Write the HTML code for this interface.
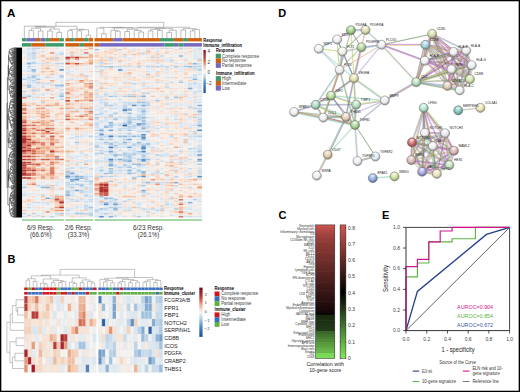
<!DOCTYPE html>
<html><head><meta charset="utf-8"><style>
html,body{margin:0;padding:0;background:#fff;}
body{width:520px;height:392px;overflow:hidden;position:relative;font-family:"Liberation Sans",sans-serif;}
svg{position:absolute;left:0;top:0;}
.frame{position:absolute;left:0;top:0;width:518px;height:390px;border:1px solid #000;box-shadow:inset 0 0 0 0.6px rgba(0,0,0,0.55);}
</style></head><body>
<svg width="520" height="392" viewBox="0 0 520 392" font-family="Liberation Sans, sans-serif">
<text x="6.9" y="16.5" font-size="11.6" fill="#000" font-weight="bold">A</text>
<rect x="22.00" y="38.1" width="4.65" height="3.3" fill="#3f9a6a"/>
<rect x="26.65" y="38.1" width="9.30" height="3.3" fill="#7469bf"/>
<rect x="35.95" y="38.1" width="4.65" height="3.3" fill="#cf600c"/>
<rect x="40.60" y="38.1" width="4.65" height="3.3" fill="#7469bf"/>
<rect x="45.25" y="38.1" width="4.65" height="3.3" fill="#3f9a6a"/>
<rect x="49.90" y="38.1" width="9.30" height="3.3" fill="#cf600c"/>
<rect x="59.20" y="38.1" width="4.65" height="3.3" fill="#3f9a6a"/>
<rect x="65.40" y="38.1" width="4.62" height="3.3" fill="#cf600c"/>
<rect x="70.02" y="38.1" width="4.62" height="3.3" fill="#3f9a6a"/>
<rect x="74.64" y="38.1" width="9.24" height="3.3" fill="#cf600c"/>
<rect x="83.88" y="38.1" width="4.62" height="3.3" fill="#3f9a6a"/>
<rect x="88.50" y="38.1" width="4.62" height="3.3" fill="#cf600c"/>
<rect x="94.50" y="38.1" width="18.68" height="3.3" fill="#cf600c"/>
<rect x="113.18" y="38.1" width="9.34" height="3.3" fill="#7469bf"/>
<rect x="122.52" y="38.1" width="37.36" height="3.3" fill="#cf600c"/>
<rect x="159.88" y="38.1" width="14.01" height="3.3" fill="#3f9a6a"/>
<rect x="173.89" y="38.1" width="9.34" height="3.3" fill="#cf600c"/>
<rect x="183.23" y="38.1" width="4.67" height="3.3" fill="#3f9a6a"/>
<rect x="187.90" y="38.1" width="14.01" height="3.3" fill="#cf600c"/>
<rect x="22.00" y="43.1" width="9.30" height="3.5" fill="#3f9a6a"/>
<rect x="31.30" y="43.1" width="13.95" height="3.5" fill="#cf600c"/>
<rect x="45.25" y="43.1" width="18.60" height="3.5" fill="#3f9a6a"/>
<rect x="65.40" y="43.1" width="13.86" height="3.5" fill="#cf600c"/>
<rect x="79.26" y="43.1" width="4.62" height="3.5" fill="#3f9a6a"/>
<rect x="83.88" y="43.1" width="9.24" height="3.5" fill="#cf600c"/>
<rect x="94.50" y="43.1" width="4.67" height="3.5" fill="#cf600c"/>
<rect x="99.17" y="43.1" width="65.38" height="3.5" fill="#7469bf"/>
<rect x="164.55" y="43.1" width="9.34" height="3.5" fill="#3f9a6a"/>
<rect x="173.89" y="43.1" width="4.67" height="3.5" fill="#7469bf"/>
<rect x="178.56" y="43.1" width="4.67" height="3.5" fill="#3f9a6a"/>
<rect x="183.23" y="43.1" width="18.68" height="3.5" fill="#7469bf"/>
<text transform="translate(203.30,41.50) scale(0.470)" font-size="10" fill="#000" font-weight="bold" textLength="39.79" lengthAdjust="spacingAndGlyphs">Response</text>
<text transform="translate(203.30,46.60) scale(0.470)" font-size="10" fill="#000" font-weight="bold" textLength="82.34" lengthAdjust="spacingAndGlyphs">Immune_infiltration</text>
<path d="M28.97 38.10V30.50H33.62V38.10M38.28 38.10V31.00H42.93V38.10M31.30 30.50V28.20H40.60V31.00M47.58 38.10V31.00H52.23V38.10M56.88 38.10V32.40H61.53V38.10M49.90 31.00V29.00H59.20V32.40M35.95 28.20V27.20H54.55V29.00M24.32 38.10V26.20H45.25V27.20M67.71 38.10V30.60H72.33V38.10M76.95 38.10V30.80H81.57V38.10M86.19 38.10V35.20H90.81V38.10M79.26 30.80V29.80H88.50V35.20M70.02 30.60V29.30H83.88V29.80M34.79 26.20V26.30H76.95V29.30M101.50 38.10V33.90H106.17V38.10M96.83 38.10V28.10H103.84V33.90M115.52 38.10V31.20H120.18V38.10M110.84 38.10V30.40H117.85V31.20M124.85 38.10V31.50H129.53V38.10M138.87 38.10V32.00H143.53V38.10M134.20 38.10V30.50H141.20V32.00M127.19 31.50V29.20H137.70V30.50M114.35 30.40V27.60H132.44V29.20M100.34 28.10V27.40H123.40V27.60M148.21 38.10V31.00H152.88V38.10M157.55 38.10V30.60H162.22V38.10M150.54 31.00V29.40H159.88V30.60M166.89 38.10V32.50H171.56V38.10M169.22 32.50V30.20H176.22V38.10M155.21 29.40V28.60H172.72V30.20M111.87 27.40V27.90H163.97V28.60M180.90 38.10V30.00H185.57V38.10M190.24 38.10V31.00H194.91V38.10M192.57 31.00V29.60H199.58V38.10M183.23 30.00V28.70H196.07V29.60M137.92 27.90V27.25H189.65V28.70M55.87 26.30V22.30H163.78V27.25" fill="none" stroke="#8a8a8a" stroke-width="0.55"/>
<rect x="16.2" y="47.6" width="5.8" height="169.9" fill="#000"/>
<path d="M16.30 156.87H13.50V157.34H16.30M16.30 93.60H13.85V94.07H16.30M16.30 92.65H14.77V93.13H16.30M16.30 179.06H13.90V179.53H16.30M16.30 144.12H13.81V144.59H16.30M16.30 200.77H14.96V201.25H16.30M16.30 94.54H13.61V95.01H16.30M16.30 128.06H14.03V128.54H16.30M16.30 205.97H13.79V206.44H16.30M16.30 161.11H13.30V161.59H16.30M16.30 67.63H14.04V68.10H16.30M16.30 54.88H14.24V55.35H16.30M16.30 120.04H13.51V120.51H16.30M16.30 47.80H14.12V48.27H16.30M16.30 147.89H13.85V148.37H16.30M16.30 115.79H14.37V116.26H16.30M16.30 151.67H13.72V152.14H16.30M16.30 50.63H14.69V51.11H16.30M16.30 190.39H14.66V190.86H16.30M16.30 81.32H14.82V81.79H16.30M16.30 155.92H13.49V156.39H16.30M16.30 199.83H14.66V200.30H16.30M16.30 203.14H15.01V203.61H16.30M16.30 85.10H15.09V85.57H16.30M16.30 132.79H14.93V133.26H16.30M16.30 71.41H14.55V71.88H16.30M16.30 204.55H14.15V205.02H16.30M16.30 173.86H13.48V174.33H16.30M16.30 96.43H13.42V96.90H16.30M16.30 208.80H13.67V209.27H16.30M16.30 192.75H13.89V193.22H16.30M16.30 158.75H15.01V159.23H16.30M16.30 114.37H14.20V114.84H16.30M16.30 206.91H14.69V207.38H16.30M16.30 65.74H13.96V66.21H16.30M16.30 213.05H14.61V213.52H16.30M16.30 102.57H14.22V103.04H16.30M16.30 63.38H14.47V63.85H16.30M16.30 188.97H14.31V189.44H16.30M16.30 168.67H13.37V169.14H16.30M16.30 57.24H13.42V57.72H16.30M16.30 131.84H13.84V132.31H16.30M16.30 178.11H14.78V178.58H16.30M16.30 68.57H14.30V69.05H16.30M16.30 60.08H14.90V60.55H16.30M16.30 177.17H13.49V177.64H16.30M16.30 52.05H13.92V52.52H16.30M16.30 216.83H13.83V217.30H16.30M16.30 119.09H13.39V119.57H16.30M16.30 210.22H13.52V210.69H16.30M16.30 72.82H14.41V73.30H16.30M16.30 74.24H13.35V74.71H16.30M16.30 186.14H13.44V186.61H16.30M16.30 150.26H14.03V150.73H16.30M16.30 143.17H14.38V143.65H16.30M16.30 104.93H13.46V105.40H16.30M16.30 110.60H14.62V111.07H16.30M16.30 86.99H13.72V87.46H16.30M16.30 127.12H14.11V127.59H16.30M16.30 109.65H14.07V110.12H16.30M16.30 138.92H13.54V139.40H16.30M16.30 129.01H14.33V129.48H16.30M16.30 212.11H14.14V212.58H16.30M16.30 125.23H13.59V125.70H16.30M16.30 82.27H13.81V82.74H16.30M16.30 106.35H13.55V106.82H16.30M16.30 123.82H14.00V124.29H16.30M16.30 58.66H13.61V59.13H16.30M16.30 207.86H14.25V208.33H16.30M16.30 75.18H14.79V75.66H16.30M16.30 182.83H13.98V183.31H16.30M16.30 197.00H13.81V197.47H16.30M16.30 78.49H14.55V78.96H16.30M16.30 165.36H13.33V165.84H16.30M16.30 145.53H14.06V146.01H16.30M16.30 180.94H14.20V181.42H16.30M16.30 195.11H13.57V195.58H16.30M16.30 100.68H14.01V101.15H16.30M16.30 90.77H13.43V91.24H16.30M16.30 198.41H13.65V198.89H16.30M16.30 181.89H14.02V182.36H16.30M16.30 112.48H14.42V112.96H16.30M16.30 91.71H14.64V92.18H16.30M16.30 215.88H13.89V216.36H16.30M16.30 56.30H13.99V56.77H16.30M16.30 77.55H14.95V78.02H16.30M16.30 175.75H14.54V176.22H16.30M16.30 88.88H13.43V89.35H16.30M16.30 214.94H14.66V215.41H16.30M16.30 89.82H15.02V90.29H16.30M16.30 99.26H14.39V99.74H16.30M14.69 207.15H13.10V208.09H14.25M16.30 130.43H13.73V130.90H16.30M16.30 187.08H13.54V187.55H16.30M16.30 115.32H12.73V116.02H14.37M16.30 160.17H14.40V160.64H16.30M16.30 79.43H14.78V79.91H16.30M16.30 76.60H14.26V77.07H16.30M16.30 184.72H14.24V185.19H16.30M16.30 53.47H13.42V53.94H16.30M16.30 166.31H14.06V166.78H16.30M16.30 84.16H15.05V84.63H16.30M16.30 113.43H14.83V113.90H16.30M16.30 107.76H13.93V108.23H16.30M16.30 69.99H14.92V70.46H16.30M16.30 117.68H14.19V118.15H16.30M15.05 84.39H13.82V85.34H15.09M16.30 167.25H14.64V167.72H16.30M16.30 121.45H14.30V121.93H16.30M16.30 152.62H14.88V153.09H16.30M16.30 183.78H14.90V184.25H16.30M16.30 169.61H13.42V170.09H16.30M16.30 146.95H14.66V147.42H16.30M16.30 108.71H14.52V109.18H16.30M16.30 66.69H14.72V67.16H16.30M16.30 122.40H14.37V122.87H16.30M16.30 170.56H14.18V171.03H16.30M16.30 80.38H14.67V80.85H16.30M16.30 103.51H14.86V103.99H16.30M16.30 162.53H13.86V163.00H16.30M16.30 98.32H14.36V98.79H16.30M14.67 80.61H13.34V81.56H14.82M16.30 142.23H14.61V142.70H16.30M16.30 188.03H15.06V188.50H16.30M13.98 183.07H13.21V184.01H14.90M16.30 141.28H14.65V141.76H16.30M16.30 49.22H14.53V49.69H16.30M16.30 149.31H14.05V149.78H16.30M16.30 154.50H13.83V154.98H16.30M16.30 61.49H13.90V61.96H16.30M16.30 191.80H14.27V192.28H16.30M16.30 140.81H13.21V141.52H14.65M16.30 131.37H13.06V132.08H13.84M16.30 126.18H14.01V126.65H16.30M16.30 172.92H13.39V173.39H16.30M16.30 174.81H15.05V175.28H16.30M14.24 55.12H12.91V55.83H16.30M14.33 129.24H13.80V129.95H16.30M14.07 109.89H12.86V110.83H14.62M16.30 111.54H13.43V112.01H16.30M16.30 135.15H13.33V135.62H16.30M14.88 152.85H12.92V153.56H16.30M16.30 193.69H14.54V194.16H16.30M16.30 171.97H14.21V172.45H16.30M14.92 70.23H13.50V70.94H16.30M16.30 137.98H13.79V138.45H16.30M14.01 100.92H12.81V101.62H16.30M14.66 200.07H13.34V201.01H14.96M16.30 72.35H13.58V73.06H14.41M14.42 112.72H13.21V113.66H14.83M14.86 103.75H13.24V104.46H16.30M14.54 193.93H13.12V194.64H16.30M16.30 97.38H14.06V97.85H16.30M16.30 191.33H12.94V192.04H14.27M14.53 49.45H14.02V50.16H16.30M14.04 67.87H13.24V68.81H14.30M16.30 64.80H13.98V65.27H16.30M14.02 182.13H12.45V183.54H13.21M16.30 123.34H13.41V124.05H14.00M16.30 146.48H12.92V147.19H14.66M16.30 214.47H13.04V215.18H14.66M13.81 82.50H12.57V83.21H16.30M14.64 167.49H13.01V168.20H16.30M14.93 133.02H13.43V133.73H16.30M14.47 63.62H13.87V64.33H16.30M16.30 157.81H14.13V158.28H16.30M14.02 49.81H12.42V50.87H14.69M14.24 184.96H13.09V185.67H16.30M14.15 204.79H13.40V205.50H16.30M16.30 134.20H13.43V134.67H16.30M14.05 149.55H12.81V150.49H14.03M13.40 205.14H12.10V206.20H13.79M14.36 98.56H13.31V99.50H14.39M13.96 65.98H12.48V66.92H14.72M16.30 136.09H13.92V136.56H16.30M16.30 137.04H13.99V137.51H16.30M16.30 180.00H13.64V180.47H16.30M16.30 116.73H14.97V117.21H16.30M16.30 86.52H12.51V87.22H13.72M15.06 188.26H13.41V189.21H14.31M13.80 129.60H12.99V130.66H13.73M16.30 124.76H12.43V125.47H13.59M16.30 154.03H13.11V154.74H13.83M15.05 175.04H12.94V175.99H14.54M13.92 136.33H12.64V137.27H13.99M16.30 62.91H12.56V63.97H13.87M16.30 58.19H12.20V58.90H13.61M16.30 164.42H13.83V164.89H16.30M16.30 76.13H13.21V76.84H14.26M13.50 157.10H11.97V158.05H14.13M13.43 91.00H12.60V91.95H14.64M13.90 61.73H12.87V62.44H16.30M14.55 78.73H12.93V79.67H14.78M13.92 52.29H12.75V52.99H16.30M16.30 102.10H13.51V102.80H14.22M15.01 203.37H13.28V204.08H16.30M13.10 207.62H12.55V209.04H13.67M15.01 158.99H13.41V159.70H16.30M14.78 178.35H12.37V179.29H13.90M14.61 142.47H12.72V143.41H14.38M14.90 60.31H13.11V61.02H16.30M13.57 195.35H12.24V196.05H16.30M16.30 176.70H12.05V177.40H13.49M16.30 171.50H12.59V172.21H14.21M16.30 163.48H14.51V163.95H16.30M14.30 121.69H13.78V122.63H14.37M16.30 211.16H13.55V211.63H16.30M13.85 148.13H13.09V148.84H16.30M13.44 186.37H12.98V187.32H13.54M13.43 134.44H12.06V135.38H13.33M13.39 173.15H12.78V174.10H13.48M16.30 201.72H14.73V202.19H16.30M14.51 163.71H12.71V164.66H13.83M13.50 70.58H12.30V71.64H14.55M16.30 162.06H12.61V162.77H13.86M12.94 191.69H12.28V192.98H13.89M16.30 83.68H12.29V84.86H13.82M14.61 213.29H13.01V213.99H16.30M16.30 120.98H13.14V122.16H13.78M14.40 160.41H11.86V161.35H13.30M12.98 186.85H12.56V188.74H13.41M16.30 88.40H12.85V89.11H13.43M13.42 169.85H12.95V170.79H14.18M16.30 95.96H12.57V96.67H13.42M13.55 211.40H13.01V212.34H14.14M14.73 201.96H13.67V202.66H16.30M16.30 145.06H12.37V145.77H14.06M14.01 126.41H13.34V127.36H14.11M14.06 166.54H12.45V167.84H13.01M16.30 139.87H14.52V140.34H16.30M14.19 117.91H13.04V118.62H16.30M16.30 107.29H13.19V108.00H13.93M13.31 99.03H12.56V100.21H16.30M13.81 197.23H12.81V197.94H16.30M13.89 216.12H13.26V217.06H13.83M13.54 139.16H13.10V140.10H14.52M16.30 73.77H12.12V74.48H13.35M13.09 148.48H12.34V150.02H12.81M14.12 48.04H12.76V48.74H16.30M13.55 106.58H12.42V107.64H13.19M14.79 75.42H11.94V76.48H13.21M13.42 53.70H12.13V54.41H16.30M12.81 101.27H11.77V102.45H13.51M13.11 154.39H12.04V155.45H16.30M16.30 51.58H11.99V52.64H12.75M14.97 116.97H12.57V118.27H13.04M13.51 120.27H12.65V121.57H13.14M14.77 92.89H12.62V93.83H13.85M16.30 189.92H13.92V190.62H14.66M13.79 138.22H12.36V139.63H13.10M13.65 198.65H12.75V199.36H16.30M13.04 214.82H11.71V216.59H13.26M13.01 211.87H12.55V213.64H13.01M16.30 151.20H12.78V151.91H13.72M12.42 107.11H11.39V108.94H14.52M13.06 131.72H12.36V133.38H13.43M13.46 105.17H12.80V105.87H16.30M12.78 151.55H11.44V153.21H12.92M12.48 66.45H11.26V68.34H13.24M13.34 126.88H11.90V128.30H14.03M16.30 59.60H11.80V60.67H13.11M12.60 91.47H11.61V93.36H12.62M12.59 171.86H12.19V173.63H12.78M13.33 165.60H11.19V167.19H12.45M12.57 96.31H11.95V97.61H14.06M12.73 115.67H11.35V117.62H12.57M13.37 168.91H11.86V170.32H12.95M13.61 94.78H12.67V95.49H16.30M13.39 119.33H12.20V120.92H12.65M13.43 111.78H11.89V113.19H13.21M16.30 87.93H11.63V88.76H12.85M12.61 162.41H11.64V164.18H12.71M13.67 202.31H12.65V203.73H13.28M16.30 209.75H12.28V210.45H13.52M13.41 123.70H11.79V125.11H12.43M12.56 63.44H12.02V65.03H13.98M12.12 74.12H11.50V75.95H11.94M13.64 180.24H12.79V181.18H14.20M13.34 200.54H12.10V203.02H12.65M11.79 124.41H11.40V127.59H11.90M12.19 172.74H11.01V175.52H12.94M13.99 56.53H12.34V57.48H13.42M12.24 195.70H11.16V196.53H16.30M16.30 69.52H11.76V71.11H12.30M12.13 54.06H11.08V55.47H12.91M12.79 180.71H12.17V182.83H12.45M12.28 192.34H11.44V194.28H13.12M13.21 141.17H11.85V142.94H12.72M12.81 197.59H11.80V199.00H12.75M12.93 79.20H11.87V81.09H13.34M11.89 112.48H11.10V114.61H14.20M12.34 57.01H11.32V58.54H12.20M12.56 187.79H12.10V190.27H13.92M12.55 208.33H11.54V210.10H12.28M12.99 130.13H11.16V132.55H12.36M12.37 145.42H11.64V146.83H12.92M12.37 178.82H11.16V181.77H12.17M16.30 86.04H11.69V86.87H12.51M13.09 185.31H11.45V189.03H12.10M13.41 159.34H10.97V160.88H11.86M11.64 146.12H11.09V149.25H12.34M11.87 80.14H10.94V82.86H12.57M11.26 67.39H10.35V70.32H11.76M13.58 72.71H10.77V75.04H11.50M12.76 48.39H11.23V50.34H12.42M12.87 62.08H11.45V64.24H12.02M11.80 60.13H10.32V63.16H11.45M12.10 201.78H11.53V205.67H12.10M13.49 156.16H11.25V157.57H11.97M12.67 95.13H10.78V96.96H11.95M11.69 86.46H11.00V88.35H11.63M12.55 212.76H10.92V215.71H11.71M12.06 134.91H10.88V136.80H12.64M12.36 138.92H11.25V142.05H11.85M15.02 90.06H11.17V92.42H11.61M12.56 99.62H11.06V101.86H11.77M11.80 198.30H10.78V203.73H11.53M12.86 110.36H10.54V113.55H11.10M11.99 52.11H10.69V54.76H11.08M11.44 152.38H10.37V154.92H12.04M13.24 104.10H12.43V105.52H12.80M12.29 84.27H10.75V87.40H11.00M11.25 140.49H10.26V144.35H13.81M12.20 120.13H10.55V126.00H11.40M11.19 166.40H10.92V169.61H11.86M11.17 91.24H10.38V96.05H10.78M12.05 177.05H10.47V180.30H11.16M11.44 193.31H10.79V196.11H11.16M14.95 77.78H10.10V81.50H10.94M10.79 194.71H10.25V201.01H10.78M11.06 100.74H10.63V104.81H12.43M11.54 209.21H10.15V214.23H10.92M11.23 49.36H9.66V53.44H10.69M10.92 168.01H10.21V174.13H11.01M11.35 116.64H9.63V123.06H10.55M10.63 102.78H9.76V108.03H11.39M10.37 153.65H9.76V156.87H11.25M9.76 105.40H9.39V111.95H10.54M10.97 160.11H10.44V163.30H11.64M11.16 131.34H9.89V135.86H10.88M10.21 171.07H9.45V178.67H10.47M10.35 68.85H9.41V73.87H10.77M9.76 155.26H9.18V161.70H10.44M10.75 85.84H9.46V93.64H10.38M11.32 57.77H9.85V61.65H10.32M9.45 174.87H8.67V187.17H11.45M9.89 133.60H9.22V142.42H10.26M9.66 51.40H8.89V59.71H9.85M10.25 197.86H9.46V211.72H10.15M9.41 71.36H8.88V79.64H10.10M9.39 108.68H8.62V119.85H9.63M9.22 138.01H8.69V147.69H11.09M8.89 55.56H8.51V75.50H8.88M9.18 158.48H8.49V181.02H8.67M8.62 114.27H8.07V142.85H8.69M8.51 65.53H8.10V89.74H9.46M8.49 169.75H7.85V204.79H9.46M8.10 77.63H7.36V128.56H8.07M7.36 103.10H7.00V187.27H7.85" fill="none" stroke="#000" stroke-width="0.45"/>
<defs><filter id="hblur" x="-1%" y="-1%" width="102%" height="102%"><feGaussianBlur stdDeviation="0.3 0.45"/></filter></defs>
<g filter="url(#hblur)"><g transform="translate(22.0,47.5) scale(4.65,1.5455)">
<path fill="#f4f1ef" d="M0 0h1v1h-1zM8 0h1v1h-1zM4 1h1v1h-1zM7 1h1v1h-1zM8 1h1v1h-1zM4 3h1v1h-1zM6 4h1v1h-1zM0 5h1v1h-1zM1 8h1v1h-1zM0 9h1v1h-1zM0 13h1v1h-1zM4 14h1v1h-1zM0 16h1v1h-1zM6 18h1v1h-1zM8 20h1v1h-1zM7 23h1v1h-1zM4 28h1v1h-1zM8 28h1v1h-1zM6 29h1v1h-1zM4 31h1v1h-1zM6 31h1v1h-1zM5 33h1v1h-1zM1 34h1v1h-1zM3 38h1v1h-1zM2 43h1v1h-1zM6 43h1v1h-1zM3 45h1v1h-1zM2 46h1v1h-1zM6 56h1v1h-1zM8 56h1v1h-1zM7 68h1v1h-1zM7 79h1v1h-1zM8 84h1v1h-1zM5 86h1v1h-1zM2 93h1v1h-1zM7 93h1v1h-1zM3 96h1v1h-1zM5 96h1v1h-1zM0 101h1v1h-1zM2 101h1v1h-1zM4 102h1v1h-1zM5 102h1v1h-1zM3 106h1v1h-1z"/>
<path fill="#d5e3ef" d="M1 0h1v1h-1zM3 10h1v1h-1zM5 10h1v1h-1zM2 12h1v1h-1zM2 16h1v1h-1zM6 19h1v1h-1zM1 20h1v1h-1zM1 21h1v1h-1zM2 22h1v1h-1zM6 28h1v1h-1zM5 29h1v1h-1zM0 30h1v1h-1zM2 30h1v1h-1zM2 32h1v1h-1zM2 45h1v1h-1zM4 69h1v1h-1zM7 87h1v1h-1zM0 88h1v1h-1zM7 89h1v1h-1zM0 93h1v1h-1zM5 100h1v1h-1zM5 101h1v1h-1zM2 109h1v1h-1z"/>
<path fill="#bdd4e8" d="M2 0h1v1h-1zM8 3h1v1h-1zM7 6h1v1h-1zM7 7h1v1h-1zM2 10h1v1h-1zM7 10h1v1h-1zM1 12h1v1h-1zM5 19h1v1h-1zM2 21h1v1h-1zM3 22h1v1h-1zM3 27h1v1h-1zM8 33h1v1h-1zM1 108h1v1h-1zM4 109h1v1h-1zM6 109h1v1h-1z"/>
<path fill="#b5cfe6" d="M3 0h1v1h-1zM2 9h1v1h-1zM8 10h1v1h-1zM1 19h1v1h-1zM0 28h1v1h-1zM8 30h1v1h-1zM4 35h1v1h-1zM4 95h1v1h-1zM0 107h1v1h-1zM2 107h1v1h-1z"/>
<path fill="#f6d4be" d="M4 0h1v1h-1zM6 11h1v1h-1zM4 16h1v1h-1zM6 24h1v1h-1zM6 27h1v1h-1zM3 32h1v1h-1zM5 34h1v1h-1zM4 36h1v1h-1zM6 36h1v1h-1zM3 40h1v1h-1zM0 41h1v1h-1zM5 41h1v1h-1zM1 44h1v1h-1zM7 46h1v1h-1zM8 46h1v1h-1zM3 47h1v1h-1zM4 52h1v1h-1zM2 54h1v1h-1zM7 54h1v1h-1zM8 54h1v1h-1zM1 56h1v1h-1zM5 56h1v1h-1zM2 58h1v1h-1zM3 58h1v1h-1zM3 63h1v1h-1zM6 65h1v1h-1zM7 66h1v1h-1zM5 67h1v1h-1zM8 70h1v1h-1zM2 71h1v1h-1zM8 74h1v1h-1zM5 75h1v1h-1zM5 89h1v1h-1zM5 91h1v1h-1z"/>
<path fill="#f8e6da" d="M5 0h1v1h-1zM6 0h1v1h-1zM6 1h1v1h-1zM0 3h1v1h-1zM5 3h1v1h-1zM5 4h1v1h-1zM8 5h1v1h-1zM0 6h1v1h-1zM8 6h1v1h-1zM4 9h1v1h-1zM7 9h1v1h-1zM0 10h1v1h-1zM4 12h1v1h-1zM7 13h1v1h-1zM4 20h1v1h-1zM5 22h1v1h-1zM3 24h1v1h-1zM0 26h1v1h-1zM1 27h1v1h-1zM1 28h1v1h-1zM2 31h1v1h-1zM1 32h1v1h-1zM5 32h1v1h-1zM0 33h1v1h-1zM4 33h1v1h-1zM7 34h1v1h-1zM1 35h1v1h-1zM6 35h1v1h-1zM8 38h1v1h-1zM6 39h1v1h-1zM4 40h1v1h-1zM7 40h1v1h-1zM1 43h1v1h-1zM8 44h1v1h-1zM8 49h1v1h-1zM7 53h1v1h-1zM3 54h1v1h-1zM4 60h1v1h-1zM7 80h1v1h-1zM2 83h1v1h-1zM8 83h1v1h-1zM1 91h1v1h-1zM1 96h1v1h-1zM2 98h1v1h-1zM5 98h1v1h-1zM5 99h1v1h-1zM0 102h1v1h-1zM2 103h1v1h-1zM3 104h1v1h-1zM7 104h1v1h-1zM3 105h1v1h-1zM4 108h1v1h-1z"/>
<path fill="#dae6f0" d="M7 0h1v1h-1zM0 2h1v1h-1zM2 2h1v1h-1zM7 12h1v1h-1zM1 17h1v1h-1zM1 18h1v1h-1zM2 23h1v1h-1zM6 23h1v1h-1zM4 24h1v1h-1zM3 30h1v1h-1zM0 86h1v1h-1zM5 88h1v1h-1zM4 89h1v1h-1zM3 92h1v1h-1zM2 94h1v1h-1zM3 95h1v1h-1zM8 95h1v1h-1zM4 105h1v1h-1zM7 108h1v1h-1z"/>
<path fill="#efeff0" d="M0 1h1v1h-1zM4 7h1v1h-1zM3 8h1v1h-1zM3 11h1v1h-1zM8 11h1v1h-1zM3 12h1v1h-1zM6 12h1v1h-1zM2 13h1v1h-1zM3 14h1v1h-1zM3 15h1v1h-1zM8 15h1v1h-1zM5 20h1v1h-1zM6 20h1v1h-1zM0 21h1v1h-1zM7 27h1v1h-1zM5 28h1v1h-1zM1 29h1v1h-1zM5 30h1v1h-1zM7 32h1v1h-1zM3 33h1v1h-1zM7 38h1v1h-1zM3 49h1v1h-1zM3 71h1v1h-1zM4 71h1v1h-1zM4 76h1v1h-1zM8 77h1v1h-1zM6 86h1v1h-1zM5 87h1v1h-1zM8 89h1v1h-1zM3 90h1v1h-1zM4 91h1v1h-1zM0 92h1v1h-1zM8 92h1v1h-1zM1 93h1v1h-1zM4 93h1v1h-1zM7 94h1v1h-1zM2 95h1v1h-1zM0 98h1v1h-1zM3 98h1v1h-1zM4 99h1v1h-1zM6 102h1v1h-1z"/>
<path fill="#d0e0ee" d="M1 1h1v1h-1zM4 2h1v1h-1zM3 3h1v1h-1zM1 4h1v1h-1zM7 4h1v1h-1zM4 10h1v1h-1zM8 12h1v1h-1zM1 13h1v1h-1zM3 18h1v1h-1zM1 22h1v1h-1zM3 23h1v1h-1zM4 23h1v1h-1zM7 91h1v1h-1zM2 100h1v1h-1zM4 100h1v1h-1zM3 108h1v1h-1zM0 109h1v1h-1z"/>
<path fill="#cbddec" d="M2 1h1v1h-1zM1 3h1v1h-1zM2 4h1v1h-1zM1 5h1v1h-1zM2 5h1v1h-1zM2 6h1v1h-1zM2 7h1v1h-1zM1 15h1v1h-1zM2 25h1v1h-1zM8 25h1v1h-1zM2 28h1v1h-1zM4 30h1v1h-1zM0 31h1v1h-1zM3 100h1v1h-1zM1 101h1v1h-1z"/>
<path fill="#f7eae1" d="M3 1h1v1h-1zM5 1h1v1h-1zM3 2h1v1h-1zM6 2h1v1h-1zM3 4h1v1h-1zM0 7h1v1h-1zM6 9h1v1h-1zM5 14h1v1h-1zM1 16h1v1h-1zM3 16h1v1h-1zM5 16h1v1h-1zM8 16h1v1h-1zM4 17h1v1h-1zM8 23h1v1h-1zM5 25h1v1h-1zM4 26h1v1h-1zM7 28h1v1h-1zM6 33h1v1h-1zM3 34h1v1h-1zM8 35h1v1h-1zM5 38h1v1h-1zM1 39h1v1h-1zM6 42h1v1h-1zM8 45h1v1h-1zM8 47h1v1h-1zM7 50h1v1h-1zM1 51h1v1h-1zM7 51h1v1h-1zM8 51h1v1h-1zM3 57h1v1h-1zM7 62h1v1h-1zM7 63h1v1h-1zM2 64h1v1h-1zM8 65h1v1h-1zM8 69h1v1h-1zM7 76h1v1h-1zM5 77h1v1h-1zM4 81h1v1h-1zM2 86h1v1h-1zM3 87h1v1h-1zM6 88h1v1h-1zM1 90h1v1h-1zM2 90h1v1h-1zM7 90h1v1h-1zM2 91h1v1h-1zM5 92h1v1h-1zM3 93h1v1h-1zM5 94h1v1h-1zM6 94h1v1h-1zM1 100h1v1h-1zM4 104h1v1h-1zM8 104h1v1h-1zM5 105h1v1h-1zM2 106h1v1h-1zM2 108h1v1h-1z"/>
<path fill="#e4ecf3" d="M1 2h1v1h-1zM8 2h1v1h-1zM7 3h1v1h-1zM8 8h1v1h-1zM3 9h1v1h-1zM1 11h1v1h-1zM3 13h1v1h-1zM6 13h1v1h-1zM0 14h1v1h-1zM0 15h1v1h-1zM2 17h1v1h-1zM8 17h1v1h-1zM2 20h1v1h-1zM8 21h1v1h-1zM8 22h1v1h-1zM0 23h1v1h-1zM0 25h1v1h-1zM6 25h1v1h-1zM4 27h1v1h-1zM5 31h1v1h-1zM8 32h1v1h-1zM0 34h1v1h-1zM1 38h1v1h-1zM2 38h1v1h-1zM6 38h1v1h-1zM5 39h1v1h-1zM6 45h1v1h-1zM1 46h1v1h-1zM7 49h1v1h-1zM6 51h1v1h-1zM5 57h1v1h-1zM0 94h1v1h-1zM1 94h1v1h-1zM1 95h1v1h-1zM5 95h1v1h-1zM2 97h1v1h-1zM4 101h1v1h-1zM3 102h1v1h-1zM1 105h1v1h-1zM5 109h1v1h-1zM7 109h1v1h-1z"/>
<path fill="#f5ede8" d="M5 2h1v1h-1zM5 5h1v1h-1zM0 8h1v1h-1zM5 8h1v1h-1zM2 11h1v1h-1zM7 15h1v1h-1zM4 21h1v1h-1zM5 21h1v1h-1zM7 21h1v1h-1zM7 22h1v1h-1zM1 26h1v1h-1zM8 26h1v1h-1zM8 34h1v1h-1zM2 37h1v1h-1zM7 41h1v1h-1zM7 48h1v1h-1zM2 51h1v1h-1zM4 58h1v1h-1zM7 58h1v1h-1zM7 69h1v1h-1zM8 71h1v1h-1zM3 73h1v1h-1zM8 73h1v1h-1zM8 78h1v1h-1zM3 85h1v1h-1zM4 86h1v1h-1zM7 86h1v1h-1zM3 91h1v1h-1zM1 92h1v1h-1zM8 93h1v1h-1zM3 94h1v1h-1zM4 94h1v1h-1zM8 94h1v1h-1zM0 97h1v1h-1zM1 97h1v1h-1zM3 99h1v1h-1zM5 103h1v1h-1zM6 103h1v1h-1zM0 106h1v1h-1zM1 106h1v1h-1zM1 107h1v1h-1zM0 108h1v1h-1zM5 108h1v1h-1zM6 108h1v1h-1z"/>
<path fill="#e9eef2" d="M7 2h1v1h-1zM0 4h1v1h-1zM3 7h1v1h-1zM2 8h1v1h-1zM8 9h1v1h-1zM0 11h1v1h-1zM0 12h1v1h-1zM8 13h1v1h-1zM0 18h1v1h-1zM4 18h1v1h-1zM7 18h1v1h-1zM3 19h1v1h-1zM4 19h1v1h-1zM7 19h1v1h-1zM0 22h1v1h-1zM2 24h1v1h-1zM5 24h1v1h-1zM3 25h1v1h-1zM0 27h1v1h-1zM3 29h1v1h-1zM1 33h1v1h-1zM7 33h1v1h-1zM2 34h1v1h-1zM3 35h1v1h-1zM8 36h1v1h-1zM3 77h1v1h-1zM8 80h1v1h-1zM0 85h1v1h-1zM3 86h1v1h-1zM4 87h1v1h-1zM6 87h1v1h-1zM8 87h1v1h-1zM4 88h1v1h-1zM8 88h1v1h-1zM0 89h1v1h-1zM0 91h1v1h-1zM4 92h1v1h-1zM7 92h1v1h-1zM5 93h1v1h-1zM0 96h1v1h-1zM3 97h1v1h-1zM4 97h1v1h-1zM3 101h1v1h-1zM6 101h1v1h-1zM1 102h1v1h-1zM1 104h1v1h-1zM3 107h1v1h-1zM5 107h1v1h-1zM6 107h1v1h-1zM8 109h1v1h-1z"/>
<path fill="#acc9e3" d="M2 3h1v1h-1zM2 15h1v1h-1zM2 19h1v1h-1zM0 20h1v1h-1zM2 27h1v1h-1zM0 90h1v1h-1zM8 107h1v1h-1z"/>
<path fill="#e28a6c" d="M6 3h1v1h-1zM0 37h1v1h-1zM2 48h1v1h-1zM6 59h1v1h-1zM1 60h1v1h-1zM6 75h1v1h-1zM8 105h1v1h-1zM5 106h1v1h-1z"/>
<path fill="#f8e2d4" d="M4 4h1v1h-1zM3 6h1v1h-1zM7 11h1v1h-1zM0 17h1v1h-1zM5 17h1v1h-1zM3 21h1v1h-1zM5 26h1v1h-1zM0 29h1v1h-1zM4 29h1v1h-1zM7 30h1v1h-1zM6 34h1v1h-1zM2 35h1v1h-1zM5 35h1v1h-1zM3 36h1v1h-1zM2 39h1v1h-1zM7 39h1v1h-1zM6 40h1v1h-1zM8 40h1v1h-1zM3 43h1v1h-1zM5 43h1v1h-1zM6 44h1v1h-1zM4 46h1v1h-1zM6 46h1v1h-1zM6 48h1v1h-1zM5 51h1v1h-1zM6 54h1v1h-1zM8 59h1v1h-1zM7 73h1v1h-1zM7 75h1v1h-1zM8 76h1v1h-1zM3 83h1v1h-1zM4 85h1v1h-1zM1 86h1v1h-1zM1 87h1v1h-1zM1 89h1v1h-1zM2 89h1v1h-1zM6 92h1v1h-1zM0 100h1v1h-1zM6 100h1v1h-1zM3 103h1v1h-1zM2 105h1v1h-1zM4 106h1v1h-1zM6 106h1v1h-1zM1 109h1v1h-1zM3 109h1v1h-1z"/>
<path fill="#c6daeb" d="M8 4h1v1h-1zM1 7h1v1h-1zM1 9h1v1h-1zM8 19h1v1h-1zM5 23h1v1h-1zM4 25h1v1h-1zM7 25h1v1h-1zM8 27h1v1h-1zM8 29h1v1h-1zM3 89h1v1h-1zM6 90h1v1h-1zM0 95h1v1h-1zM7 95h1v1h-1zM6 97h1v1h-1zM1 103h1v1h-1zM7 107h1v1h-1z"/>
<path fill="#f7dfcf" d="M3 5h1v1h-1zM6 5h1v1h-1zM7 5h1v1h-1zM5 6h1v1h-1zM5 12h1v1h-1zM6 16h1v1h-1zM7 16h1v1h-1zM2 26h1v1h-1zM3 26h1v1h-1zM6 26h1v1h-1zM1 36h1v1h-1zM0 38h1v1h-1zM2 41h1v1h-1zM7 42h1v1h-1zM0 43h1v1h-1zM2 44h1v1h-1zM7 44h1v1h-1zM1 48h1v1h-1zM8 52h1v1h-1zM8 53h1v1h-1zM3 56h1v1h-1zM8 60h1v1h-1zM8 62h1v1h-1zM8 68h1v1h-1zM3 69h1v1h-1zM4 73h1v1h-1zM1 76h1v1h-1zM8 79h1v1h-1zM3 80h1v1h-1zM7 82h1v1h-1zM1 83h1v1h-1zM5 85h1v1h-1zM8 85h1v1h-1zM8 90h1v1h-1zM2 92h1v1h-1zM2 99h1v1h-1zM0 103h1v1h-1zM4 103h1v1h-1zM7 106h1v1h-1zM8 106h1v1h-1z"/>
<path fill="#f1b798" d="M4 5h1v1h-1zM6 15h1v1h-1zM6 37h1v1h-1zM7 37h1v1h-1zM4 41h1v1h-1zM5 42h1v1h-1zM0 44h1v1h-1zM4 48h1v1h-1zM0 49h1v1h-1zM5 49h1v1h-1zM3 50h1v1h-1zM4 50h1v1h-1zM3 55h1v1h-1zM5 59h1v1h-1zM3 62h1v1h-1zM7 64h1v1h-1zM5 66h1v1h-1zM8 67h1v1h-1zM0 69h1v1h-1zM1 69h1v1h-1zM4 70h1v1h-1zM2 73h1v1h-1zM1 88h1v1h-1z"/>
<path fill="#dfe9f2" d="M1 6h1v1h-1zM6 10h1v1h-1zM1 14h1v1h-1zM7 17h1v1h-1zM0 19h1v1h-1zM7 20h1v1h-1zM1 23h1v1h-1zM7 29h1v1h-1zM1 30h1v1h-1zM3 31h1v1h-1zM7 31h1v1h-1zM2 33h1v1h-1zM7 47h1v1h-1zM7 85h1v1h-1zM8 86h1v1h-1zM0 87h1v1h-1zM3 88h1v1h-1zM7 88h1v1h-1zM2 102h1v1h-1zM0 104h1v1h-1zM2 104h1v1h-1zM5 104h1v1h-1zM4 107h1v1h-1z"/>
<path fill="#f7dbca" d="M4 6h1v1h-1zM8 7h1v1h-1zM6 8h1v1h-1zM4 11h1v1h-1zM5 11h1v1h-1zM6 14h1v1h-1zM7 14h1v1h-1zM3 17h1v1h-1zM7 26h1v1h-1zM3 28h1v1h-1zM0 35h1v1h-1zM4 37h1v1h-1zM1 40h1v1h-1zM1 41h1v1h-1zM6 41h1v1h-1zM8 41h1v1h-1zM8 43h1v1h-1zM1 45h1v1h-1zM7 45h1v1h-1zM3 46h1v1h-1zM5 46h1v1h-1zM8 50h1v1h-1zM7 52h1v1h-1zM7 57h1v1h-1zM5 62h1v1h-1zM8 63h1v1h-1zM0 71h1v1h-1zM5 73h1v1h-1zM5 74h1v1h-1zM7 77h1v1h-1zM5 80h1v1h-1zM7 81h1v1h-1zM7 83h1v1h-1zM6 93h1v1h-1zM6 95h1v1h-1zM2 96h1v1h-1zM6 96h1v1h-1zM6 98h1v1h-1zM7 101h1v1h-1zM7 102h1v1h-1zM6 105h1v1h-1z"/>
<path fill="#f6d0b9" d="M6 6h1v1h-1zM4 8h1v1h-1zM5 9h1v1h-1zM4 13h1v1h-1zM6 30h1v1h-1zM4 32h1v1h-1zM8 37h1v1h-1zM3 44h1v1h-1zM2 47h1v1h-1zM2 53h1v1h-1zM2 56h1v1h-1zM2 59h1v1h-1zM5 60h1v1h-1zM5 63h1v1h-1zM6 64h1v1h-1zM7 65h1v1h-1zM6 71h1v1h-1zM6 73h1v1h-1zM3 74h1v1h-1zM4 77h1v1h-1zM5 84h1v1h-1zM1 98h1v1h-1zM1 99h1v1h-1z"/>
<path fill="#f2bda0" d="M5 7h1v1h-1zM6 7h1v1h-1zM6 17h1v1h-1zM2 36h1v1h-1zM3 42h1v1h-1zM4 42h1v1h-1zM3 60h1v1h-1zM4 65h1v1h-1zM4 74h1v1h-1zM4 75h1v1h-1zM2 76h1v1h-1zM4 78h1v1h-1zM2 80h1v1h-1zM2 87h1v1h-1zM8 97h1v1h-1z"/>
<path fill="#f7d7c4" d="M7 8h1v1h-1zM5 15h1v1h-1zM5 18h1v1h-1zM4 22h1v1h-1zM6 22h1v1h-1zM2 29h1v1h-1zM7 35h1v1h-1zM5 36h1v1h-1zM2 40h1v1h-1zM1 42h1v1h-1zM2 42h1v1h-1zM5 45h1v1h-1zM4 51h1v1h-1zM7 56h1v1h-1zM8 58h1v1h-1zM8 61h1v1h-1zM5 68h1v1h-1zM5 71h1v1h-1zM0 73h1v1h-1zM1 73h1v1h-1zM8 75h1v1h-1zM6 76h1v1h-1zM5 78h1v1h-1zM7 78h1v1h-1zM1 80h1v1h-1zM4 80h1v1h-1zM8 82h1v1h-1zM5 83h1v1h-1zM6 85h1v1h-1zM0 99h1v1h-1zM6 99h1v1h-1z"/>
<path fill="#89b1d8" d="M1 10h1v1h-1zM7 71h1v1h-1z"/>
<path fill="#efb090" d="M5 13h1v1h-1zM0 36h1v1h-1zM3 37h1v1h-1zM4 44h1v1h-1zM0 45h1v1h-1zM1 53h1v1h-1zM6 53h1v1h-1zM7 55h1v1h-1zM6 63h1v1h-1zM3 64h1v1h-1zM4 64h1v1h-1zM8 64h1v1h-1zM4 66h1v1h-1zM3 72h1v1h-1zM2 77h1v1h-1zM5 81h1v1h-1zM3 82h1v1h-1zM4 82h1v1h-1zM7 96h1v1h-1zM8 96h1v1h-1zM8 98h1v1h-1zM7 99h1v1h-1z"/>
<path fill="#80aad5" d="M2 14h1v1h-1zM5 97h1v1h-1z"/>
<path fill="#568ac4" d="M8 14h1v1h-1z"/>
<path fill="#f3c3a9" d="M4 15h1v1h-1zM1 37h1v1h-1zM5 40h1v1h-1zM3 41h1v1h-1zM2 49h1v1h-1zM1 54h1v1h-1zM4 54h1v1h-1zM8 55h1v1h-1zM4 56h1v1h-1zM5 58h1v1h-1zM3 59h1v1h-1zM7 59h1v1h-1zM7 60h1v1h-1zM5 61h1v1h-1zM3 66h1v1h-1zM6 68h1v1h-1zM5 76h1v1h-1zM3 78h1v1h-1zM6 83h1v1h-1zM6 89h1v1h-1zM8 91h1v1h-1zM8 101h1v1h-1zM6 104h1v1h-1z"/>
<path fill="#9bbede" d="M2 18h1v1h-1z"/>
<path fill="#a3c3e0" d="M8 18h1v1h-1zM3 20h1v1h-1zM1 24h1v1h-1zM7 24h1v1h-1zM1 31h1v1h-1z"/>
<path fill="#eeaa88" d="M6 21h1v1h-1zM6 32h1v1h-1zM8 39h1v1h-1zM5 48h1v1h-1zM5 50h1v1h-1zM6 50h1v1h-1zM1 52h1v1h-1zM0 56h1v1h-1zM2 57h1v1h-1zM8 57h1v1h-1zM1 58h1v1h-1zM6 60h1v1h-1zM7 61h1v1h-1zM4 63h1v1h-1zM5 65h1v1h-1zM6 69h1v1h-1zM6 70h1v1h-1zM3 79h1v1h-1zM5 82h1v1h-1zM4 83h1v1h-1z"/>
<path fill="#f5cab1" d="M0 24h1v1h-1zM4 34h1v1h-1zM4 38h1v1h-1zM8 42h1v1h-1zM7 43h1v1h-1zM1 47h1v1h-1zM5 47h1v1h-1zM8 48h1v1h-1zM1 49h1v1h-1zM6 49h1v1h-1zM3 51h1v1h-1zM3 52h1v1h-1zM5 53h1v1h-1zM4 59h1v1h-1zM2 63h1v1h-1zM8 66h1v1h-1zM2 69h1v1h-1zM1 71h1v1h-1zM2 74h1v1h-1zM5 79h1v1h-1zM3 81h1v1h-1zM8 81h1v1h-1zM0 83h1v1h-1zM3 84h1v1h-1zM7 84h1v1h-1zM1 85h1v1h-1zM2 85h1v1h-1zM6 91h1v1h-1zM4 96h1v1h-1zM4 98h1v1h-1zM7 100h1v1h-1zM0 105h1v1h-1zM8 108h1v1h-1z"/>
<path fill="#92b8db" d="M8 24h1v1h-1zM1 25h1v1h-1zM8 31h1v1h-1zM4 90h1v1h-1zM5 90h1v1h-1z"/>
<path fill="#e59273" d="M5 27h1v1h-1zM6 47h1v1h-1zM5 55h1v1h-1zM4 57h1v1h-1zM2 60h1v1h-1zM4 61h1v1h-1zM6 77h1v1h-1zM6 82h1v1h-1zM4 84h1v1h-1zM7 97h1v1h-1zM7 103h1v1h-1z"/>
<path fill="#dc7a5e" d="M0 32h1v1h-1zM0 39h1v1h-1zM0 40h1v1h-1zM2 52h1v1h-1zM3 53h1v1h-1zM1 57h1v1h-1zM3 61h1v1h-1zM0 65h1v1h-1zM7 70h1v1h-1zM6 74h1v1h-1zM1 78h1v1h-1zM4 79h1v1h-1zM6 81h1v1h-1z"/>
<path fill="#eba281" d="M7 36h1v1h-1zM3 39h1v1h-1zM4 43h1v1h-1zM5 44h1v1h-1zM4 45h1v1h-1zM0 46h1v1h-1zM4 47h1v1h-1zM1 55h1v1h-1zM5 64h1v1h-1zM3 67h1v1h-1zM4 67h1v1h-1zM7 67h1v1h-1zM1 68h1v1h-1zM5 69h1v1h-1zM6 72h1v1h-1zM7 74h1v1h-1zM3 76h1v1h-1zM1 77h1v1h-1zM2 78h1v1h-1zM2 84h1v1h-1z"/>
<path fill="#e89a7a" d="M5 37h1v1h-1zM4 39h1v1h-1zM4 49h1v1h-1zM0 51h1v1h-1zM0 54h1v1h-1zM4 55h1v1h-1zM6 58h1v1h-1zM6 61h1v1h-1zM1 64h1v1h-1zM2 65h1v1h-1zM3 68h1v1h-1zM4 68h1v1h-1zM3 70h1v1h-1zM5 70h1v1h-1zM6 84h1v1h-1zM8 102h1v1h-1zM7 105h1v1h-1z"/>
<path fill="#ce624e" d="M0 42h1v1h-1zM5 52h1v1h-1zM4 53h1v1h-1zM1 62h1v1h-1zM4 62h1v1h-1zM2 72h1v1h-1zM4 72h1v1h-1zM5 72h1v1h-1zM8 99h1v1h-1z"/>
<path fill="#ca5a49" d="M0 47h1v1h-1zM6 57h1v1h-1zM2 68h1v1h-1zM3 75h1v1h-1zM0 78h1v1h-1zM1 79h1v1h-1zM6 80h1v1h-1z"/>
<path fill="#c55143" d="M0 48h1v1h-1zM6 62h1v1h-1zM1 72h1v1h-1zM0 75h1v1h-1zM0 77h1v1h-1zM7 98h1v1h-1z"/>
<path fill="#df8265" d="M3 48h1v1h-1zM1 50h1v1h-1zM6 52h1v1h-1zM2 62h1v1h-1zM6 66h1v1h-1zM1 67h1v1h-1zM7 72h1v1h-1zM6 78h1v1h-1zM6 79h1v1h-1zM2 88h1v1h-1z"/>
<path fill="#bc4139" d="M0 50h1v1h-1zM5 54h1v1h-1zM0 70h1v1h-1zM1 70h1v1h-1z"/>
<path fill="#d77259" d="M2 50h1v1h-1zM2 55h1v1h-1zM6 55h1v1h-1zM1 61h1v1h-1zM0 63h1v1h-1zM3 65h1v1h-1zM2 67h1v1h-1zM0 68h1v1h-1zM2 70h1v1h-1zM2 81h1v1h-1z"/>
<path fill="#c1493e" d="M0 52h1v1h-1zM2 61h1v1h-1zM0 62h1v1h-1zM1 74h1v1h-1zM0 80h1v1h-1z"/>
<path fill="#b3312e" d="M0 53h1v1h-1zM0 55h1v1h-1zM0 58h1v1h-1zM0 59h1v1h-1zM1 59h1v1h-1zM0 60h1v1h-1zM0 61h1v1h-1zM1 63h1v1h-1zM0 64h1v1h-1zM0 66h1v1h-1zM1 66h1v1h-1zM0 72h1v1h-1zM0 74h1v1h-1zM0 79h1v1h-1zM0 81h1v1h-1zM0 82h1v1h-1zM1 82h1v1h-1zM0 84h1v1h-1zM1 84h1v1h-1zM8 100h1v1h-1zM8 103h1v1h-1z"/>
<path fill="#b83933" d="M0 57h1v1h-1zM0 67h1v1h-1zM6 67h1v1h-1zM0 76h1v1h-1zM2 79h1v1h-1z"/>
<path fill="#d36a53" d="M1 65h1v1h-1zM2 66h1v1h-1zM8 72h1v1h-1zM1 75h1v1h-1zM2 75h1v1h-1zM1 81h1v1h-1zM2 82h1v1h-1z"/>
</g></g>
<rect x="26.50" y="47.5" width="0.3" height="170.0" fill="#fff" opacity="0.45"/>
<rect x="31.15" y="47.5" width="0.3" height="170.0" fill="#fff" opacity="0.45"/>
<rect x="35.80" y="47.5" width="0.3" height="170.0" fill="#fff" opacity="0.45"/>
<rect x="40.45" y="47.5" width="0.3" height="170.0" fill="#fff" opacity="0.45"/>
<rect x="45.10" y="47.5" width="0.3" height="170.0" fill="#fff" opacity="0.45"/>
<rect x="49.75" y="47.5" width="0.3" height="170.0" fill="#fff" opacity="0.45"/>
<rect x="54.40" y="47.5" width="0.3" height="170.0" fill="#fff" opacity="0.45"/>
<rect x="59.05" y="47.5" width="0.3" height="170.0" fill="#fff" opacity="0.45"/>
<g filter="url(#hblur)"><g transform="translate(65.4,47.5) scale(4.62,1.5455)">
<path fill="#f4f1ef" d="M0 0h1v1h-1zM3 0h1v1h-1zM0 11h1v1h-1zM4 16h1v1h-1zM5 19h1v1h-1zM2 24h1v1h-1zM2 42h1v1h-1zM2 43h1v1h-1zM4 45h1v1h-1zM1 47h1v1h-1zM3 48h1v1h-1zM1 49h1v1h-1zM5 55h1v1h-1zM0 57h1v1h-1zM1 57h1v1h-1zM1 60h1v1h-1zM1 62h1v1h-1zM0 64h1v1h-1zM4 64h1v1h-1zM3 65h1v1h-1zM2 68h1v1h-1zM4 68h1v1h-1zM4 72h1v1h-1zM3 75h1v1h-1zM1 76h1v1h-1zM4 76h1v1h-1zM3 81h1v1h-1zM5 84h1v1h-1zM3 85h1v1h-1zM3 87h1v1h-1zM4 97h1v1h-1zM1 106h1v1h-1z"/>
<path fill="#f7dfcf" d="M1 0h1v1h-1zM0 1h1v1h-1zM3 1h1v1h-1zM3 2h1v1h-1zM2 5h1v1h-1zM3 5h1v1h-1zM2 9h1v1h-1zM3 11h1v1h-1zM1 17h1v1h-1zM2 21h1v1h-1zM2 22h1v1h-1zM2 23h1v1h-1zM2 25h1v1h-1zM0 31h1v1h-1zM3 31h1v1h-1zM1 34h1v1h-1zM2 35h1v1h-1zM2 36h1v1h-1zM4 40h1v1h-1zM1 42h1v1h-1zM4 42h1v1h-1zM3 43h1v1h-1zM1 50h1v1h-1zM0 54h1v1h-1zM3 54h1v1h-1zM5 54h1v1h-1zM3 56h1v1h-1zM0 61h1v1h-1zM2 64h1v1h-1zM5 66h1v1h-1zM0 68h1v1h-1zM4 71h1v1h-1zM5 79h1v1h-1zM3 94h1v1h-1zM1 96h1v1h-1zM0 100h1v1h-1zM1 102h1v1h-1z"/>
<path fill="#f7eae1" d="M2 0h1v1h-1zM3 7h1v1h-1zM4 7h1v1h-1zM2 8h1v1h-1zM5 11h1v1h-1zM3 12h1v1h-1zM4 13h1v1h-1zM3 14h1v1h-1zM5 14h1v1h-1zM1 19h1v1h-1zM1 24h1v1h-1zM3 24h1v1h-1zM0 25h1v1h-1zM3 28h1v1h-1zM5 28h1v1h-1zM3 32h1v1h-1zM3 35h1v1h-1zM2 45h1v1h-1zM2 47h1v1h-1zM5 47h1v1h-1zM1 51h1v1h-1zM4 53h1v1h-1zM0 55h1v1h-1zM0 59h1v1h-1zM3 59h1v1h-1zM4 59h1v1h-1zM1 63h1v1h-1zM3 64h1v1h-1zM2 67h1v1h-1zM4 67h1v1h-1zM1 72h1v1h-1zM4 80h1v1h-1zM2 90h1v1h-1zM2 95h1v1h-1zM1 100h1v1h-1zM2 101h1v1h-1zM0 102h1v1h-1zM3 108h1v1h-1zM4 109h1v1h-1z"/>
<path fill="#f5ede8" d="M4 0h1v1h-1zM1 1h1v1h-1zM0 2h1v1h-1zM5 2h1v1h-1zM5 3h1v1h-1zM0 4h1v1h-1zM3 9h1v1h-1zM5 12h1v1h-1zM1 14h1v1h-1zM4 17h1v1h-1zM3 23h1v1h-1zM4 26h1v1h-1zM2 29h1v1h-1zM5 35h1v1h-1zM0 48h1v1h-1zM2 48h1v1h-1zM0 49h1v1h-1zM3 49h1v1h-1zM3 51h1v1h-1zM4 51h1v1h-1zM1 55h1v1h-1zM5 58h1v1h-1zM5 60h1v1h-1zM3 63h1v1h-1zM5 64h1v1h-1zM0 65h1v1h-1zM1 65h1v1h-1zM1 79h1v1h-1zM3 79h1v1h-1zM3 82h1v1h-1zM4 87h1v1h-1zM2 94h1v1h-1zM2 100h1v1h-1zM3 100h1v1h-1zM2 108h1v1h-1z"/>
<path fill="#efb090" d="M5 0h1v1h-1zM1 3h1v1h-1zM1 5h1v1h-1zM3 10h1v1h-1zM5 24h1v1h-1zM5 26h1v1h-1zM1 27h1v1h-1zM5 29h1v1h-1zM5 31h1v1h-1zM4 32h1v1h-1zM3 34h1v1h-1zM1 36h1v1h-1zM2 44h1v1h-1zM4 44h1v1h-1zM5 49h1v1h-1zM5 50h1v1h-1zM0 67h1v1h-1z"/>
<path fill="#f7dbca" d="M2 1h1v1h-1zM0 3h1v1h-1zM2 3h1v1h-1zM0 17h1v1h-1zM1 18h1v1h-1zM5 18h1v1h-1zM2 26h1v1h-1zM5 27h1v1h-1zM2 28h1v1h-1zM2 32h1v1h-1zM0 37h1v1h-1zM2 39h1v1h-1zM5 48h1v1h-1zM2 49h1v1h-1zM0 51h1v1h-1zM5 52h1v1h-1zM2 55h1v1h-1zM3 61h1v1h-1zM4 61h1v1h-1zM5 67h1v1h-1zM0 70h1v1h-1zM0 75h1v1h-1zM1 75h1v1h-1zM1 91h1v1h-1z"/>
<path fill="#f2bda0" d="M4 1h1v1h-1zM5 4h1v1h-1zM5 6h1v1h-1zM0 27h1v1h-1zM4 28h1v1h-1zM5 32h1v1h-1zM4 33h1v1h-1zM3 38h1v1h-1zM5 38h1v1h-1zM1 39h1v1h-1zM4 41h1v1h-1zM5 45h1v1h-1zM1 48h1v1h-1z"/>
<path fill="#f8e2d4" d="M5 1h1v1h-1zM0 12h1v1h-1zM2 12h1v1h-1zM0 13h1v1h-1zM2 14h1v1h-1zM2 18h1v1h-1zM2 19h1v1h-1zM3 19h1v1h-1zM1 21h1v1h-1zM3 25h1v1h-1zM3 27h1v1h-1zM1 29h1v1h-1zM1 37h1v1h-1zM2 37h1v1h-1zM4 37h1v1h-1zM3 41h1v1h-1zM0 50h1v1h-1zM2 60h1v1h-1zM4 60h1v1h-1zM5 61h1v1h-1zM1 64h1v1h-1zM1 66h1v1h-1zM4 70h1v1h-1zM2 73h1v1h-1zM3 73h1v1h-1zM5 74h1v1h-1zM3 101h1v1h-1zM2 104h1v1h-1zM1 108h1v1h-1zM4 108h1v1h-1z"/>
<path fill="#f7d7c4" d="M1 2h1v1h-1zM2 11h1v1h-1zM1 12h1v1h-1zM5 15h1v1h-1zM4 19h1v1h-1zM1 25h1v1h-1zM1 26h1v1h-1zM2 27h1v1h-1zM0 33h1v1h-1zM3 33h1v1h-1zM5 36h1v1h-1zM3 45h1v1h-1zM0 47h1v1h-1zM4 50h1v1h-1zM2 51h1v1h-1zM1 52h1v1h-1zM2 53h1v1h-1zM4 66h1v1h-1zM3 67h1v1h-1zM0 71h1v1h-1zM1 73h1v1h-1zM1 109h1v1h-1z"/>
<path fill="#f8e6da" d="M2 2h1v1h-1zM3 3h1v1h-1zM4 5h1v1h-1zM1 11h1v1h-1zM3 15h1v1h-1zM5 16h1v1h-1zM0 18h1v1h-1zM4 22h1v1h-1zM1 35h1v1h-1zM5 37h1v1h-1zM2 38h1v1h-1zM1 43h1v1h-1zM1 45h1v1h-1zM3 53h1v1h-1zM5 53h1v1h-1zM2 54h1v1h-1zM4 55h1v1h-1zM0 56h1v1h-1zM2 56h1v1h-1zM3 60h1v1h-1zM2 63h1v1h-1zM4 63h1v1h-1zM5 63h1v1h-1zM3 66h1v1h-1zM0 72h1v1h-1zM2 79h1v1h-1zM4 79h1v1h-1zM4 81h1v1h-1zM2 97h1v1h-1zM1 101h1v1h-1zM0 103h1v1h-1zM2 105h1v1h-1zM2 109h1v1h-1z"/>
<path fill="#e9eef2" d="M4 2h1v1h-1zM1 13h1v1h-1zM3 13h1v1h-1zM4 14h1v1h-1zM1 16h1v1h-1zM2 17h1v1h-1zM3 20h1v1h-1zM1 22h1v1h-1zM3 29h1v1h-1zM1 33h1v1h-1zM2 50h1v1h-1zM3 55h1v1h-1zM5 56h1v1h-1zM0 60h1v1h-1zM1 68h1v1h-1zM2 69h1v1h-1zM5 69h1v1h-1zM2 71h1v1h-1zM2 72h1v1h-1zM5 80h1v1h-1zM5 85h1v1h-1zM4 89h1v1h-1zM4 94h1v1h-1zM3 96h1v1h-1zM0 101h1v1h-1zM5 101h1v1h-1zM5 102h1v1h-1zM1 103h1v1h-1zM3 104h1v1h-1z"/>
<path fill="#ce624e" d="M4 3h1v1h-1zM0 7h1v1h-1z"/>
<path fill="#dae6f0" d="M1 4h1v1h-1zM4 11h1v1h-1zM0 14h1v1h-1zM1 15h1v1h-1zM1 31h1v1h-1zM3 47h1v1h-1zM4 54h1v1h-1zM1 56h1v1h-1zM0 69h1v1h-1zM3 70h1v1h-1zM5 70h1v1h-1zM0 74h1v1h-1zM2 74h1v1h-1zM2 76h1v1h-1zM2 80h1v1h-1zM1 82h1v1h-1zM1 84h1v1h-1zM2 86h1v1h-1zM4 88h1v1h-1zM2 89h1v1h-1zM3 90h1v1h-1zM2 96h1v1h-1zM2 98h1v1h-1zM3 99h1v1h-1zM4 100h1v1h-1zM2 103h1v1h-1zM3 109h1v1h-1z"/>
<path fill="#e4ecf3" d="M2 4h1v1h-1zM0 5h1v1h-1zM2 13h1v1h-1zM5 13h1v1h-1zM4 15h1v1h-1zM0 19h1v1h-1zM2 20h1v1h-1zM0 22h1v1h-1zM2 30h1v1h-1zM2 33h1v1h-1zM3 40h1v1h-1zM4 47h1v1h-1zM1 54h1v1h-1zM4 56h1v1h-1zM4 57h1v1h-1zM3 58h1v1h-1zM4 62h1v1h-1zM2 65h1v1h-1zM1 69h1v1h-1zM5 72h1v1h-1zM3 76h1v1h-1zM5 76h1v1h-1zM0 77h1v1h-1zM2 77h1v1h-1zM4 78h1v1h-1zM5 82h1v1h-1zM0 85h1v1h-1zM0 86h1v1h-1zM2 87h1v1h-1zM5 89h1v1h-1zM3 91h1v1h-1zM3 95h1v1h-1zM1 97h1v1h-1zM5 97h1v1h-1zM5 100h1v1h-1zM3 102h1v1h-1zM1 105h1v1h-1zM5 105h1v1h-1zM0 108h1v1h-1z"/>
<path fill="#d5e3ef" d="M3 4h1v1h-1zM0 8h1v1h-1zM5 22h1v1h-1zM3 37h1v1h-1zM0 40h1v1h-1zM2 58h1v1h-1zM2 62h1v1h-1zM2 70h1v1h-1zM5 73h1v1h-1zM3 74h1v1h-1zM3 77h1v1h-1zM4 77h1v1h-1zM4 82h1v1h-1zM1 89h1v1h-1zM0 90h1v1h-1zM5 90h1v1h-1zM5 92h1v1h-1zM5 95h1v1h-1zM0 98h1v1h-1zM3 98h1v1h-1zM1 99h1v1h-1zM4 99h1v1h-1zM2 102h1v1h-1zM1 104h1v1h-1zM2 106h1v1h-1z"/>
<path fill="#dfe9f2" d="M4 4h1v1h-1zM0 15h1v1h-1zM3 16h1v1h-1zM0 20h1v1h-1zM1 40h1v1h-1zM3 42h1v1h-1zM0 58h1v1h-1zM2 59h1v1h-1zM0 62h1v1h-1zM3 62h1v1h-1zM0 63h1v1h-1zM2 66h1v1h-1zM1 70h1v1h-1zM3 72h1v1h-1zM1 74h1v1h-1zM4 74h1v1h-1zM5 81h1v1h-1zM0 91h1v1h-1zM2 91h1v1h-1zM4 92h1v1h-1zM1 94h1v1h-1zM4 98h1v1h-1zM0 99h1v1h-1zM4 101h1v1h-1zM3 103h1v1h-1zM3 106h1v1h-1zM1 107h1v1h-1zM5 109h1v1h-1z"/>
<path fill="#eba281" d="M5 5h1v1h-1zM1 10h1v1h-1zM0 23h1v1h-1zM4 39h1v1h-1zM5 42h1v1h-1zM4 43h1v1h-1zM2 52h1v1h-1z"/>
<path fill="#b3312e" d="M0 6h1v1h-1zM2 6h1v1h-1z"/>
<path fill="#dc7a5e" d="M1 6h1v1h-1zM2 7h1v1h-1zM5 34h1v1h-1zM5 41h1v1h-1zM0 44h1v1h-1z"/>
<path fill="#e89a7a" d="M3 6h1v1h-1zM5 10h1v1h-1zM5 30h1v1h-1zM0 32h1v1h-1zM0 36h1v1h-1zM0 52h1v1h-1z"/>
<path fill="#eeaa88" d="M4 6h1v1h-1zM5 9h1v1h-1zM4 23h1v1h-1zM4 29h1v1h-1zM4 34h1v1h-1zM0 39h1v1h-1zM0 43h1v1h-1zM4 75h1v1h-1z"/>
<path fill="#f3c3a9" d="M1 7h1v1h-1zM3 17h1v1h-1zM5 21h1v1h-1zM0 24h1v1h-1zM4 24h1v1h-1zM4 25h1v1h-1zM0 26h1v1h-1zM3 26h1v1h-1zM0 38h1v1h-1zM3 39h1v1h-1zM5 44h1v1h-1zM2 46h1v1h-1zM4 49h1v1h-1zM3 52h1v1h-1zM1 67h1v1h-1z"/>
<path fill="#f6d0b9" d="M5 7h1v1h-1zM4 10h1v1h-1zM4 20h1v1h-1zM0 21h1v1h-1zM1 23h1v1h-1zM0 35h1v1h-1zM4 36h1v1h-1zM0 41h1v1h-1zM5 43h1v1h-1zM3 46h1v1h-1zM4 46h1v1h-1zM3 50h1v1h-1zM0 53h1v1h-1zM2 75h1v1h-1zM0 79h1v1h-1z"/>
<path fill="#efeff0" d="M1 8h1v1h-1zM3 8h1v1h-1zM4 8h1v1h-1zM4 12h1v1h-1zM2 15h1v1h-1zM2 16h1v1h-1zM5 17h1v1h-1zM5 20h1v1h-1zM4 35h1v1h-1zM1 53h1v1h-1zM4 58h1v1h-1zM1 59h1v1h-1zM5 59h1v1h-1zM1 61h1v1h-1zM4 65h1v1h-1zM5 68h1v1h-1zM3 69h1v1h-1zM3 71h1v1h-1zM5 71h1v1h-1zM5 75h1v1h-1zM5 77h1v1h-1zM2 78h1v1h-1zM2 81h1v1h-1zM1 87h1v1h-1zM2 93h1v1h-1zM5 94h1v1h-1zM0 106h1v1h-1zM4 106h1v1h-1zM0 109h1v1h-1z"/>
<path fill="#f1b798" d="M5 8h1v1h-1zM0 9h1v1h-1zM3 22h1v1h-1zM5 33h1v1h-1zM5 39h1v1h-1zM1 41h1v1h-1zM2 41h1v1h-1zM1 46h1v1h-1zM0 73h1v1h-1z"/>
<path fill="#f6d4be" d="M1 9h1v1h-1zM4 9h1v1h-1zM4 21h1v1h-1zM4 27h1v1h-1zM0 28h1v1h-1zM1 28h1v1h-1zM1 30h1v1h-1zM2 31h1v1h-1zM1 32h1v1h-1zM1 38h1v1h-1zM4 38h1v1h-1zM1 44h1v1h-1zM0 45h1v1h-1zM4 48h1v1h-1zM5 51h1v1h-1zM4 52h1v1h-1zM0 66h1v1h-1zM0 76h1v1h-1zM0 97h1v1h-1zM3 97h1v1h-1zM3 105h1v1h-1zM4 105h1v1h-1z"/>
<path fill="#c55143" d="M0 10h1v1h-1zM2 10h1v1h-1z"/>
<path fill="#cbddec" d="M0 16h1v1h-1zM2 40h1v1h-1zM5 62h1v1h-1zM1 71h1v1h-1zM4 73h1v1h-1zM0 78h1v1h-1zM1 78h1v1h-1zM0 81h1v1h-1zM2 82h1v1h-1zM5 83h1v1h-1zM5 87h1v1h-1zM0 88h1v1h-1zM5 88h1v1h-1zM4 90h1v1h-1zM0 92h1v1h-1zM1 92h1v1h-1zM0 96h1v1h-1zM4 96h1v1h-1zM5 99h1v1h-1z"/>
<path fill="#f5cab1" d="M3 18h1v1h-1zM0 30h1v1h-1zM3 30h1v1h-1zM4 30h1v1h-1zM4 31h1v1h-1zM3 36h1v1h-1zM0 42h1v1h-1zM4 91h1v1h-1z"/>
<path fill="#bdd4e8" d="M4 18h1v1h-1zM5 40h1v1h-1zM5 57h1v1h-1zM1 80h1v1h-1zM4 86h1v1h-1zM0 87h1v1h-1zM1 88h1v1h-1zM0 94h1v1h-1zM2 99h1v1h-1zM4 104h1v1h-1zM0 105h1v1h-1zM4 107h1v1h-1zM5 107h1v1h-1zM5 108h1v1h-1z"/>
<path fill="#d0e0ee" d="M1 20h1v1h-1zM3 57h1v1h-1zM5 65h1v1h-1zM3 68h1v1h-1zM1 77h1v1h-1zM3 78h1v1h-1zM3 80h1v1h-1zM3 86h1v1h-1zM5 91h1v1h-1zM1 93h1v1h-1zM5 96h1v1h-1zM4 103h1v1h-1zM0 104h1v1h-1zM5 104h1v1h-1zM5 106h1v1h-1zM0 107h1v1h-1z"/>
<path fill="#e28a6c" d="M3 21h1v1h-1zM5 23h1v1h-1zM5 46h1v1h-1z"/>
<path fill="#d77259" d="M5 25h1v1h-1zM0 29h1v1h-1zM3 44h1v1h-1z"/>
<path fill="#bc4139" d="M0 34h1v1h-1z"/>
<path fill="#df8265" d="M2 34h1v1h-1z"/>
<path fill="#ca5a49" d="M0 46h1v1h-1z"/>
<path fill="#c6daeb" d="M2 57h1v1h-1zM1 58h1v1h-1zM4 69h1v1h-1zM5 78h1v1h-1zM4 83h1v1h-1zM4 84h1v1h-1zM4 85h1v1h-1zM0 89h1v1h-1zM4 93h1v1h-1zM5 93h1v1h-1zM1 95h1v1h-1zM1 98h1v1h-1zM5 98h1v1h-1z"/>
<path fill="#acc9e3" d="M2 61h1v1h-1zM1 83h1v1h-1zM5 86h1v1h-1zM2 88h1v1h-1zM3 93h1v1h-1zM2 107h1v1h-1zM3 107h1v1h-1z"/>
<path fill="#92b8db" d="M0 80h1v1h-1zM3 83h1v1h-1zM1 86h1v1h-1zM0 93h1v1h-1z"/>
<path fill="#76a4d2" d="M1 81h1v1h-1zM1 85h1v1h-1zM2 92h1v1h-1zM0 95h1v1h-1z"/>
<path fill="#9bbede" d="M0 82h1v1h-1zM0 84h1v1h-1zM2 84h1v1h-1z"/>
<path fill="#5b8fc8" d="M0 83h1v1h-1z"/>
<path fill="#80aad5" d="M2 83h1v1h-1z"/>
<path fill="#89b1d8" d="M3 84h1v1h-1z"/>
<path fill="#568ac4" d="M2 85h1v1h-1z"/>
<path fill="#b5cfe6" d="M3 88h1v1h-1zM1 90h1v1h-1zM3 92h1v1h-1zM4 95h1v1h-1zM4 102h1v1h-1z"/>
<path fill="#a3c3e0" d="M3 89h1v1h-1zM5 103h1v1h-1z"/>
</g></g>
<rect x="69.87" y="47.5" width="0.3" height="170.0" fill="#fff" opacity="0.45"/>
<rect x="74.49" y="47.5" width="0.3" height="170.0" fill="#fff" opacity="0.45"/>
<rect x="79.11" y="47.5" width="0.3" height="170.0" fill="#fff" opacity="0.45"/>
<rect x="83.73" y="47.5" width="0.3" height="170.0" fill="#fff" opacity="0.45"/>
<rect x="88.35" y="47.5" width="0.3" height="170.0" fill="#fff" opacity="0.45"/>
<g filter="url(#hblur)"><g transform="translate(94.5,47.5) scale(4.67,1.5455)">
<path fill="#e9eef2" d="M0 0h1v1h-1zM8 0h1v1h-1zM1 1h1v1h-1zM10 1h1v1h-1zM8 3h1v1h-1zM8 5h1v1h-1zM11 5h1v1h-1zM17 5h1v1h-1zM20 5h1v1h-1zM9 6h1v1h-1zM20 8h1v1h-1zM11 9h1v1h-1zM15 9h1v1h-1zM17 9h1v1h-1zM22 9h1v1h-1zM6 10h1v1h-1zM19 13h1v1h-1zM10 14h1v1h-1zM12 15h1v1h-1zM15 15h1v1h-1zM20 15h1v1h-1zM21 15h1v1h-1zM22 15h1v1h-1zM0 16h1v1h-1zM9 16h1v1h-1zM5 18h1v1h-1zM15 18h1v1h-1zM6 20h1v1h-1zM4 22h1v1h-1zM19 23h1v1h-1zM8 24h1v1h-1zM16 24h1v1h-1zM0 25h1v1h-1zM2 25h1v1h-1zM8 25h1v1h-1zM12 25h1v1h-1zM21 26h1v1h-1zM1 27h1v1h-1zM15 27h1v1h-1zM19 27h1v1h-1zM18 29h1v1h-1zM3 32h1v1h-1zM19 32h1v1h-1zM4 33h1v1h-1zM11 33h1v1h-1zM12 33h1v1h-1zM19 33h1v1h-1zM20 33h1v1h-1zM2 34h1v1h-1zM5 34h1v1h-1zM22 34h1v1h-1zM5 37h1v1h-1zM15 37h1v1h-1zM19 38h1v1h-1zM2 40h1v1h-1zM21 40h1v1h-1zM4 41h1v1h-1zM16 43h1v1h-1zM8 44h1v1h-1zM16 44h1v1h-1zM19 44h1v1h-1zM17 45h1v1h-1zM1 46h1v1h-1zM5 46h1v1h-1zM16 46h1v1h-1zM0 47h1v1h-1zM16 47h1v1h-1zM1 49h1v1h-1zM1 51h1v1h-1zM13 51h1v1h-1zM3 52h1v1h-1zM4 52h1v1h-1zM9 52h1v1h-1zM22 55h1v1h-1zM9 58h1v1h-1zM11 58h1v1h-1zM13 58h1v1h-1zM8 59h1v1h-1zM22 59h1v1h-1zM1 60h1v1h-1zM9 60h1v1h-1zM15 60h1v1h-1zM8 61h1v1h-1zM12 61h1v1h-1zM15 61h1v1h-1zM20 61h1v1h-1zM4 62h1v1h-1zM21 62h1v1h-1zM2 63h1v1h-1zM20 63h1v1h-1zM13 64h1v1h-1zM1 65h1v1h-1zM2 65h1v1h-1zM9 65h1v1h-1zM6 66h1v1h-1zM17 66h1v1h-1zM20 66h1v1h-1zM21 66h1v1h-1zM7 67h1v1h-1zM20 68h1v1h-1zM13 70h1v1h-1zM0 71h1v1h-1zM17 71h1v1h-1zM15 73h1v1h-1zM20 73h1v1h-1zM6 74h1v1h-1zM2 75h1v1h-1zM21 75h1v1h-1zM1 76h1v1h-1zM2 78h1v1h-1zM6 78h1v1h-1zM7 78h1v1h-1zM9 78h1v1h-1zM13 78h1v1h-1zM14 79h1v1h-1zM20 79h1v1h-1zM2 80h1v1h-1zM12 80h1v1h-1zM11 81h1v1h-1zM18 82h1v1h-1zM21 83h1v1h-1zM5 86h1v1h-1zM8 89h1v1h-1zM12 89h1v1h-1zM17 91h1v1h-1zM0 93h1v1h-1zM16 93h1v1h-1zM22 93h1v1h-1zM6 94h1v1h-1zM5 95h1v1h-1zM8 95h1v1h-1zM9 95h1v1h-1zM1 97h1v1h-1zM5 97h1v1h-1zM10 97h1v1h-1zM13 97h1v1h-1zM12 98h1v1h-1zM17 98h1v1h-1zM20 98h1v1h-1zM14 99h1v1h-1zM18 99h1v1h-1zM7 101h1v1h-1zM3 102h1v1h-1zM15 102h1v1h-1zM1 103h1v1h-1zM11 105h1v1h-1zM12 106h1v1h-1zM20 106h1v1h-1zM8 107h1v1h-1zM14 108h1v1h-1zM17 108h1v1h-1zM22 108h1v1h-1zM5 109h1v1h-1zM16 109h1v1h-1z"/>
<path fill="#f4f1ef" d="M1 0h1v1h-1zM7 0h1v1h-1zM10 0h1v1h-1zM17 0h1v1h-1zM0 2h1v1h-1zM15 4h1v1h-1zM17 4h1v1h-1zM15 5h1v1h-1zM16 5h1v1h-1zM15 6h1v1h-1zM22 6h1v1h-1zM5 7h1v1h-1zM9 7h1v1h-1zM17 7h1v1h-1zM20 7h1v1h-1zM7 9h1v1h-1zM18 9h1v1h-1zM15 10h1v1h-1zM16 10h1v1h-1zM3 11h1v1h-1zM4 11h1v1h-1zM15 11h1v1h-1zM1 13h1v1h-1zM7 13h1v1h-1zM13 14h1v1h-1zM16 14h1v1h-1zM3 15h1v1h-1zM4 15h1v1h-1zM18 16h1v1h-1zM0 17h1v1h-1zM3 17h1v1h-1zM8 17h1v1h-1zM20 17h1v1h-1zM0 18h1v1h-1zM17 18h1v1h-1zM22 18h1v1h-1zM9 19h1v1h-1zM13 19h1v1h-1zM14 20h1v1h-1zM3 21h1v1h-1zM16 21h1v1h-1zM19 21h1v1h-1zM3 22h1v1h-1zM22 22h1v1h-1zM5 23h1v1h-1zM13 24h1v1h-1zM18 24h1v1h-1zM9 25h1v1h-1zM4 26h1v1h-1zM9 26h1v1h-1zM11 27h1v1h-1zM3 28h1v1h-1zM15 28h1v1h-1zM17 29h1v1h-1zM12 30h1v1h-1zM5 32h1v1h-1zM6 34h1v1h-1zM7 41h1v1h-1zM8 41h1v1h-1zM12 41h1v1h-1zM15 41h1v1h-1zM13 43h1v1h-1zM15 43h1v1h-1zM4 44h1v1h-1zM14 45h1v1h-1zM11 46h1v1h-1zM4 47h1v1h-1zM20 47h1v1h-1zM4 48h1v1h-1zM13 49h1v1h-1zM16 50h1v1h-1zM14 52h1v1h-1zM22 52h1v1h-1zM14 53h1v1h-1zM5 54h1v1h-1zM8 54h1v1h-1zM17 54h1v1h-1zM19 54h1v1h-1zM9 55h1v1h-1zM11 55h1v1h-1zM13 55h1v1h-1zM17 57h1v1h-1zM12 58h1v1h-1zM19 58h1v1h-1zM13 59h1v1h-1zM14 59h1v1h-1zM18 59h1v1h-1zM8 60h1v1h-1zM20 60h1v1h-1zM12 63h1v1h-1zM14 64h1v1h-1zM16 64h1v1h-1zM19 64h1v1h-1zM20 64h1v1h-1zM6 65h1v1h-1zM18 65h1v1h-1zM19 65h1v1h-1zM15 66h1v1h-1zM11 67h1v1h-1zM13 68h1v1h-1zM8 70h1v1h-1zM9 70h1v1h-1zM21 71h1v1h-1zM15 72h1v1h-1zM12 73h1v1h-1zM22 74h1v1h-1zM20 75h1v1h-1zM8 76h1v1h-1zM14 76h1v1h-1zM17 76h1v1h-1zM18 76h1v1h-1zM3 77h1v1h-1zM20 77h1v1h-1zM8 79h1v1h-1zM22 82h1v1h-1zM7 83h1v1h-1zM14 83h1v1h-1zM18 83h1v1h-1zM4 84h1v1h-1zM5 84h1v1h-1zM12 84h1v1h-1zM15 84h1v1h-1zM20 84h1v1h-1zM22 86h1v1h-1zM3 87h1v1h-1zM22 87h1v1h-1zM17 88h1v1h-1zM7 89h1v1h-1zM20 89h1v1h-1zM21 90h1v1h-1zM4 91h1v1h-1zM10 91h1v1h-1zM19 92h1v1h-1zM14 93h1v1h-1zM21 93h1v1h-1zM4 94h1v1h-1zM9 94h1v1h-1zM18 94h1v1h-1zM19 94h1v1h-1zM6 97h1v1h-1zM19 97h1v1h-1zM6 98h1v1h-1zM10 99h1v1h-1zM21 99h1v1h-1zM21 100h1v1h-1zM22 100h1v1h-1zM10 102h1v1h-1zM19 105h1v1h-1zM15 106h1v1h-1zM6 107h1v1h-1zM10 107h1v1h-1zM15 107h1v1h-1zM17 109h1v1h-1z"/>
<path fill="#e4ecf3" d="M2 0h1v1h-1zM13 1h1v1h-1zM6 3h1v1h-1zM16 4h1v1h-1zM21 4h1v1h-1zM7 6h1v1h-1zM21 6h1v1h-1zM14 7h1v1h-1zM12 9h1v1h-1zM21 9h1v1h-1zM19 10h1v1h-1zM0 11h1v1h-1zM10 12h1v1h-1zM18 14h1v1h-1zM6 15h1v1h-1zM14 16h1v1h-1zM9 18h1v1h-1zM22 20h1v1h-1zM9 22h1v1h-1zM11 22h1v1h-1zM12 22h1v1h-1zM0 23h1v1h-1zM1 24h1v1h-1zM12 24h1v1h-1zM13 25h1v1h-1zM17 27h1v1h-1zM20 28h1v1h-1zM11 30h1v1h-1zM15 30h1v1h-1zM21 30h1v1h-1zM22 30h1v1h-1zM7 33h1v1h-1zM3 34h1v1h-1zM17 36h1v1h-1zM13 37h1v1h-1zM18 37h1v1h-1zM19 37h1v1h-1zM20 37h1v1h-1zM21 37h1v1h-1zM9 38h1v1h-1zM11 38h1v1h-1zM22 38h1v1h-1zM5 39h1v1h-1zM8 39h1v1h-1zM8 40h1v1h-1zM14 40h1v1h-1zM15 40h1v1h-1zM20 40h1v1h-1zM0 42h1v1h-1zM9 42h1v1h-1zM11 42h1v1h-1zM8 43h1v1h-1zM11 43h1v1h-1zM6 44h1v1h-1zM12 46h1v1h-1zM13 46h1v1h-1zM20 46h1v1h-1zM8 47h1v1h-1zM11 47h1v1h-1zM2 49h1v1h-1zM8 49h1v1h-1zM1 50h1v1h-1zM15 50h1v1h-1zM18 50h1v1h-1zM20 50h1v1h-1zM4 51h1v1h-1zM2 52h1v1h-1zM16 53h1v1h-1zM2 54h1v1h-1zM8 56h1v1h-1zM20 56h1v1h-1zM2 58h1v1h-1zM18 58h1v1h-1zM22 58h1v1h-1zM4 59h1v1h-1zM5 59h1v1h-1zM11 59h1v1h-1zM21 59h1v1h-1zM5 60h1v1h-1zM14 60h1v1h-1zM21 60h1v1h-1zM5 61h1v1h-1zM10 61h1v1h-1zM14 61h1v1h-1zM18 62h1v1h-1zM19 62h1v1h-1zM5 63h1v1h-1zM15 63h1v1h-1zM2 64h1v1h-1zM16 65h1v1h-1zM11 66h1v1h-1zM5 67h1v1h-1zM17 67h1v1h-1zM12 69h1v1h-1zM4 71h1v1h-1zM12 72h1v1h-1zM19 72h1v1h-1zM0 77h1v1h-1zM19 77h1v1h-1zM10 79h1v1h-1zM12 79h1v1h-1zM0 80h1v1h-1zM16 80h1v1h-1zM0 81h1v1h-1zM7 82h1v1h-1zM11 83h1v1h-1zM2 84h1v1h-1zM7 85h1v1h-1zM7 87h1v1h-1zM7 88h1v1h-1zM14 89h1v1h-1zM4 90h1v1h-1zM9 90h1v1h-1zM13 90h1v1h-1zM4 93h1v1h-1zM10 94h1v1h-1zM13 94h1v1h-1zM16 94h1v1h-1zM12 95h1v1h-1zM0 96h1v1h-1zM8 97h1v1h-1zM1 98h1v1h-1zM19 98h1v1h-1zM5 99h1v1h-1zM20 99h1v1h-1zM14 100h1v1h-1zM8 101h1v1h-1zM0 102h1v1h-1zM16 102h1v1h-1zM16 103h1v1h-1zM15 104h1v1h-1zM21 104h1v1h-1zM1 105h1v1h-1zM21 105h1v1h-1zM22 105h1v1h-1zM10 106h1v1h-1zM13 106h1v1h-1zM21 106h1v1h-1zM22 106h1v1h-1zM0 107h1v1h-1zM2 108h1v1h-1zM5 108h1v1h-1z"/>
<path fill="#f7dfcf" d="M3 0h1v1h-1zM4 0h1v1h-1zM9 1h1v1h-1zM18 1h1v1h-1zM8 2h1v1h-1zM15 2h1v1h-1zM12 3h1v1h-1zM17 3h1v1h-1zM0 4h1v1h-1zM1 5h1v1h-1zM4 6h1v1h-1zM2 7h1v1h-1zM4 7h1v1h-1zM10 8h1v1h-1zM5 11h1v1h-1zM10 11h1v1h-1zM12 11h1v1h-1zM16 13h1v1h-1zM20 13h1v1h-1zM14 14h1v1h-1zM6 16h1v1h-1zM17 16h1v1h-1zM6 17h1v1h-1zM2 19h1v1h-1zM5 19h1v1h-1zM2 20h1v1h-1zM4 20h1v1h-1zM8 21h1v1h-1zM3 23h1v1h-1zM11 23h1v1h-1zM14 25h1v1h-1zM17 26h1v1h-1zM13 27h1v1h-1zM0 28h1v1h-1zM2 28h1v1h-1zM10 30h1v1h-1zM10 32h1v1h-1zM18 33h1v1h-1zM14 34h1v1h-1zM13 35h1v1h-1zM17 35h1v1h-1zM11 40h1v1h-1zM14 41h1v1h-1zM17 42h1v1h-1zM21 44h1v1h-1zM12 45h1v1h-1zM18 47h1v1h-1zM15 48h1v1h-1zM16 48h1v1h-1zM17 48h1v1h-1zM18 48h1v1h-1zM15 52h1v1h-1zM17 56h1v1h-1zM20 58h1v1h-1zM12 60h1v1h-1zM16 60h1v1h-1zM12 68h1v1h-1zM21 73h1v1h-1zM17 74h1v1h-1zM6 82h1v1h-1zM11 82h1v1h-1zM21 82h1v1h-1zM19 85h1v1h-1zM22 85h1v1h-1zM7 86h1v1h-1zM20 86h1v1h-1zM6 87h1v1h-1zM9 88h1v1h-1zM12 88h1v1h-1zM13 89h1v1h-1zM22 89h1v1h-1zM18 90h1v1h-1zM19 90h1v1h-1zM21 91h1v1h-1zM22 91h1v1h-1zM4 92h1v1h-1zM11 92h1v1h-1zM6 95h1v1h-1zM11 95h1v1h-1zM5 96h1v1h-1zM13 96h1v1h-1zM19 96h1v1h-1zM21 96h1v1h-1zM14 98h1v1h-1zM11 99h1v1h-1zM13 101h1v1h-1zM19 103h1v1h-1zM10 105h1v1h-1zM7 106h1v1h-1zM19 107h1v1h-1z"/>
<path fill="#efeff0" d="M5 0h1v1h-1zM14 1h1v1h-1zM16 1h1v1h-1zM1 2h1v1h-1zM12 2h1v1h-1zM16 3h1v1h-1zM3 4h1v1h-1zM3 5h1v1h-1zM7 5h1v1h-1zM10 5h1v1h-1zM19 5h1v1h-1zM19 6h1v1h-1zM10 7h1v1h-1zM6 9h1v1h-1zM19 9h1v1h-1zM11 10h1v1h-1zM14 10h1v1h-1zM13 11h1v1h-1zM4 13h1v1h-1zM6 13h1v1h-1zM8 15h1v1h-1zM12 16h1v1h-1zM2 17h1v1h-1zM12 17h1v1h-1zM15 17h1v1h-1zM16 17h1v1h-1zM14 18h1v1h-1zM20 18h1v1h-1zM22 19h1v1h-1zM1 20h1v1h-1zM3 20h1v1h-1zM17 20h1v1h-1zM18 20h1v1h-1zM2 21h1v1h-1zM11 21h1v1h-1zM5 22h1v1h-1zM8 22h1v1h-1zM15 22h1v1h-1zM17 22h1v1h-1zM20 22h1v1h-1zM18 23h1v1h-1zM5 24h1v1h-1zM17 25h1v1h-1zM19 25h1v1h-1zM8 26h1v1h-1zM10 27h1v1h-1zM12 27h1v1h-1zM18 28h1v1h-1zM20 29h1v1h-1zM11 31h1v1h-1zM13 31h1v1h-1zM16 31h1v1h-1zM20 31h1v1h-1zM11 32h1v1h-1zM12 32h1v1h-1zM22 32h1v1h-1zM3 33h1v1h-1zM0 35h1v1h-1zM3 35h1v1h-1zM4 35h1v1h-1zM22 36h1v1h-1zM12 37h1v1h-1zM16 37h1v1h-1zM7 38h1v1h-1zM8 38h1v1h-1zM2 39h1v1h-1zM4 40h1v1h-1zM17 40h1v1h-1zM19 40h1v1h-1zM0 41h1v1h-1zM3 41h1v1h-1zM18 41h1v1h-1zM2 42h1v1h-1zM3 42h1v1h-1zM8 42h1v1h-1zM5 43h1v1h-1zM20 43h1v1h-1zM11 44h1v1h-1zM12 44h1v1h-1zM13 44h1v1h-1zM14 44h1v1h-1zM3 47h1v1h-1zM5 47h1v1h-1zM17 47h1v1h-1zM9 48h1v1h-1zM21 48h1v1h-1zM12 50h1v1h-1zM21 52h1v1h-1zM19 53h1v1h-1zM7 54h1v1h-1zM3 55h1v1h-1zM4 55h1v1h-1zM10 55h1v1h-1zM6 56h1v1h-1zM11 56h1v1h-1zM18 57h1v1h-1zM4 58h1v1h-1zM8 58h1v1h-1zM16 59h1v1h-1zM3 60h1v1h-1zM17 61h1v1h-1zM18 61h1v1h-1zM1 63h1v1h-1zM13 63h1v1h-1zM16 63h1v1h-1zM11 65h1v1h-1zM9 66h1v1h-1zM14 68h1v1h-1zM17 68h1v1h-1zM18 69h1v1h-1zM3 70h1v1h-1zM20 71h1v1h-1zM8 72h1v1h-1zM21 72h1v1h-1zM17 73h1v1h-1zM10 74h1v1h-1zM12 74h1v1h-1zM14 75h1v1h-1zM5 76h1v1h-1zM19 76h1v1h-1zM8 77h1v1h-1zM13 77h1v1h-1zM10 78h1v1h-1zM17 78h1v1h-1zM14 80h1v1h-1zM3 82h1v1h-1zM14 82h1v1h-1zM12 83h1v1h-1zM7 84h1v1h-1zM9 86h1v1h-1zM14 86h1v1h-1zM18 87h1v1h-1zM19 87h1v1h-1zM21 87h1v1h-1zM5 88h1v1h-1zM18 89h1v1h-1zM5 90h1v1h-1zM10 90h1v1h-1zM11 90h1v1h-1zM16 90h1v1h-1zM8 92h1v1h-1zM21 92h1v1h-1zM22 92h1v1h-1zM3 95h1v1h-1zM3 96h1v1h-1zM7 97h1v1h-1zM12 97h1v1h-1zM18 97h1v1h-1zM22 97h1v1h-1zM9 99h1v1h-1zM16 99h1v1h-1zM19 99h1v1h-1zM16 100h1v1h-1zM10 101h1v1h-1zM11 101h1v1h-1zM12 101h1v1h-1zM20 101h1v1h-1zM21 101h1v1h-1zM1 102h1v1h-1zM2 102h1v1h-1zM12 102h1v1h-1zM19 102h1v1h-1zM22 102h1v1h-1zM21 103h1v1h-1zM15 105h1v1h-1zM20 105h1v1h-1zM2 106h1v1h-1zM13 107h1v1h-1zM17 107h1v1h-1zM7 108h1v1h-1zM10 108h1v1h-1zM21 108h1v1h-1zM10 109h1v1h-1zM12 109h1v1h-1z"/>
<path fill="#f6d4be" d="M6 0h1v1h-1zM14 0h1v1h-1zM20 0h1v1h-1zM4 2h1v1h-1zM20 2h1v1h-1zM0 3h1v1h-1zM13 3h1v1h-1zM9 4h1v1h-1zM1 7h1v1h-1zM1 11h1v1h-1zM7 11h1v1h-1zM19 14h1v1h-1zM19 17h1v1h-1zM12 18h1v1h-1zM4 19h1v1h-1zM8 19h1v1h-1zM11 19h1v1h-1zM17 19h1v1h-1zM7 23h1v1h-1zM10 23h1v1h-1zM12 26h1v1h-1zM5 28h1v1h-1zM6 28h1v1h-1zM19 28h1v1h-1zM0 29h1v1h-1zM15 31h1v1h-1zM20 44h1v1h-1zM15 46h1v1h-1zM17 49h1v1h-1zM12 57h1v1h-1zM14 58h1v1h-1zM14 66h1v1h-1zM0 74h1v1h-1zM11 74h1v1h-1zM15 74h1v1h-1zM17 77h1v1h-1zM18 78h1v1h-1zM13 79h1v1h-1zM0 82h1v1h-1zM4 82h1v1h-1zM13 82h1v1h-1zM16 84h1v1h-1zM13 85h1v1h-1zM18 85h1v1h-1zM2 86h1v1h-1zM19 86h1v1h-1zM4 88h1v1h-1zM0 90h1v1h-1zM18 92h1v1h-1zM17 99h1v1h-1zM17 102h1v1h-1zM18 105h1v1h-1z"/>
<path fill="#f5ede8" d="M9 0h1v1h-1zM2 1h1v1h-1zM20 1h1v1h-1zM6 2h1v1h-1zM4 5h1v1h-1zM10 6h1v1h-1zM17 6h1v1h-1zM8 8h1v1h-1zM18 8h1v1h-1zM3 9h1v1h-1zM4 9h1v1h-1zM4 10h1v1h-1zM5 10h1v1h-1zM8 10h1v1h-1zM2 11h1v1h-1zM8 11h1v1h-1zM10 13h1v1h-1zM13 13h1v1h-1zM11 14h1v1h-1zM2 15h1v1h-1zM7 15h1v1h-1zM8 16h1v1h-1zM4 17h1v1h-1zM18 17h1v1h-1zM3 18h1v1h-1zM16 18h1v1h-1zM19 18h1v1h-1zM0 19h1v1h-1zM0 20h1v1h-1zM16 20h1v1h-1zM20 20h1v1h-1zM6 21h1v1h-1zM7 21h1v1h-1zM17 21h1v1h-1zM4 24h1v1h-1zM9 24h1v1h-1zM11 24h1v1h-1zM14 24h1v1h-1zM3 25h1v1h-1zM16 25h1v1h-1zM0 26h1v1h-1zM2 27h1v1h-1zM14 27h1v1h-1zM21 27h1v1h-1zM1 29h1v1h-1zM5 29h1v1h-1zM7 29h1v1h-1zM9 29h1v1h-1zM12 29h1v1h-1zM15 29h1v1h-1zM1 30h1v1h-1zM2 32h1v1h-1zM6 32h1v1h-1zM14 32h1v1h-1zM8 33h1v1h-1zM16 34h1v1h-1zM17 34h1v1h-1zM0 36h1v1h-1zM3 36h1v1h-1zM13 36h1v1h-1zM1 37h1v1h-1zM15 38h1v1h-1zM0 39h1v1h-1zM12 42h1v1h-1zM12 43h1v1h-1zM0 44h1v1h-1zM13 45h1v1h-1zM16 45h1v1h-1zM14 47h1v1h-1zM19 48h1v1h-1zM20 48h1v1h-1zM17 50h1v1h-1zM16 52h1v1h-1zM13 53h1v1h-1zM17 53h1v1h-1zM0 54h1v1h-1zM6 54h1v1h-1zM14 54h1v1h-1zM8 55h1v1h-1zM16 55h1v1h-1zM0 56h1v1h-1zM5 56h1v1h-1zM14 57h1v1h-1zM15 57h1v1h-1zM12 59h1v1h-1zM0 60h1v1h-1zM14 62h1v1h-1zM17 63h1v1h-1zM15 64h1v1h-1zM5 65h1v1h-1zM14 65h1v1h-1zM17 65h1v1h-1zM0 67h1v1h-1zM15 67h1v1h-1zM2 68h1v1h-1zM1 69h1v1h-1zM19 69h1v1h-1zM0 70h1v1h-1zM1 70h1v1h-1zM14 71h1v1h-1zM15 71h1v1h-1zM22 71h1v1h-1zM1 72h1v1h-1zM14 72h1v1h-1zM13 73h1v1h-1zM14 74h1v1h-1zM12 75h1v1h-1zM0 76h1v1h-1zM20 76h1v1h-1zM22 76h1v1h-1zM2 77h1v1h-1zM12 77h1v1h-1zM14 77h1v1h-1zM21 77h1v1h-1zM15 79h1v1h-1zM21 79h1v1h-1zM6 80h1v1h-1zM11 80h1v1h-1zM15 81h1v1h-1zM19 81h1v1h-1zM21 81h1v1h-1zM6 83h1v1h-1zM16 83h1v1h-1zM10 84h1v1h-1zM18 84h1v1h-1zM21 84h1v1h-1zM9 85h1v1h-1zM11 85h1v1h-1zM13 86h1v1h-1zM16 86h1v1h-1zM9 87h1v1h-1zM20 87h1v1h-1zM8 88h1v1h-1zM5 89h1v1h-1zM11 89h1v1h-1zM21 89h1v1h-1zM7 90h1v1h-1zM15 90h1v1h-1zM9 91h1v1h-1zM18 91h1v1h-1zM19 91h1v1h-1zM20 92h1v1h-1zM12 93h1v1h-1zM18 93h1v1h-1zM22 94h1v1h-1zM16 95h1v1h-1zM17 95h1v1h-1zM4 96h1v1h-1zM11 96h1v1h-1zM9 97h1v1h-1zM20 97h1v1h-1zM13 98h1v1h-1zM14 101h1v1h-1zM17 101h1v1h-1zM10 103h1v1h-1zM13 103h1v1h-1zM8 104h1v1h-1zM16 104h1v1h-1zM12 105h1v1h-1zM4 107h1v1h-1zM7 107h1v1h-1zM16 107h1v1h-1zM21 107h1v1h-1zM12 108h1v1h-1zM15 108h1v1h-1zM7 109h1v1h-1zM13 109h1v1h-1zM15 109h1v1h-1z"/>
<path fill="#f8e2d4" d="M11 0h1v1h-1zM16 2h1v1h-1zM5 3h1v1h-1zM14 3h1v1h-1zM20 3h1v1h-1zM2 4h1v1h-1zM7 4h1v1h-1zM19 4h1v1h-1zM9 5h1v1h-1zM5 6h1v1h-1zM11 6h1v1h-1zM16 6h1v1h-1zM18 6h1v1h-1zM6 8h1v1h-1zM7 8h1v1h-1zM9 8h1v1h-1zM17 8h1v1h-1zM10 9h1v1h-1zM20 9h1v1h-1zM9 13h1v1h-1zM12 13h1v1h-1zM2 14h1v1h-1zM10 15h1v1h-1zM14 15h1v1h-1zM5 16h1v1h-1zM6 18h1v1h-1zM1 19h1v1h-1zM3 19h1v1h-1zM6 19h1v1h-1zM7 19h1v1h-1zM10 19h1v1h-1zM8 20h1v1h-1zM9 20h1v1h-1zM11 20h1v1h-1zM4 21h1v1h-1zM5 21h1v1h-1zM9 21h1v1h-1zM15 21h1v1h-1zM21 21h1v1h-1zM2 22h1v1h-1zM9 23h1v1h-1zM0 24h1v1h-1zM15 24h1v1h-1zM5 25h1v1h-1zM7 26h1v1h-1zM14 26h1v1h-1zM15 26h1v1h-1zM20 27h1v1h-1zM9 28h1v1h-1zM13 28h1v1h-1zM19 29h1v1h-1zM5 30h1v1h-1zM6 30h1v1h-1zM16 30h1v1h-1zM14 31h1v1h-1zM9 32h1v1h-1zM18 34h1v1h-1zM14 35h1v1h-1zM14 36h1v1h-1zM14 37h1v1h-1zM21 38h1v1h-1zM13 40h1v1h-1zM13 42h1v1h-1zM18 42h1v1h-1zM2 44h1v1h-1zM1 45h1v1h-1zM18 45h1v1h-1zM13 47h1v1h-1zM19 47h1v1h-1zM17 52h1v1h-1zM15 53h1v1h-1zM17 55h1v1h-1zM17 59h1v1h-1zM2 60h1v1h-1zM17 62h1v1h-1zM16 67h1v1h-1zM18 68h1v1h-1zM11 70h1v1h-1zM21 70h1v1h-1zM12 71h1v1h-1zM13 71h1v1h-1zM16 71h1v1h-1zM8 74h1v1h-1zM15 75h1v1h-1zM13 76h1v1h-1zM1 82h1v1h-1zM9 82h1v1h-1zM11 84h1v1h-1zM14 84h1v1h-1zM12 86h1v1h-1zM15 86h1v1h-1zM17 86h1v1h-1zM18 86h1v1h-1zM0 87h1v1h-1zM16 88h1v1h-1zM19 88h1v1h-1zM3 91h1v1h-1zM13 91h1v1h-1zM14 91h1v1h-1zM3 92h1v1h-1zM5 92h1v1h-1zM9 92h1v1h-1zM15 92h1v1h-1zM3 93h1v1h-1zM5 94h1v1h-1zM14 94h1v1h-1zM15 94h1v1h-1zM20 94h1v1h-1zM15 95h1v1h-1zM19 95h1v1h-1zM2 96h1v1h-1zM8 98h1v1h-1zM0 100h1v1h-1zM19 101h1v1h-1zM7 102h1v1h-1zM13 102h1v1h-1zM21 102h1v1h-1zM6 103h1v1h-1zM16 105h1v1h-1zM6 106h1v1h-1zM8 106h1v1h-1zM16 106h1v1h-1zM22 107h1v1h-1z"/>
<path fill="#f7dbca" d="M12 0h1v1h-1zM17 1h1v1h-1zM1 3h1v1h-1zM7 3h1v1h-1zM11 8h1v1h-1zM0 9h1v1h-1zM9 9h1v1h-1zM6 11h1v1h-1zM9 11h1v1h-1zM3 14h1v1h-1zM8 14h1v1h-1zM17 15h1v1h-1zM2 16h1v1h-1zM15 16h1v1h-1zM1 17h1v1h-1zM7 17h1v1h-1zM13 17h1v1h-1zM2 18h1v1h-1zM12 19h1v1h-1zM7 20h1v1h-1zM0 21h1v1h-1zM14 21h1v1h-1zM4 23h1v1h-1zM3 24h1v1h-1zM16 26h1v1h-1zM19 26h1v1h-1zM1 28h1v1h-1zM4 28h1v1h-1zM12 28h1v1h-1zM16 29h1v1h-1zM18 31h1v1h-1zM0 32h1v1h-1zM8 32h1v1h-1zM16 33h1v1h-1zM12 34h1v1h-1zM16 36h1v1h-1zM2 38h1v1h-1zM12 38h1v1h-1zM13 38h1v1h-1zM14 38h1v1h-1zM15 39h1v1h-1zM17 39h1v1h-1zM20 39h1v1h-1zM18 43h1v1h-1zM17 44h1v1h-1zM12 47h1v1h-1zM16 49h1v1h-1zM13 50h1v1h-1zM17 51h1v1h-1zM19 51h1v1h-1zM11 52h1v1h-1zM20 52h1v1h-1zM12 53h1v1h-1zM12 55h1v1h-1zM14 55h1v1h-1zM15 55h1v1h-1zM19 55h1v1h-1zM18 56h1v1h-1zM6 60h1v1h-1zM14 63h1v1h-1zM13 65h1v1h-1zM15 65h1v1h-1zM18 66h1v1h-1zM12 67h1v1h-1zM17 70h1v1h-1zM2 74h1v1h-1zM20 74h1v1h-1zM17 75h1v1h-1zM18 80h1v1h-1zM16 82h1v1h-1zM20 82h1v1h-1zM6 85h1v1h-1zM0 86h1v1h-1zM10 86h1v1h-1zM11 88h1v1h-1zM15 88h1v1h-1zM20 88h1v1h-1zM22 88h1v1h-1zM12 91h1v1h-1zM20 91h1v1h-1zM7 92h1v1h-1zM13 92h1v1h-1zM5 93h1v1h-1zM19 93h1v1h-1zM8 94h1v1h-1zM22 96h1v1h-1zM15 99h1v1h-1zM11 102h1v1h-1zM15 103h1v1h-1zM5 107h1v1h-1zM8 109h1v1h-1z"/>
<path fill="#dae6f0" d="M13 0h1v1h-1zM19 0h1v1h-1zM8 1h1v1h-1zM11 1h1v1h-1zM18 3h1v1h-1zM5 5h1v1h-1zM13 5h1v1h-1zM2 6h1v1h-1zM7 7h1v1h-1zM13 7h1v1h-1zM15 7h1v1h-1zM16 7h1v1h-1zM17 10h1v1h-1zM21 11h1v1h-1zM15 13h1v1h-1zM15 14h1v1h-1zM18 15h1v1h-1zM10 18h1v1h-1zM11 18h1v1h-1zM22 21h1v1h-1zM1 22h1v1h-1zM20 24h1v1h-1zM22 24h1v1h-1zM4 25h1v1h-1zM21 25h1v1h-1zM5 27h1v1h-1zM8 27h1v1h-1zM22 27h1v1h-1zM2 29h1v1h-1zM3 29h1v1h-1zM4 30h1v1h-1zM19 30h1v1h-1zM0 31h1v1h-1zM5 31h1v1h-1zM22 31h1v1h-1zM21 32h1v1h-1zM0 34h1v1h-1zM21 34h1v1h-1zM5 35h1v1h-1zM7 37h1v1h-1zM3 38h1v1h-1zM5 38h1v1h-1zM13 39h1v1h-1zM1 41h1v1h-1zM4 43h1v1h-1zM17 43h1v1h-1zM1 44h1v1h-1zM5 44h1v1h-1zM6 46h1v1h-1zM19 46h1v1h-1zM12 48h1v1h-1zM14 49h1v1h-1zM21 49h1v1h-1zM8 53h1v1h-1zM9 53h1v1h-1zM11 53h1v1h-1zM3 54h1v1h-1zM20 54h1v1h-1zM6 55h1v1h-1zM2 56h1v1h-1zM21 56h1v1h-1zM22 56h1v1h-1zM13 57h1v1h-1zM19 57h1v1h-1zM6 58h1v1h-1zM16 58h1v1h-1zM20 59h1v1h-1zM10 60h1v1h-1zM11 61h1v1h-1zM0 62h1v1h-1zM13 62h1v1h-1zM20 62h1v1h-1zM7 63h1v1h-1zM9 63h1v1h-1zM9 64h1v1h-1zM11 64h1v1h-1zM21 64h1v1h-1zM4 65h1v1h-1zM7 65h1v1h-1zM20 67h1v1h-1zM10 68h1v1h-1zM21 68h1v1h-1zM21 69h1v1h-1zM1 71h1v1h-1zM8 73h1v1h-1zM4 75h1v1h-1zM2 76h1v1h-1zM9 77h1v1h-1zM16 77h1v1h-1zM5 78h1v1h-1zM0 79h1v1h-1zM19 79h1v1h-1zM1 80h1v1h-1zM4 80h1v1h-1zM5 80h1v1h-1zM8 80h1v1h-1zM19 80h1v1h-1zM1 81h1v1h-1zM6 81h1v1h-1zM19 84h1v1h-1zM15 85h1v1h-1zM8 87h1v1h-1zM6 89h1v1h-1zM6 90h1v1h-1zM14 92h1v1h-1zM4 95h1v1h-1zM14 95h1v1h-1zM12 96h1v1h-1zM16 96h1v1h-1zM14 97h1v1h-1zM0 98h1v1h-1zM3 98h1v1h-1zM15 98h1v1h-1zM16 98h1v1h-1zM22 98h1v1h-1zM4 99h1v1h-1zM19 100h1v1h-1zM0 101h1v1h-1zM4 102h1v1h-1zM2 103h1v1h-1zM14 103h1v1h-1zM6 104h1v1h-1zM13 104h1v1h-1zM22 104h1v1h-1zM3 105h1v1h-1zM1 106h1v1h-1zM1 108h1v1h-1zM6 109h1v1h-1zM11 109h1v1h-1zM21 109h1v1h-1z"/>
<path fill="#cbddec" d="M15 0h1v1h-1zM22 1h1v1h-1zM6 5h1v1h-1zM1 10h1v1h-1zM22 10h1v1h-1zM0 12h1v1h-1zM7 12h1v1h-1zM14 12h1v1h-1zM0 15h1v1h-1zM13 18h1v1h-1zM13 22h1v1h-1zM16 22h1v1h-1zM20 23h1v1h-1zM22 25h1v1h-1zM0 27h1v1h-1zM8 28h1v1h-1zM0 30h1v1h-1zM10 33h1v1h-1zM2 35h1v1h-1zM6 35h1v1h-1zM7 35h1v1h-1zM8 36h1v1h-1zM9 37h1v1h-1zM10 38h1v1h-1zM1 39h1v1h-1zM4 39h1v1h-1zM9 39h1v1h-1zM9 43h1v1h-1zM7 44h1v1h-1zM10 44h1v1h-1zM4 45h1v1h-1zM5 45h1v1h-1zM6 45h1v1h-1zM8 45h1v1h-1zM11 45h1v1h-1zM0 46h1v1h-1zM17 46h1v1h-1zM1 47h1v1h-1zM11 49h1v1h-1zM2 50h1v1h-1zM12 51h1v1h-1zM14 51h1v1h-1zM22 51h1v1h-1zM13 52h1v1h-1zM1 54h1v1h-1zM9 54h1v1h-1zM3 56h1v1h-1zM0 57h1v1h-1zM1 57h1v1h-1zM16 57h1v1h-1zM20 57h1v1h-1zM1 58h1v1h-1zM3 61h1v1h-1zM13 61h1v1h-1zM1 64h1v1h-1zM12 64h1v1h-1zM21 65h1v1h-1zM0 66h1v1h-1zM5 66h1v1h-1zM8 66h1v1h-1zM2 67h1v1h-1zM3 68h1v1h-1zM14 69h1v1h-1zM15 69h1v1h-1zM6 71h1v1h-1zM8 71h1v1h-1zM20 72h1v1h-1zM2 73h1v1h-1zM4 73h1v1h-1zM5 73h1v1h-1zM9 73h1v1h-1zM14 73h1v1h-1zM16 73h1v1h-1zM19 73h1v1h-1zM7 74h1v1h-1zM8 78h1v1h-1zM20 78h1v1h-1zM22 79h1v1h-1zM22 80h1v1h-1zM0 83h1v1h-1zM20 83h1v1h-1zM5 87h1v1h-1zM14 87h1v1h-1zM20 90h1v1h-1zM11 94h1v1h-1zM9 103h1v1h-1zM11 104h1v1h-1zM20 104h1v1h-1zM0 106h1v1h-1zM20 109h1v1h-1z"/>
<path fill="#d5e3ef" d="M16 0h1v1h-1zM3 1h1v1h-1zM13 2h1v1h-1zM19 3h1v1h-1zM22 3h1v1h-1zM10 4h1v1h-1zM21 5h1v1h-1zM22 5h1v1h-1zM19 7h1v1h-1zM21 7h1v1h-1zM5 9h1v1h-1zM13 10h1v1h-1zM8 12h1v1h-1zM18 12h1v1h-1zM11 15h1v1h-1zM21 17h1v1h-1zM1 18h1v1h-1zM7 18h1v1h-1zM15 19h1v1h-1zM16 19h1v1h-1zM21 19h1v1h-1zM7 22h1v1h-1zM7 25h1v1h-1zM11 25h1v1h-1zM9 27h1v1h-1zM21 28h1v1h-1zM4 29h1v1h-1zM1 31h1v1h-1zM2 31h1v1h-1zM1 32h1v1h-1zM9 33h1v1h-1zM1 34h1v1h-1zM21 35h1v1h-1zM22 35h1v1h-1zM1 36h1v1h-1zM9 36h1v1h-1zM18 36h1v1h-1zM4 37h1v1h-1zM1 38h1v1h-1zM3 39h1v1h-1zM11 39h1v1h-1zM9 41h1v1h-1zM19 42h1v1h-1zM7 43h1v1h-1zM20 45h1v1h-1zM22 45h1v1h-1zM2 46h1v1h-1zM2 47h1v1h-1zM6 47h1v1h-1zM11 48h1v1h-1zM18 49h1v1h-1zM19 49h1v1h-1zM4 50h1v1h-1zM11 50h1v1h-1zM6 51h1v1h-1zM15 51h1v1h-1zM20 51h1v1h-1zM0 58h1v1h-1zM11 60h1v1h-1zM22 60h1v1h-1zM1 61h1v1h-1zM1 62h1v1h-1zM3 63h1v1h-1zM8 65h1v1h-1zM12 65h1v1h-1zM13 66h1v1h-1zM4 67h1v1h-1zM8 67h1v1h-1zM14 67h1v1h-1zM21 67h1v1h-1zM4 68h1v1h-1zM15 68h1v1h-1zM16 69h1v1h-1zM2 71h1v1h-1zM3 71h1v1h-1zM11 71h1v1h-1zM2 72h1v1h-1zM17 72h1v1h-1zM18 73h1v1h-1zM19 75h1v1h-1zM4 77h1v1h-1zM22 78h1v1h-1zM11 79h1v1h-1zM4 81h1v1h-1zM5 81h1v1h-1zM13 81h1v1h-1zM15 83h1v1h-1zM1 84h1v1h-1zM17 84h1v1h-1zM11 86h1v1h-1zM14 88h1v1h-1zM3 100h1v1h-1zM15 100h1v1h-1zM16 101h1v1h-1zM6 102h1v1h-1zM7 103h1v1h-1zM9 104h1v1h-1zM19 104h1v1h-1zM2 105h1v1h-1zM1 107h1v1h-1zM8 108h1v1h-1zM11 108h1v1h-1zM16 108h1v1h-1zM0 109h1v1h-1zM19 109h1v1h-1zM22 109h1v1h-1z"/>
<path fill="#bdd4e8" d="M18 0h1v1h-1zM10 3h1v1h-1zM1 12h1v1h-1zM9 12h1v1h-1zM11 12h1v1h-1zM15 12h1v1h-1zM21 12h1v1h-1zM1 14h1v1h-1zM8 23h1v1h-1zM15 25h1v1h-1zM11 29h1v1h-1zM2 30h1v1h-1zM4 31h1v1h-1zM15 32h1v1h-1zM7 36h1v1h-1zM2 37h1v1h-1zM6 37h1v1h-1zM11 37h1v1h-1zM20 38h1v1h-1zM22 40h1v1h-1zM6 41h1v1h-1zM1 42h1v1h-1zM3 43h1v1h-1zM10 43h1v1h-1zM9 44h1v1h-1zM9 45h1v1h-1zM21 45h1v1h-1zM10 48h1v1h-1zM22 49h1v1h-1zM5 50h1v1h-1zM8 50h1v1h-1zM11 51h1v1h-1zM0 53h1v1h-1zM7 55h1v1h-1zM2 57h1v1h-1zM5 62h1v1h-1zM8 62h1v1h-1zM10 62h1v1h-1zM8 63h1v1h-1zM3 65h1v1h-1zM22 66h1v1h-1zM0 68h1v1h-1zM4 70h1v1h-1zM4 72h1v1h-1zM0 73h1v1h-1zM3 74h1v1h-1zM6 75h1v1h-1zM10 75h1v1h-1zM13 75h1v1h-1zM3 79h1v1h-1zM17 79h1v1h-1zM7 80h1v1h-1zM9 80h1v1h-1zM13 80h1v1h-1zM8 81h1v1h-1zM17 83h1v1h-1zM22 84h1v1h-1zM10 87h1v1h-1zM13 87h1v1h-1zM10 95h1v1h-1zM21 98h1v1h-1zM6 99h1v1h-1zM1 100h1v1h-1zM15 101h1v1h-1zM10 104h1v1h-1zM14 104h1v1h-1zM4 105h1v1h-1zM13 105h1v1h-1z"/>
<path fill="#dfe9f2" d="M21 0h1v1h-1zM7 1h1v1h-1zM21 1h1v1h-1zM21 2h1v1h-1zM21 3h1v1h-1zM22 4h1v1h-1zM6 6h1v1h-1zM15 8h1v1h-1zM0 10h1v1h-1zM18 10h1v1h-1zM11 11h1v1h-1zM16 12h1v1h-1zM0 13h1v1h-1zM2 13h1v1h-1zM5 13h1v1h-1zM11 13h1v1h-1zM18 13h1v1h-1zM6 14h1v1h-1zM12 14h1v1h-1zM5 15h1v1h-1zM11 16h1v1h-1zM16 16h1v1h-1zM22 16h1v1h-1zM0 22h1v1h-1zM14 22h1v1h-1zM19 22h1v1h-1zM21 24h1v1h-1zM10 25h1v1h-1zM18 25h1v1h-1zM3 26h1v1h-1zM22 26h1v1h-1zM4 27h1v1h-1zM16 28h1v1h-1zM13 29h1v1h-1zM14 30h1v1h-1zM18 30h1v1h-1zM20 32h1v1h-1zM0 33h1v1h-1zM13 33h1v1h-1zM22 33h1v1h-1zM16 35h1v1h-1zM19 36h1v1h-1zM20 36h1v1h-1zM21 36h1v1h-1zM0 37h1v1h-1zM17 37h1v1h-1zM0 38h1v1h-1zM4 38h1v1h-1zM16 38h1v1h-1zM17 38h1v1h-1zM3 40h1v1h-1zM5 40h1v1h-1zM5 41h1v1h-1zM11 41h1v1h-1zM2 43h1v1h-1zM15 44h1v1h-1zM22 44h1v1h-1zM15 45h1v1h-1zM3 46h1v1h-1zM9 47h1v1h-1zM2 48h1v1h-1zM14 48h1v1h-1zM20 49h1v1h-1zM7 50h1v1h-1zM9 51h1v1h-1zM16 51h1v1h-1zM0 52h1v1h-1zM12 52h1v1h-1zM2 53h1v1h-1zM4 53h1v1h-1zM6 53h1v1h-1zM10 53h1v1h-1zM20 53h1v1h-1zM13 54h1v1h-1zM16 54h1v1h-1zM22 54h1v1h-1zM4 56h1v1h-1zM5 58h1v1h-1zM7 58h1v1h-1zM21 58h1v1h-1zM4 60h1v1h-1zM7 60h1v1h-1zM22 61h1v1h-1zM7 62h1v1h-1zM12 62h1v1h-1zM15 62h1v1h-1zM6 63h1v1h-1zM8 64h1v1h-1zM2 66h1v1h-1zM6 67h1v1h-1zM22 68h1v1h-1zM9 69h1v1h-1zM11 69h1v1h-1zM2 70h1v1h-1zM15 70h1v1h-1zM19 70h1v1h-1zM5 71h1v1h-1zM9 71h1v1h-1zM0 72h1v1h-1zM1 74h1v1h-1zM21 74h1v1h-1zM0 75h1v1h-1zM7 75h1v1h-1zM10 77h1v1h-1zM11 77h1v1h-1zM22 77h1v1h-1zM0 78h1v1h-1zM1 78h1v1h-1zM14 78h1v1h-1zM2 79h1v1h-1zM9 81h1v1h-1zM17 81h1v1h-1zM5 83h1v1h-1zM8 83h1v1h-1zM19 83h1v1h-1zM10 88h1v1h-1zM14 90h1v1h-1zM7 91h1v1h-1zM6 93h1v1h-1zM13 93h1v1h-1zM0 97h1v1h-1zM4 97h1v1h-1zM21 97h1v1h-1zM0 99h1v1h-1zM8 99h1v1h-1zM9 100h1v1h-1zM10 100h1v1h-1zM22 101h1v1h-1zM9 102h1v1h-1zM20 102h1v1h-1zM20 103h1v1h-1zM3 104h1v1h-1zM5 104h1v1h-1zM3 106h1v1h-1zM4 106h1v1h-1zM14 106h1v1h-1zM9 107h1v1h-1zM0 108h1v1h-1zM18 108h1v1h-1zM2 109h1v1h-1zM14 109h1v1h-1z"/>
<path fill="#d0e0ee" d="M22 0h1v1h-1zM3 8h1v1h-1zM3 10h1v1h-1zM14 11h1v1h-1zM19 11h1v1h-1zM22 11h1v1h-1zM6 12h1v1h-1zM22 13h1v1h-1zM13 15h1v1h-1zM22 17h1v1h-1zM20 19h1v1h-1zM6 22h1v1h-1zM10 22h1v1h-1zM21 22h1v1h-1zM15 23h1v1h-1zM22 23h1v1h-1zM10 24h1v1h-1zM6 25h1v1h-1zM20 25h1v1h-1zM2 26h1v1h-1zM1 33h1v1h-1zM5 33h1v1h-1zM15 33h1v1h-1zM1 35h1v1h-1zM8 35h1v1h-1zM6 36h1v1h-1zM0 40h1v1h-1zM1 40h1v1h-1zM9 40h1v1h-1zM2 41h1v1h-1zM6 42h1v1h-1zM22 42h1v1h-1zM1 43h1v1h-1zM0 48h1v1h-1zM1 48h1v1h-1zM6 48h1v1h-1zM8 48h1v1h-1zM4 49h1v1h-1zM0 50h1v1h-1zM10 50h1v1h-1zM21 50h1v1h-1zM18 51h1v1h-1zM1 52h1v1h-1zM8 52h1v1h-1zM5 55h1v1h-1zM9 56h1v1h-1zM3 58h1v1h-1zM0 59h1v1h-1zM2 59h1v1h-1zM9 59h1v1h-1zM0 61h1v1h-1zM11 63h1v1h-1zM5 64h1v1h-1zM6 64h1v1h-1zM18 64h1v1h-1zM22 64h1v1h-1zM22 65h1v1h-1zM7 66h1v1h-1zM1 67h1v1h-1zM0 69h1v1h-1zM2 69h1v1h-1zM3 69h1v1h-1zM20 69h1v1h-1zM14 70h1v1h-1zM22 70h1v1h-1zM13 72h1v1h-1zM11 73h1v1h-1zM7 76h1v1h-1zM10 76h1v1h-1zM1 77h1v1h-1zM6 77h1v1h-1zM4 79h1v1h-1zM6 79h1v1h-1zM4 83h1v1h-1zM12 87h1v1h-1zM16 92h1v1h-1zM22 99h1v1h-1zM12 100h1v1h-1zM1 101h1v1h-1zM3 101h1v1h-1zM9 101h1v1h-1zM0 104h1v1h-1zM7 104h1v1h-1zM6 105h1v1h-1zM19 106h1v1h-1zM3 107h1v1h-1zM4 108h1v1h-1zM4 109h1v1h-1z"/>
<path fill="#a3c3e0" d="M0 1h1v1h-1zM22 14h1v1h-1zM3 31h1v1h-1zM7 31h1v1h-1zM8 31h1v1h-1zM17 32h1v1h-1zM9 35h1v1h-1zM10 40h1v1h-1zM0 45h1v1h-1zM4 46h1v1h-1zM7 49h1v1h-1zM3 50h1v1h-1zM7 51h1v1h-1zM10 51h1v1h-1zM7 53h1v1h-1zM2 61h1v1h-1zM4 63h1v1h-1zM9 67h1v1h-1zM6 69h1v1h-1zM10 69h1v1h-1zM7 70h1v1h-1zM11 72h1v1h-1zM7 77h1v1h-1zM3 86h1v1h-1zM10 93h1v1h-1zM1 96h1v1h-1z"/>
<path fill="#f5cab1" d="M4 1h1v1h-1zM3 3h1v1h-1zM9 3h1v1h-1zM15 3h1v1h-1zM6 4h1v1h-1zM13 4h1v1h-1zM12 5h1v1h-1zM2 8h1v1h-1zM13 8h1v1h-1zM2 10h1v1h-1zM9 10h1v1h-1zM1 15h1v1h-1zM2 23h1v1h-1zM1 25h1v1h-1zM14 28h1v1h-1zM12 31h1v1h-1zM18 39h1v1h-1zM19 43h1v1h-1zM15 49h1v1h-1zM19 71h1v1h-1zM11 75h1v1h-1zM18 75h1v1h-1zM15 76h1v1h-1zM16 79h1v1h-1zM17 80h1v1h-1zM12 82h1v1h-1zM14 85h1v1h-1zM16 85h1v1h-1zM20 85h1v1h-1zM21 88h1v1h-1zM16 91h1v1h-1zM15 93h1v1h-1zM8 96h1v1h-1zM14 102h1v1h-1z"/>
<path fill="#b5cfe6" d="M5 1h1v1h-1zM22 7h1v1h-1zM2 12h1v1h-1zM13 12h1v1h-1zM19 12h1v1h-1zM10 29h1v1h-1zM6 31h1v1h-1zM2 36h1v1h-1zM11 36h1v1h-1zM6 38h1v1h-1zM7 39h1v1h-1zM21 39h1v1h-1zM0 43h1v1h-1zM3 44h1v1h-1zM7 46h1v1h-1zM8 46h1v1h-1zM22 46h1v1h-1zM0 49h1v1h-1zM8 51h1v1h-1zM5 53h1v1h-1zM7 57h1v1h-1zM22 57h1v1h-1zM6 59h1v1h-1zM19 60h1v1h-1zM4 61h1v1h-1zM6 62h1v1h-1zM9 62h1v1h-1zM0 63h1v1h-1zM0 64h1v1h-1zM20 65h1v1h-1zM10 66h1v1h-1zM8 68h1v1h-1zM8 69h1v1h-1zM6 72h1v1h-1zM7 72h1v1h-1zM6 76h1v1h-1zM9 76h1v1h-1zM5 77h1v1h-1zM3 83h1v1h-1zM9 83h1v1h-1zM4 100h1v1h-1zM4 103h1v1h-1zM2 104h1v1h-1zM12 104h1v1h-1zM0 105h1v1h-1zM11 106h1v1h-1zM2 107h1v1h-1zM9 109h1v1h-1z"/>
<path fill="#f7eae1" d="M6 1h1v1h-1zM9 2h1v1h-1zM10 2h1v1h-1zM14 2h1v1h-1zM17 2h1v1h-1zM18 2h1v1h-1zM19 2h1v1h-1zM4 3h1v1h-1zM5 4h1v1h-1zM12 4h1v1h-1zM14 4h1v1h-1zM18 4h1v1h-1zM20 4h1v1h-1zM20 6h1v1h-1zM0 7h1v1h-1zM8 7h1v1h-1zM21 8h1v1h-1zM2 9h1v1h-1zM10 10h1v1h-1zM12 10h1v1h-1zM8 13h1v1h-1zM17 13h1v1h-1zM0 14h1v1h-1zM4 14h1v1h-1zM9 14h1v1h-1zM16 15h1v1h-1zM19 15h1v1h-1zM3 16h1v1h-1zM4 16h1v1h-1zM20 16h1v1h-1zM21 16h1v1h-1zM10 17h1v1h-1zM14 17h1v1h-1zM4 18h1v1h-1zM8 18h1v1h-1zM18 19h1v1h-1zM5 20h1v1h-1zM10 20h1v1h-1zM15 20h1v1h-1zM19 20h1v1h-1zM1 21h1v1h-1zM10 21h1v1h-1zM12 21h1v1h-1zM12 23h1v1h-1zM14 23h1v1h-1zM17 23h1v1h-1zM6 24h1v1h-1zM17 24h1v1h-1zM6 27h1v1h-1zM18 27h1v1h-1zM10 28h1v1h-1zM14 29h1v1h-1zM22 29h1v1h-1zM13 30h1v1h-1zM17 30h1v1h-1zM4 32h1v1h-1zM16 32h1v1h-1zM6 33h1v1h-1zM14 33h1v1h-1zM4 34h1v1h-1zM8 34h1v1h-1zM15 34h1v1h-1zM19 34h1v1h-1zM12 35h1v1h-1zM15 35h1v1h-1zM18 35h1v1h-1zM5 36h1v1h-1zM12 36h1v1h-1zM18 38h1v1h-1zM12 39h1v1h-1zM14 39h1v1h-1zM18 40h1v1h-1zM13 41h1v1h-1zM19 41h1v1h-1zM20 41h1v1h-1zM21 42h1v1h-1zM6 43h1v1h-1zM14 43h1v1h-1zM18 44h1v1h-1zM14 46h1v1h-1zM14 50h1v1h-1zM19 50h1v1h-1zM5 51h1v1h-1zM18 52h1v1h-1zM4 54h1v1h-1zM12 54h1v1h-1zM18 55h1v1h-1zM14 56h1v1h-1zM15 56h1v1h-1zM11 57h1v1h-1zM15 59h1v1h-1zM13 60h1v1h-1zM18 60h1v1h-1zM21 61h1v1h-1zM22 62h1v1h-1zM19 63h1v1h-1zM21 63h1v1h-1zM0 65h1v1h-1zM16 66h1v1h-1zM19 66h1v1h-1zM5 68h1v1h-1zM16 68h1v1h-1zM19 68h1v1h-1zM5 70h1v1h-1zM12 70h1v1h-1zM18 70h1v1h-1zM4 74h1v1h-1zM1 75h1v1h-1zM5 75h1v1h-1zM16 75h1v1h-1zM11 76h1v1h-1zM21 76h1v1h-1zM15 77h1v1h-1zM11 78h1v1h-1zM12 78h1v1h-1zM15 78h1v1h-1zM18 81h1v1h-1zM8 82h1v1h-1zM17 82h1v1h-1zM9 84h1v1h-1zM5 85h1v1h-1zM1 86h1v1h-1zM21 86h1v1h-1zM17 92h1v1h-1zM7 93h1v1h-1zM8 93h1v1h-1zM17 93h1v1h-1zM20 93h1v1h-1zM7 94h1v1h-1zM7 95h1v1h-1zM20 95h1v1h-1zM14 96h1v1h-1zM17 96h1v1h-1zM9 98h1v1h-1zM10 98h1v1h-1zM2 99h1v1h-1zM13 99h1v1h-1zM11 100h1v1h-1zM17 100h1v1h-1zM5 102h1v1h-1zM8 102h1v1h-1zM18 102h1v1h-1zM0 103h1v1h-1zM11 103h1v1h-1zM17 103h1v1h-1zM22 103h1v1h-1zM9 105h1v1h-1zM9 106h1v1h-1zM14 107h1v1h-1zM6 108h1v1h-1zM9 108h1v1h-1zM13 108h1v1h-1zM19 108h1v1h-1zM20 108h1v1h-1z"/>
<path fill="#f8e6da" d="M12 1h1v1h-1zM15 1h1v1h-1zM19 1h1v1h-1zM5 2h1v1h-1zM22 2h1v1h-1zM1 4h1v1h-1zM11 4h1v1h-1zM0 6h1v1h-1zM8 6h1v1h-1zM14 6h1v1h-1zM6 7h1v1h-1zM11 7h1v1h-1zM12 7h1v1h-1zM18 7h1v1h-1zM4 8h1v1h-1zM8 9h1v1h-1zM14 9h1v1h-1zM17 11h1v1h-1zM18 11h1v1h-1zM20 11h1v1h-1zM14 13h1v1h-1zM17 14h1v1h-1zM9 15h1v1h-1zM10 16h1v1h-1zM5 17h1v1h-1zM9 17h1v1h-1zM17 17h1v1h-1zM18 18h1v1h-1zM14 19h1v1h-1zM12 20h1v1h-1zM13 23h1v1h-1zM16 23h1v1h-1zM2 24h1v1h-1zM7 24h1v1h-1zM19 24h1v1h-1zM6 26h1v1h-1zM18 26h1v1h-1zM3 27h1v1h-1zM7 27h1v1h-1zM16 27h1v1h-1zM7 28h1v1h-1zM11 28h1v1h-1zM17 28h1v1h-1zM6 29h1v1h-1zM8 29h1v1h-1zM3 30h1v1h-1zM9 30h1v1h-1zM20 30h1v1h-1zM7 32h1v1h-1zM13 32h1v1h-1zM17 33h1v1h-1zM21 33h1v1h-1zM7 34h1v1h-1zM10 34h1v1h-1zM11 34h1v1h-1zM20 34h1v1h-1zM19 35h1v1h-1zM20 35h1v1h-1zM19 39h1v1h-1zM12 40h1v1h-1zM16 40h1v1h-1zM16 41h1v1h-1zM21 41h1v1h-1zM5 42h1v1h-1zM14 42h1v1h-1zM15 42h1v1h-1zM16 42h1v1h-1zM20 42h1v1h-1zM19 45h1v1h-1zM21 46h1v1h-1zM15 47h1v1h-1zM5 48h1v1h-1zM21 51h1v1h-1zM18 53h1v1h-1zM21 53h1v1h-1zM15 54h1v1h-1zM18 54h1v1h-1zM2 55h1v1h-1zM20 55h1v1h-1zM15 58h1v1h-1zM16 61h1v1h-1zM18 63h1v1h-1zM4 66h1v1h-1zM19 67h1v1h-1zM20 70h1v1h-1zM19 74h1v1h-1zM18 77h1v1h-1zM4 78h1v1h-1zM16 78h1v1h-1zM19 78h1v1h-1zM21 78h1v1h-1zM18 79h1v1h-1zM20 80h1v1h-1zM21 80h1v1h-1zM16 81h1v1h-1zM2 82h1v1h-1zM5 82h1v1h-1zM3 84h1v1h-1zM6 84h1v1h-1zM1 85h1v1h-1zM2 85h1v1h-1zM3 85h1v1h-1zM17 85h1v1h-1zM4 86h1v1h-1zM6 86h1v1h-1zM8 86h1v1h-1zM4 87h1v1h-1zM6 88h1v1h-1zM3 89h1v1h-1zM19 89h1v1h-1zM3 90h1v1h-1zM8 90h1v1h-1zM12 90h1v1h-1zM17 90h1v1h-1zM5 91h1v1h-1zM6 92h1v1h-1zM12 92h1v1h-1zM11 93h1v1h-1zM3 94h1v1h-1zM12 94h1v1h-1zM13 95h1v1h-1zM21 95h1v1h-1zM9 96h1v1h-1zM15 96h1v1h-1zM11 97h1v1h-1zM15 97h1v1h-1zM5 98h1v1h-1zM11 98h1v1h-1zM7 99h1v1h-1zM5 100h1v1h-1zM6 100h1v1h-1zM7 100h1v1h-1zM13 100h1v1h-1zM6 101h1v1h-1zM5 105h1v1h-1zM8 105h1v1h-1zM17 105h1v1h-1zM5 106h1v1h-1zM11 107h1v1h-1zM3 108h1v1h-1z"/>
<path fill="#f6d0b9" d="M2 2h1v1h-1zM11 3h1v1h-1zM13 6h1v1h-1zM12 8h1v1h-1zM14 8h1v1h-1zM1 16h1v1h-1zM13 16h1v1h-1zM19 16h1v1h-1zM20 21h1v1h-1zM1 23h1v1h-1zM8 30h1v1h-1zM19 31h1v1h-1zM2 33h1v1h-1zM18 46h1v1h-1zM13 48h1v1h-1zM19 52h1v1h-1zM12 56h1v1h-1zM13 56h1v1h-1zM17 58h1v1h-1zM16 62h1v1h-1zM12 66h1v1h-1zM13 74h1v1h-1zM8 85h1v1h-1zM4 89h1v1h-1zM15 89h1v1h-1zM8 91h1v1h-1zM11 91h1v1h-1zM15 91h1v1h-1zM17 94h1v1h-1zM21 94h1v1h-1zM18 95h1v1h-1zM10 96h1v1h-1zM18 107h1v1h-1z"/>
<path fill="#f7d7c4" d="M3 2h1v1h-1zM7 2h1v1h-1zM2 3h1v1h-1zM4 4h1v1h-1zM2 5h1v1h-1zM1 6h1v1h-1zM0 8h1v1h-1zM19 8h1v1h-1zM13 9h1v1h-1zM16 9h1v1h-1zM7 10h1v1h-1zM16 11h1v1h-1zM3 13h1v1h-1zM7 14h1v1h-1zM20 14h1v1h-1zM21 14h1v1h-1zM19 19h1v1h-1zM13 20h1v1h-1zM13 21h1v1h-1zM18 21h1v1h-1zM6 23h1v1h-1zM5 26h1v1h-1zM10 26h1v1h-1zM11 26h1v1h-1zM21 31h1v1h-1zM9 34h1v1h-1zM16 39h1v1h-1zM17 41h1v1h-1zM3 45h1v1h-1zM21 47h1v1h-1zM12 49h1v1h-1zM17 60h1v1h-1zM13 67h1v1h-1zM16 72h1v1h-1zM18 72h1v1h-1zM5 74h1v1h-1zM9 74h1v1h-1zM12 76h1v1h-1zM15 80h1v1h-1zM19 82h1v1h-1zM13 83h1v1h-1zM13 84h1v1h-1zM4 85h1v1h-1zM10 85h1v1h-1zM3 88h1v1h-1zM9 89h1v1h-1zM6 91h1v1h-1zM9 93h1v1h-1zM22 95h1v1h-1zM17 97h1v1h-1zM12 99h1v1h-1zM8 100h1v1h-1zM12 103h1v1h-1zM12 107h1v1h-1z"/>
<path fill="#f2bda0" d="M11 2h1v1h-1zM11 17h1v1h-1zM13 26h1v1h-1zM18 32h1v1h-1zM19 56h1v1h-1zM16 74h1v1h-1zM18 88h1v1h-1zM16 89h1v1h-1zM1 99h1v1h-1zM8 103h1v1h-1zM18 103h1v1h-1z"/>
<path fill="#f3c3a9" d="M8 4h1v1h-1zM0 5h1v1h-1zM3 6h1v1h-1zM1 8h1v1h-1zM5 8h1v1h-1zM22 8h1v1h-1zM20 10h1v1h-1zM1 26h1v1h-1zM21 43h1v1h-1zM21 55h1v1h-1zM16 56h1v1h-1zM19 59h1v1h-1zM19 61h1v1h-1zM16 70h1v1h-1zM18 71h1v1h-1zM0 85h1v1h-1zM0 95h1v1h-1zM6 96h1v1h-1zM7 96h1v1h-1zM16 97h1v1h-1zM18 100h1v1h-1zM14 105h1v1h-1zM17 106h1v1h-1z"/>
<path fill="#c6daeb" d="M14 5h1v1h-1zM12 6h1v1h-1zM3 7h1v1h-1zM16 8h1v1h-1zM1 9h1v1h-1zM4 12h1v1h-1zM5 12h1v1h-1zM12 12h1v1h-1zM22 12h1v1h-1zM21 13h1v1h-1zM21 18h1v1h-1zM21 23h1v1h-1zM22 28h1v1h-1zM21 29h1v1h-1zM7 30h1v1h-1zM9 31h1v1h-1zM17 31h1v1h-1zM11 35h1v1h-1zM4 36h1v1h-1zM10 36h1v1h-1zM15 36h1v1h-1zM10 39h1v1h-1zM22 39h1v1h-1zM10 42h1v1h-1zM22 43h1v1h-1zM2 45h1v1h-1zM10 46h1v1h-1zM22 47h1v1h-1zM22 48h1v1h-1zM5 49h1v1h-1zM0 51h1v1h-1zM5 52h1v1h-1zM6 52h1v1h-1zM7 52h1v1h-1zM10 54h1v1h-1zM21 54h1v1h-1zM0 55h1v1h-1zM7 56h1v1h-1zM4 57h1v1h-1zM21 57h1v1h-1zM7 61h1v1h-1zM2 62h1v1h-1zM22 63h1v1h-1zM4 64h1v1h-1zM1 66h1v1h-1zM3 66h1v1h-1zM18 67h1v1h-1zM7 68h1v1h-1zM9 68h1v1h-1zM11 68h1v1h-1zM17 69h1v1h-1zM6 70h1v1h-1zM10 71h1v1h-1zM1 73h1v1h-1zM18 74h1v1h-1zM4 76h1v1h-1zM5 79h1v1h-1zM12 81h1v1h-1zM14 81h1v1h-1zM20 81h1v1h-1zM22 81h1v1h-1zM2 83h1v1h-1zM15 87h1v1h-1zM17 89h1v1h-1zM2 98h1v1h-1zM7 98h1v1h-1zM3 99h1v1h-1zM5 101h1v1h-1zM5 103h1v1h-1zM7 105h1v1h-1z"/>
<path fill="#92b8db" d="M18 5h1v1h-1zM21 10h1v1h-1zM20 12h1v1h-1zM10 41h1v1h-1zM22 41h1v1h-1zM10 47h1v1h-1zM3 48h1v1h-1zM7 48h1v1h-1zM10 52h1v1h-1zM6 57h1v1h-1zM8 57h1v1h-1zM6 61h1v1h-1zM11 62h1v1h-1zM10 63h1v1h-1zM6 73h1v1h-1zM22 73h1v1h-1zM7 79h1v1h-1zM7 81h1v1h-1zM8 84h1v1h-1zM2 97h1v1h-1z"/>
<path fill="#9bbede" d="M3 12h1v1h-1zM10 35h1v1h-1zM7 42h1v1h-1zM7 47h1v1h-1zM3 49h1v1h-1zM6 49h1v1h-1zM9 50h1v1h-1zM5 57h1v1h-1zM1 59h1v1h-1zM10 59h1v1h-1zM9 61h1v1h-1zM8 75h1v1h-1zM9 75h1v1h-1zM3 78h1v1h-1zM3 80h1v1h-1zM2 81h1v1h-1zM11 87h1v1h-1zM3 97h1v1h-1zM2 100h1v1h-1zM1 104h1v1h-1z"/>
<path fill="#acc9e3" d="M17 12h1v1h-1zM18 22h1v1h-1zM13 34h1v1h-1zM3 37h1v1h-1zM6 39h1v1h-1zM4 42h1v1h-1zM7 45h1v1h-1zM9 46h1v1h-1zM3 51h1v1h-1zM11 54h1v1h-1zM1 55h1v1h-1zM9 57h1v1h-1zM3 59h1v1h-1zM22 67h1v1h-1zM1 68h1v1h-1zM6 68h1v1h-1zM5 69h1v1h-1zM7 69h1v1h-1zM13 69h1v1h-1zM10 70h1v1h-1zM7 71h1v1h-1zM9 72h1v1h-1zM22 75h1v1h-1zM1 79h1v1h-1zM9 79h1v1h-1zM3 81h1v1h-1zM10 81h1v1h-1zM1 83h1v1h-1zM10 89h1v1h-1zM4 98h1v1h-1zM3 103h1v1h-1zM17 104h1v1h-1z"/>
<path fill="#5b8fc8" d="M5 14h1v1h-1zM8 37h1v1h-1zM10 65h1v1h-1zM10 83h1v1h-1zM2 101h1v1h-1zM1 109h1v1h-1z"/>
<path fill="#efb090" d="M7 16h1v1h-1zM17 64h1v1h-1zM16 76h1v1h-1zM15 82h1v1h-1zM0 84h1v1h-1zM1 87h1v1h-1zM18 96h1v1h-1zM20 107h1v1h-1z"/>
<path fill="#89b1d8" d="M21 20h1v1h-1zM10 31h1v1h-1zM10 45h1v1h-1zM10 57h1v1h-1zM3 62h1v1h-1zM3 73h1v1h-1zM3 75h1v1h-1zM17 87h1v1h-1zM20 100h1v1h-1zM3 109h1v1h-1z"/>
<path fill="#80aad5" d="M20 26h1v1h-1zM10 37h1v1h-1zM22 37h1v1h-1zM22 50h1v1h-1zM2 51h1v1h-1zM1 53h1v1h-1zM4 69h1v1h-1zM5 72h1v1h-1zM3 76h1v1h-1zM10 92h1v1h-1z"/>
<path fill="#4377b6" d="M6 40h1v1h-1z"/>
<path fill="#76a4d2" d="M7 40h1v1h-1zM10 49h1v1h-1zM3 53h1v1h-1zM7 59h1v1h-1zM7 64h1v1h-1zM3 67h1v1h-1zM7 73h1v1h-1zM10 80h1v1h-1zM4 104h1v1h-1z"/>
<path fill="#5185c1" d="M9 49h1v1h-1zM10 56h1v1h-1zM10 64h1v1h-1zM10 67h1v1h-1zM3 72h1v1h-1z"/>
<path fill="#2f64a8" d="M6 50h1v1h-1z"/>
<path fill="#568ac4" d="M22 53h1v1h-1zM22 83h1v1h-1z"/>
<path fill="#6496cb" d="M1 56h1v1h-1zM22 69h1v1h-1zM10 72h1v1h-1zM10 73h1v1h-1z"/>
<path fill="#4c81bd" d="M3 57h1v1h-1zM3 64h1v1h-1z"/>
<path fill="#477cba" d="M10 58h1v1h-1z"/>
<path fill="#6d9dce" d="M22 72h1v1h-1zM4 101h1v1h-1z"/>
<path fill="#eeaa88" d="M10 82h1v1h-1zM21 85h1v1h-1zM0 92h1v1h-1zM20 96h1v1h-1z"/>
<path fill="#e89a7a" d="M12 85h1v1h-1z"/>
<path fill="#eba281" d="M2 87h1v1h-1zM0 89h1v1h-1zM0 94h1v1h-1z"/>
<path fill="#f1b798" d="M16 87h1v1h-1zM18 104h1v1h-1z"/>
<path fill="#e28a6c" d="M0 88h1v1h-1z"/>
<path fill="#b3312e" d="M1 88h1v1h-1zM2 88h1v1h-1zM2 89h1v1h-1zM1 90h1v1h-1zM1 91h1v1h-1zM2 91h1v1h-1zM1 92h1v1h-1zM2 92h1v1h-1zM1 93h1v1h-1zM2 93h1v1h-1zM2 95h1v1h-1z"/>
<path fill="#e59273" d="M13 88h1v1h-1zM22 90h1v1h-1z"/>
<path fill="#c55143" d="M1 89h1v1h-1z"/>
<path fill="#bc4139" d="M2 90h1v1h-1z"/>
<path fill="#df8265" d="M0 91h1v1h-1z"/>
<path fill="#d36a53" d="M1 94h1v1h-1zM1 95h1v1h-1zM18 106h1v1h-1z"/>
<path fill="#ca5a49" d="M2 94h1v1h-1z"/>
<path fill="#dc7a5e" d="M18 98h1v1h-1zM18 109h1v1h-1z"/>
<path fill="#d77259" d="M18 101h1v1h-1z"/>
</g></g>
<rect x="99.02" y="47.5" width="0.3" height="170.0" fill="#fff" opacity="0.45"/>
<rect x="103.69" y="47.5" width="0.3" height="170.0" fill="#fff" opacity="0.45"/>
<rect x="108.36" y="47.5" width="0.3" height="170.0" fill="#fff" opacity="0.45"/>
<rect x="113.03" y="47.5" width="0.3" height="170.0" fill="#fff" opacity="0.45"/>
<rect x="117.70" y="47.5" width="0.3" height="170.0" fill="#fff" opacity="0.45"/>
<rect x="122.37" y="47.5" width="0.3" height="170.0" fill="#fff" opacity="0.45"/>
<rect x="127.04" y="47.5" width="0.3" height="170.0" fill="#fff" opacity="0.45"/>
<rect x="131.71" y="47.5" width="0.3" height="170.0" fill="#fff" opacity="0.45"/>
<rect x="136.38" y="47.5" width="0.3" height="170.0" fill="#fff" opacity="0.45"/>
<rect x="141.05" y="47.5" width="0.3" height="170.0" fill="#fff" opacity="0.45"/>
<rect x="145.72" y="47.5" width="0.3" height="170.0" fill="#fff" opacity="0.45"/>
<rect x="150.39" y="47.5" width="0.3" height="170.0" fill="#fff" opacity="0.45"/>
<rect x="155.06" y="47.5" width="0.3" height="170.0" fill="#fff" opacity="0.45"/>
<rect x="159.73" y="47.5" width="0.3" height="170.0" fill="#fff" opacity="0.45"/>
<rect x="164.40" y="47.5" width="0.3" height="170.0" fill="#fff" opacity="0.45"/>
<rect x="169.07" y="47.5" width="0.3" height="170.0" fill="#fff" opacity="0.45"/>
<rect x="173.74" y="47.5" width="0.3" height="170.0" fill="#fff" opacity="0.45"/>
<rect x="178.41" y="47.5" width="0.3" height="170.0" fill="#fff" opacity="0.45"/>
<rect x="183.08" y="47.5" width="0.3" height="170.0" fill="#fff" opacity="0.45"/>
<rect x="187.75" y="47.5" width="0.3" height="170.0" fill="#fff" opacity="0.45"/>
<rect x="192.42" y="47.5" width="0.3" height="170.0" fill="#fff" opacity="0.45"/>
<rect x="197.09" y="47.5" width="0.3" height="170.0" fill="#fff" opacity="0.45"/>
<rect x="22.0" y="219.5" width="41.85" height="1.0" fill="#4caf50"/>
<rect x="65.4" y="219.5" width="27.72" height="1.0" fill="#4caf50"/>
<rect x="94.5" y="219.5" width="107.41" height="1.0" fill="#4caf50"/>
<text transform="translate(40.70,229.60) scale(0.700)" font-size="10" fill="#333" text-anchor="middle" textLength="39.29" lengthAdjust="spacingAndGlyphs">6/9 Resp.</text>
<text transform="translate(40.70,236.80) scale(0.700)" font-size="10" fill="#333" text-anchor="middle" textLength="30.71" lengthAdjust="spacingAndGlyphs">(66.6%)</text>
<text transform="translate(78.50,229.60) scale(0.700)" font-size="10" fill="#333" text-anchor="middle" textLength="39.29" lengthAdjust="spacingAndGlyphs">2/6 Resp.</text>
<text transform="translate(78.50,236.80) scale(0.700)" font-size="10" fill="#333" text-anchor="middle" textLength="30.71" lengthAdjust="spacingAndGlyphs">(33.3%)</text>
<text transform="translate(148.50,229.60) scale(0.700)" font-size="10" fill="#333" text-anchor="middle" textLength="44.29" lengthAdjust="spacingAndGlyphs">6/23 Resp.</text>
<text transform="translate(148.50,236.80) scale(0.700)" font-size="10" fill="#333" text-anchor="middle" textLength="30.71" lengthAdjust="spacingAndGlyphs">(26.1%)</text>
<defs><linearGradient id="cbA" x1="0" y1="0" x2="0" y2="1"><stop offset="0" stop-color="#8e0c25"/><stop offset="0.25" stop-color="#d6604d"/><stop offset="0.38" stop-color="#f4c1a5"/><stop offset="0.5" stop-color="#f7f7f7"/><stop offset="0.62" stop-color="#bcd6ea"/><stop offset="0.75" stop-color="#4f8fc4"/><stop offset="1" stop-color="#1e4f95"/></linearGradient></defs>
<rect x="203.4" y="50" width="2.4" height="43" fill="url(#cbA)"/>
<text transform="translate(207.50,52.60) scale(0.460)" font-size="10" fill="#333">4</text>
<text transform="translate(207.50,63.60) scale(0.460)" font-size="10" fill="#333">2</text>
<text transform="translate(207.50,74.10) scale(0.460)" font-size="10" fill="#333">0</text>
<text transform="translate(206.30,84.60) scale(0.460)" font-size="10" fill="#333">−2</text>
<text transform="translate(216.00,52.00) scale(0.470)" font-size="10" fill="#000" font-weight="bold" textLength="39.36" lengthAdjust="spacingAndGlyphs">Response</text>
<rect x="215.8" y="53.7" width="5.1" height="4.75" fill="#3f9a6a"/>
<text transform="translate(222.10,57.60) scale(0.500)" font-size="10" fill="#3a3a3a" textLength="74.00" lengthAdjust="spacingAndGlyphs">Complete response</text>
<rect x="215.8" y="58.4" width="5.1" height="4.75" fill="#cf600c"/>
<text transform="translate(222.10,62.30) scale(0.500)" font-size="10" fill="#3a3a3a" textLength="47.60" lengthAdjust="spacingAndGlyphs">No response</text>
<rect x="215.8" y="63.1" width="5.1" height="4.75" fill="#7469bf"/>
<text transform="translate(222.10,67.00) scale(0.500)" font-size="10" fill="#3a3a3a" textLength="59.60" lengthAdjust="spacingAndGlyphs">Partial response</text>
<text transform="translate(216.00,74.60) scale(0.470)" font-size="10" fill="#000" font-weight="bold" textLength="82.13" lengthAdjust="spacingAndGlyphs">Immune_infiltration</text>
<rect x="215.8" y="76.1" width="5.1" height="4.85" fill="#3f9a6a"/>
<text transform="translate(222.10,79.90) scale(0.500)" font-size="10" fill="#3a3a3a" textLength="18.00" lengthAdjust="spacingAndGlyphs">High</text>
<rect x="215.8" y="80.9" width="5.1" height="4.85" fill="#cf600c"/>
<text transform="translate(222.10,84.70) scale(0.500)" font-size="10" fill="#3a3a3a" textLength="48.40" lengthAdjust="spacingAndGlyphs">Intermediate</text>
<rect x="215.8" y="85.7" width="5.1" height="4.85" fill="#7469bf"/>
<text transform="translate(222.10,89.50) scale(0.500)" font-size="10" fill="#3a3a3a" textLength="15.20" lengthAdjust="spacingAndGlyphs">Low</text>
<text x="7.6" y="263.2" font-size="11.0" fill="#000" font-weight="bold">B</text>
<rect x="24.20" y="296.00" width="3.64" height="7.65" fill="#bc3c36"/>
<rect x="27.82" y="296.00" width="3.64" height="7.65" fill="#f4c9af"/>
<rect x="31.44" y="296.00" width="3.64" height="7.65" fill="#f2c0a4"/>
<rect x="35.06" y="296.00" width="3.64" height="7.65" fill="#da795d"/>
<rect x="38.68" y="296.00" width="3.64" height="7.65" fill="#f9dfce"/>
<rect x="42.30" y="296.00" width="3.64" height="7.65" fill="#f8e5d7"/>
<rect x="45.92" y="296.00" width="3.64" height="7.65" fill="#f8d9c4"/>
<rect x="49.54" y="296.00" width="3.64" height="7.65" fill="#f2c0a4"/>
<rect x="53.16" y="296.00" width="3.64" height="7.65" fill="#e5ecf1"/>
<rect x="56.78" y="296.00" width="3.64" height="7.65" fill="#dbe8f1"/>
<rect x="60.40" y="296.00" width="3.64" height="7.65" fill="#f6d1b9"/>
<rect x="64.02" y="296.00" width="3.64" height="7.65" fill="#eef1f2"/>
<rect x="67.64" y="296.00" width="3.64" height="7.65" fill="#f7f0ea"/>
<rect x="71.26" y="296.00" width="3.64" height="7.65" fill="#f8eae0"/>
<rect x="74.88" y="296.00" width="3.64" height="7.65" fill="#f7f5f3"/>
<rect x="78.50" y="296.00" width="3.64" height="7.65" fill="#f0b899"/>
<rect x="82.12" y="296.00" width="3.64" height="7.65" fill="#f0b899"/>
<rect x="85.74" y="296.00" width="3.64" height="7.65" fill="#f7f5f3"/>
<rect x="89.36" y="296.00" width="3.64" height="7.65" fill="#f8eae0"/>
<rect x="92.98" y="296.00" width="3.64" height="7.65" fill="#eef1f2"/>
<rect x="98.20" y="296.00" width="3.60" height="7.65" fill="#507eb9"/>
<rect x="101.78" y="296.00" width="3.60" height="7.65" fill="#eef1f2"/>
<rect x="105.36" y="296.00" width="3.60" height="7.65" fill="#eef1f2"/>
<rect x="108.94" y="296.00" width="3.60" height="7.65" fill="#e5ecf1"/>
<rect x="112.52" y="296.00" width="3.60" height="7.65" fill="#8cb4d9"/>
<rect x="116.10" y="296.00" width="3.60" height="7.65" fill="#f8eae0"/>
<rect x="119.68" y="296.00" width="3.60" height="7.65" fill="#f7f0ea"/>
<rect x="123.26" y="296.00" width="3.60" height="7.65" fill="#e5ecf1"/>
<rect x="126.84" y="296.00" width="3.60" height="7.65" fill="#dbe8f1"/>
<rect x="130.42" y="296.00" width="3.60" height="7.65" fill="#e5ecf1"/>
<rect x="134.00" y="296.00" width="3.60" height="7.65" fill="#eef1f2"/>
<rect x="137.58" y="296.00" width="3.60" height="7.65" fill="#eef1f2"/>
<rect x="141.16" y="296.00" width="3.60" height="7.65" fill="#bbd3e8"/>
<rect x="144.74" y="296.00" width="3.60" height="7.65" fill="#78a2ce"/>
<rect x="148.32" y="296.00" width="3.60" height="7.65" fill="#8cb4d9"/>
<rect x="151.90" y="296.00" width="3.60" height="7.65" fill="#eef1f2"/>
<rect x="155.48" y="296.00" width="3.60" height="7.65" fill="#bbd3e8"/>
<rect x="159.06" y="296.00" width="3.60" height="7.65" fill="#afcce4"/>
<rect x="24.20" y="303.63" width="3.64" height="7.65" fill="#bc3c36"/>
<rect x="27.82" y="303.63" width="3.64" height="7.65" fill="#f6d1b9"/>
<rect x="31.44" y="303.63" width="3.64" height="7.65" fill="#f8e5d7"/>
<rect x="35.06" y="303.63" width="3.64" height="7.65" fill="#f2c0a4"/>
<rect x="38.68" y="303.63" width="3.64" height="7.65" fill="#f8eae0"/>
<rect x="42.30" y="303.63" width="3.64" height="7.65" fill="#f8e5d7"/>
<rect x="45.92" y="303.63" width="3.64" height="7.65" fill="#f2c0a4"/>
<rect x="49.54" y="303.63" width="3.64" height="7.65" fill="#f8e5d7"/>
<rect x="53.16" y="303.63" width="3.64" height="7.65" fill="#f7f5f3"/>
<rect x="56.78" y="303.63" width="3.64" height="7.65" fill="#dbe8f1"/>
<rect x="60.40" y="303.63" width="3.64" height="7.65" fill="#e5ecf1"/>
<rect x="64.02" y="303.63" width="3.64" height="7.65" fill="#f7f5f3"/>
<rect x="67.64" y="303.63" width="3.64" height="7.65" fill="#eeb08f"/>
<rect x="71.26" y="303.63" width="3.64" height="7.65" fill="#f8eae0"/>
<rect x="74.88" y="303.63" width="3.64" height="7.65" fill="#eef1f2"/>
<rect x="78.50" y="303.63" width="3.64" height="7.65" fill="#eeb08f"/>
<rect x="82.12" y="303.63" width="3.64" height="7.65" fill="#eca884"/>
<rect x="85.74" y="303.63" width="3.64" height="7.65" fill="#f7f5f3"/>
<rect x="89.36" y="303.63" width="3.64" height="7.65" fill="#f7f0ea"/>
<rect x="92.98" y="303.63" width="3.64" height="7.65" fill="#e5ecf1"/>
<rect x="98.20" y="303.63" width="3.60" height="7.65" fill="#f8e5d7"/>
<rect x="101.78" y="303.63" width="3.60" height="7.65" fill="#98bcdd"/>
<rect x="105.36" y="303.63" width="3.60" height="7.65" fill="#f7f5f3"/>
<rect x="108.94" y="303.63" width="3.60" height="7.65" fill="#e5ecf1"/>
<rect x="112.52" y="303.63" width="3.60" height="7.65" fill="#78a2ce"/>
<rect x="116.10" y="303.63" width="3.60" height="7.65" fill="#f8e5d7"/>
<rect x="119.68" y="303.63" width="3.60" height="7.65" fill="#e5ecf1"/>
<rect x="123.26" y="303.63" width="3.60" height="7.65" fill="#f7f0ea"/>
<rect x="126.84" y="303.63" width="3.60" height="7.65" fill="#bbd3e8"/>
<rect x="130.42" y="303.63" width="3.60" height="7.65" fill="#f7f5f3"/>
<rect x="134.00" y="303.63" width="3.60" height="7.65" fill="#a3c4e1"/>
<rect x="137.58" y="303.63" width="3.60" height="7.65" fill="#dbe8f1"/>
<rect x="141.16" y="303.63" width="3.60" height="7.65" fill="#d2e3f0"/>
<rect x="144.74" y="303.63" width="3.60" height="7.65" fill="#82abd3"/>
<rect x="148.32" y="303.63" width="3.60" height="7.65" fill="#82abd3"/>
<rect x="151.90" y="303.63" width="3.60" height="7.65" fill="#f8e5d7"/>
<rect x="155.48" y="303.63" width="3.60" height="7.65" fill="#d2e3f0"/>
<rect x="159.06" y="303.63" width="3.60" height="7.65" fill="#c6dbec"/>
<rect x="24.20" y="311.26" width="3.64" height="7.65" fill="#f2c0a4"/>
<rect x="27.82" y="311.26" width="3.64" height="7.65" fill="#f8eae0"/>
<rect x="31.44" y="311.26" width="3.64" height="7.65" fill="#bc3c36"/>
<rect x="35.06" y="311.26" width="3.64" height="7.65" fill="#bc3c36"/>
<rect x="38.68" y="311.26" width="3.64" height="7.65" fill="#f9dfce"/>
<rect x="42.30" y="311.26" width="3.64" height="7.65" fill="#f6d1b9"/>
<rect x="45.92" y="311.26" width="3.64" height="7.65" fill="#f6d1b9"/>
<rect x="49.54" y="311.26" width="3.64" height="7.65" fill="#f8eae0"/>
<rect x="53.16" y="311.26" width="3.64" height="7.65" fill="#dbe8f1"/>
<rect x="56.78" y="311.26" width="3.64" height="7.65" fill="#f7f5f3"/>
<rect x="60.40" y="311.26" width="3.64" height="7.65" fill="#f7f5f3"/>
<rect x="64.02" y="311.26" width="3.64" height="7.65" fill="#e5ecf1"/>
<rect x="67.64" y="311.26" width="3.64" height="7.65" fill="#f7f0ea"/>
<rect x="71.26" y="311.26" width="3.64" height="7.65" fill="#f7f5f3"/>
<rect x="74.88" y="311.26" width="3.64" height="7.65" fill="#e5ecf1"/>
<rect x="78.50" y="311.26" width="3.64" height="7.65" fill="#eca884"/>
<rect x="82.12" y="311.26" width="3.64" height="7.65" fill="#df8667"/>
<rect x="85.74" y="311.26" width="3.64" height="7.65" fill="#f8e5d7"/>
<rect x="89.36" y="311.26" width="3.64" height="7.65" fill="#dbe8f1"/>
<rect x="92.98" y="311.26" width="3.64" height="7.65" fill="#f7f5f3"/>
<rect x="98.20" y="311.26" width="3.60" height="7.65" fill="#f8e5d7"/>
<rect x="101.78" y="311.26" width="3.60" height="7.65" fill="#eef1f2"/>
<rect x="105.36" y="311.26" width="3.60" height="7.65" fill="#f7f5f3"/>
<rect x="108.94" y="311.26" width="3.60" height="7.65" fill="#e5ecf1"/>
<rect x="112.52" y="311.26" width="3.60" height="7.65" fill="#78a2ce"/>
<rect x="116.10" y="311.26" width="3.60" height="7.65" fill="#f7f5f3"/>
<rect x="119.68" y="311.26" width="3.60" height="7.65" fill="#e5ecf1"/>
<rect x="123.26" y="311.26" width="3.60" height="7.65" fill="#f7f5f3"/>
<rect x="126.84" y="311.26" width="3.60" height="7.65" fill="#e5ecf1"/>
<rect x="130.42" y="311.26" width="3.60" height="7.65" fill="#dbe8f1"/>
<rect x="134.00" y="311.26" width="3.60" height="7.65" fill="#dbe8f1"/>
<rect x="137.58" y="311.26" width="3.60" height="7.65" fill="#eef1f2"/>
<rect x="141.16" y="311.26" width="3.60" height="7.65" fill="#a3c4e1"/>
<rect x="144.74" y="311.26" width="3.60" height="7.65" fill="#a3c4e1"/>
<rect x="148.32" y="311.26" width="3.60" height="7.65" fill="#a3c4e1"/>
<rect x="151.90" y="311.26" width="3.60" height="7.65" fill="#eef1f2"/>
<rect x="155.48" y="311.26" width="3.60" height="7.65" fill="#c6dbec"/>
<rect x="159.06" y="311.26" width="3.60" height="7.65" fill="#c6dbec"/>
<rect x="24.20" y="318.89" width="3.64" height="7.65" fill="#f8d9c4"/>
<rect x="27.82" y="318.89" width="3.64" height="7.65" fill="#f8d9c4"/>
<rect x="31.44" y="318.89" width="3.64" height="7.65" fill="#f8e5d7"/>
<rect x="35.06" y="318.89" width="3.64" height="7.65" fill="#f8e5d7"/>
<rect x="38.68" y="318.89" width="3.64" height="7.65" fill="#f9dfce"/>
<rect x="42.30" y="318.89" width="3.64" height="7.65" fill="#f8eae0"/>
<rect x="45.92" y="318.89" width="3.64" height="7.65" fill="#f8e5d7"/>
<rect x="49.54" y="318.89" width="3.64" height="7.65" fill="#f7f0ea"/>
<rect x="53.16" y="318.89" width="3.64" height="7.65" fill="#eef1f2"/>
<rect x="56.78" y="318.89" width="3.64" height="7.65" fill="#f8e5d7"/>
<rect x="60.40" y="318.89" width="3.64" height="7.65" fill="#eef1f2"/>
<rect x="64.02" y="318.89" width="3.64" height="7.65" fill="#eef1f2"/>
<rect x="67.64" y="318.89" width="3.64" height="7.65" fill="#f8eae0"/>
<rect x="71.26" y="318.89" width="3.64" height="7.65" fill="#eef1f2"/>
<rect x="74.88" y="318.89" width="3.64" height="7.65" fill="#f8e5d7"/>
<rect x="78.50" y="318.89" width="3.64" height="7.65" fill="#d56d53"/>
<rect x="82.12" y="318.89" width="3.64" height="7.65" fill="#da795d"/>
<rect x="85.74" y="318.89" width="3.64" height="7.65" fill="#f8e5d7"/>
<rect x="89.36" y="318.89" width="3.64" height="7.65" fill="#eeb08f"/>
<rect x="92.98" y="318.89" width="3.64" height="7.65" fill="#f6d1b9"/>
<rect x="98.20" y="318.89" width="3.60" height="7.65" fill="#f7f5f3"/>
<rect x="101.78" y="318.89" width="3.60" height="7.65" fill="#2d5fa6"/>
<rect x="105.36" y="318.89" width="3.60" height="7.65" fill="#dbe8f1"/>
<rect x="108.94" y="318.89" width="3.60" height="7.65" fill="#f7f0ea"/>
<rect x="112.52" y="318.89" width="3.60" height="7.65" fill="#eef1f2"/>
<rect x="116.10" y="318.89" width="3.60" height="7.65" fill="#e5ecf1"/>
<rect x="119.68" y="318.89" width="3.60" height="7.65" fill="#e5ecf1"/>
<rect x="123.26" y="318.89" width="3.60" height="7.65" fill="#eef1f2"/>
<rect x="126.84" y="318.89" width="3.60" height="7.65" fill="#bbd3e8"/>
<rect x="130.42" y="318.89" width="3.60" height="7.65" fill="#6490c3"/>
<rect x="134.00" y="318.89" width="3.60" height="7.65" fill="#f6d1b9"/>
<rect x="137.58" y="318.89" width="3.60" height="7.65" fill="#eef1f2"/>
<rect x="141.16" y="318.89" width="3.60" height="7.65" fill="#e5ecf1"/>
<rect x="144.74" y="318.89" width="3.60" height="7.65" fill="#e5ecf1"/>
<rect x="148.32" y="318.89" width="3.60" height="7.65" fill="#eef1f2"/>
<rect x="151.90" y="318.89" width="3.60" height="7.65" fill="#82abd3"/>
<rect x="155.48" y="318.89" width="3.60" height="7.65" fill="#bbd3e8"/>
<rect x="159.06" y="318.89" width="3.60" height="7.65" fill="#afcce4"/>
<rect x="24.20" y="326.52" width="3.64" height="7.65" fill="#f6d1b9"/>
<rect x="27.82" y="326.52" width="3.64" height="7.65" fill="#f6d1b9"/>
<rect x="31.44" y="326.52" width="3.64" height="7.65" fill="#dbe8f1"/>
<rect x="35.06" y="326.52" width="3.64" height="7.65" fill="#dbe8f1"/>
<rect x="38.68" y="326.52" width="3.64" height="7.65" fill="#f8d9c4"/>
<rect x="42.30" y="326.52" width="3.64" height="7.65" fill="#e5ecf1"/>
<rect x="45.92" y="326.52" width="3.64" height="7.65" fill="#f7f0ea"/>
<rect x="49.54" y="326.52" width="3.64" height="7.65" fill="#f8e5d7"/>
<rect x="53.16" y="326.52" width="3.64" height="7.65" fill="#e5ecf1"/>
<rect x="56.78" y="326.52" width="3.64" height="7.65" fill="#f7f5f3"/>
<rect x="60.40" y="326.52" width="3.64" height="7.65" fill="#eef1f2"/>
<rect x="64.02" y="326.52" width="3.64" height="7.65" fill="#dbe8f1"/>
<rect x="67.64" y="326.52" width="3.64" height="7.65" fill="#f8e5d7"/>
<rect x="71.26" y="326.52" width="3.64" height="7.65" fill="#f0b899"/>
<rect x="74.88" y="326.52" width="3.64" height="7.65" fill="#df8667"/>
<rect x="78.50" y="326.52" width="3.64" height="7.65" fill="#f8e5d7"/>
<rect x="82.12" y="326.52" width="3.64" height="7.65" fill="#f8e5d7"/>
<rect x="85.74" y="326.52" width="3.64" height="7.65" fill="#f8e5d7"/>
<rect x="89.36" y="326.52" width="3.64" height="7.65" fill="#f7f5f3"/>
<rect x="92.98" y="326.52" width="3.64" height="7.65" fill="#eef1f2"/>
<rect x="98.20" y="326.52" width="3.60" height="7.65" fill="#f8eae0"/>
<rect x="101.78" y="326.52" width="3.60" height="7.65" fill="#f7f5f3"/>
<rect x="105.36" y="326.52" width="3.60" height="7.65" fill="#f9dfce"/>
<rect x="108.94" y="326.52" width="3.60" height="7.65" fill="#e49270"/>
<rect x="112.52" y="326.52" width="3.60" height="7.65" fill="#f9dfce"/>
<rect x="116.10" y="326.52" width="3.60" height="7.65" fill="#e5ecf1"/>
<rect x="119.68" y="326.52" width="3.60" height="7.65" fill="#f7f5f3"/>
<rect x="123.26" y="326.52" width="3.60" height="7.65" fill="#e5ecf1"/>
<rect x="126.84" y="326.52" width="3.60" height="7.65" fill="#f6d1b9"/>
<rect x="130.42" y="326.52" width="3.60" height="7.65" fill="#eef1f2"/>
<rect x="134.00" y="326.52" width="3.60" height="7.65" fill="#dbe8f1"/>
<rect x="137.58" y="326.52" width="3.60" height="7.65" fill="#bbd3e8"/>
<rect x="141.16" y="326.52" width="3.60" height="7.65" fill="#82abd3"/>
<rect x="144.74" y="326.52" width="3.60" height="7.65" fill="#eef1f2"/>
<rect x="148.32" y="326.52" width="3.60" height="7.65" fill="#3263a9"/>
<rect x="151.90" y="326.52" width="3.60" height="7.65" fill="#dbe8f1"/>
<rect x="155.48" y="326.52" width="3.60" height="7.65" fill="#d2e3f0"/>
<rect x="159.06" y="326.52" width="3.60" height="7.65" fill="#afcce4"/>
<rect x="24.20" y="334.15" width="3.64" height="7.65" fill="#f9dfce"/>
<rect x="27.82" y="334.15" width="3.64" height="7.65" fill="#f8e5d7"/>
<rect x="31.44" y="334.15" width="3.64" height="7.65" fill="#f8eae0"/>
<rect x="35.06" y="334.15" width="3.64" height="7.65" fill="#e5ecf1"/>
<rect x="38.68" y="334.15" width="3.64" height="7.65" fill="#f7f0ea"/>
<rect x="42.30" y="334.15" width="3.64" height="7.65" fill="#f8e5d7"/>
<rect x="45.92" y="334.15" width="3.64" height="7.65" fill="#f8e5d7"/>
<rect x="49.54" y="334.15" width="3.64" height="7.65" fill="#eeb08f"/>
<rect x="53.16" y="334.15" width="3.64" height="7.65" fill="#f2c0a4"/>
<rect x="56.78" y="334.15" width="3.64" height="7.65" fill="#f7f0ea"/>
<rect x="60.40" y="334.15" width="3.64" height="7.65" fill="#ab232f"/>
<rect x="64.02" y="334.15" width="3.64" height="7.65" fill="#bc3c36"/>
<rect x="67.64" y="334.15" width="3.64" height="7.65" fill="#e5ecf1"/>
<rect x="71.26" y="334.15" width="3.64" height="7.65" fill="#f8e5d7"/>
<rect x="74.88" y="334.15" width="3.64" height="7.65" fill="#f7f0ea"/>
<rect x="78.50" y="334.15" width="3.64" height="7.65" fill="#e5ecf1"/>
<rect x="82.12" y="334.15" width="3.64" height="7.65" fill="#e5ecf1"/>
<rect x="85.74" y="334.15" width="3.64" height="7.65" fill="#f7f0ea"/>
<rect x="89.36" y="334.15" width="3.64" height="7.65" fill="#f7f5f3"/>
<rect x="92.98" y="334.15" width="3.64" height="7.65" fill="#dbe8f1"/>
<rect x="98.20" y="334.15" width="3.60" height="7.65" fill="#e5ecf1"/>
<rect x="101.78" y="334.15" width="3.60" height="7.65" fill="#f9dfce"/>
<rect x="105.36" y="334.15" width="3.60" height="7.65" fill="#bbd3e8"/>
<rect x="108.94" y="334.15" width="3.60" height="7.65" fill="#c6dbec"/>
<rect x="112.52" y="334.15" width="3.60" height="7.65" fill="#dbe8f1"/>
<rect x="116.10" y="334.15" width="3.60" height="7.65" fill="#f8e5d7"/>
<rect x="119.68" y="334.15" width="3.60" height="7.65" fill="#f8e5d7"/>
<rect x="123.26" y="334.15" width="3.60" height="7.65" fill="#c6dbec"/>
<rect x="126.84" y="334.15" width="3.60" height="7.65" fill="#eef1f2"/>
<rect x="130.42" y="334.15" width="3.60" height="7.65" fill="#eef1f2"/>
<rect x="134.00" y="334.15" width="3.60" height="7.65" fill="#e5ecf1"/>
<rect x="137.58" y="334.15" width="3.60" height="7.65" fill="#f7f5f3"/>
<rect x="141.16" y="334.15" width="3.60" height="7.65" fill="#98bcdd"/>
<rect x="144.74" y="334.15" width="3.60" height="7.65" fill="#bbd3e8"/>
<rect x="148.32" y="334.15" width="3.60" height="7.65" fill="#eef1f2"/>
<rect x="151.90" y="334.15" width="3.60" height="7.65" fill="#d2e3f0"/>
<rect x="155.48" y="334.15" width="3.60" height="7.65" fill="#8cb4d9"/>
<rect x="159.06" y="334.15" width="3.60" height="7.65" fill="#78a2ce"/>
<rect x="24.20" y="341.78" width="3.64" height="7.65" fill="#f8eae0"/>
<rect x="27.82" y="341.78" width="3.64" height="7.65" fill="#f8eae0"/>
<rect x="31.44" y="341.78" width="3.64" height="7.65" fill="#e99e7a"/>
<rect x="35.06" y="341.78" width="3.64" height="7.65" fill="#eef1f2"/>
<rect x="38.68" y="341.78" width="3.64" height="7.65" fill="#f6d1b9"/>
<rect x="42.30" y="341.78" width="3.64" height="7.65" fill="#f9dfce"/>
<rect x="45.92" y="341.78" width="3.64" height="7.65" fill="#f8eae0"/>
<rect x="49.54" y="341.78" width="3.64" height="7.65" fill="#f8e5d7"/>
<rect x="53.16" y="341.78" width="3.64" height="7.65" fill="#bc3c36"/>
<rect x="56.78" y="341.78" width="3.64" height="7.65" fill="#f4c9af"/>
<rect x="60.40" y="341.78" width="3.64" height="7.65" fill="#ab232f"/>
<rect x="64.02" y="341.78" width="3.64" height="7.65" fill="#e99e7a"/>
<rect x="67.64" y="341.78" width="3.64" height="7.65" fill="#dbe8f1"/>
<rect x="71.26" y="341.78" width="3.64" height="7.65" fill="#f7f5f3"/>
<rect x="74.88" y="341.78" width="3.64" height="7.65" fill="#dbe8f1"/>
<rect x="78.50" y="341.78" width="3.64" height="7.65" fill="#a3c4e1"/>
<rect x="82.12" y="341.78" width="3.64" height="7.65" fill="#a3c4e1"/>
<rect x="85.74" y="341.78" width="3.64" height="7.65" fill="#e5ecf1"/>
<rect x="89.36" y="341.78" width="3.64" height="7.65" fill="#f7f5f3"/>
<rect x="92.98" y="341.78" width="3.64" height="7.65" fill="#eef1f2"/>
<rect x="98.20" y="341.78" width="3.60" height="7.65" fill="#f7f0ea"/>
<rect x="101.78" y="341.78" width="3.60" height="7.65" fill="#e5ecf1"/>
<rect x="105.36" y="341.78" width="3.60" height="7.65" fill="#c6dbec"/>
<rect x="108.94" y="341.78" width="3.60" height="7.65" fill="#d2e3f0"/>
<rect x="112.52" y="341.78" width="3.60" height="7.65" fill="#bbd3e8"/>
<rect x="116.10" y="341.78" width="3.60" height="7.65" fill="#f7f0ea"/>
<rect x="119.68" y="341.78" width="3.60" height="7.65" fill="#f7f0ea"/>
<rect x="123.26" y="341.78" width="3.60" height="7.65" fill="#e5ecf1"/>
<rect x="126.84" y="341.78" width="3.60" height="7.65" fill="#f7f0ea"/>
<rect x="130.42" y="341.78" width="3.60" height="7.65" fill="#eef1f2"/>
<rect x="134.00" y="341.78" width="3.60" height="7.65" fill="#bbd3e8"/>
<rect x="137.58" y="341.78" width="3.60" height="7.65" fill="#f7f5f3"/>
<rect x="141.16" y="341.78" width="3.60" height="7.65" fill="#e5ecf1"/>
<rect x="144.74" y="341.78" width="3.60" height="7.65" fill="#f8eae0"/>
<rect x="148.32" y="341.78" width="3.60" height="7.65" fill="#dbe8f1"/>
<rect x="151.90" y="341.78" width="3.60" height="7.65" fill="#dbe8f1"/>
<rect x="155.48" y="341.78" width="3.60" height="7.65" fill="#d2e3f0"/>
<rect x="159.06" y="341.78" width="3.60" height="7.65" fill="#a3c4e1"/>
<rect x="24.20" y="349.41" width="3.64" height="7.65" fill="#ab232f"/>
<rect x="27.82" y="349.41" width="3.64" height="7.65" fill="#f9dfce"/>
<rect x="31.44" y="349.41" width="3.64" height="7.65" fill="#e5ecf1"/>
<rect x="35.06" y="349.41" width="3.64" height="7.65" fill="#f7f0ea"/>
<rect x="38.68" y="349.41" width="3.64" height="7.65" fill="#f0b899"/>
<rect x="42.30" y="349.41" width="3.64" height="7.65" fill="#f8e5d7"/>
<rect x="45.92" y="349.41" width="3.64" height="7.65" fill="#f8e5d7"/>
<rect x="49.54" y="349.41" width="3.64" height="7.65" fill="#f8eae0"/>
<rect x="53.16" y="349.41" width="3.64" height="7.65" fill="#f6d1b9"/>
<rect x="56.78" y="349.41" width="3.64" height="7.65" fill="#f8d9c4"/>
<rect x="60.40" y="349.41" width="3.64" height="7.65" fill="#f7f5f3"/>
<rect x="64.02" y="349.41" width="3.64" height="7.65" fill="#f7f5f3"/>
<rect x="67.64" y="349.41" width="3.64" height="7.65" fill="#eca884"/>
<rect x="71.26" y="349.41" width="3.64" height="7.65" fill="#f4c9af"/>
<rect x="74.88" y="349.41" width="3.64" height="7.65" fill="#f6d1b9"/>
<rect x="78.50" y="349.41" width="3.64" height="7.65" fill="#f7f0ea"/>
<rect x="82.12" y="349.41" width="3.64" height="7.65" fill="#e5ecf1"/>
<rect x="85.74" y="349.41" width="3.64" height="7.65" fill="#f8eae0"/>
<rect x="89.36" y="349.41" width="3.64" height="7.65" fill="#f7f0ea"/>
<rect x="92.98" y="349.41" width="3.64" height="7.65" fill="#eef1f2"/>
<rect x="98.20" y="349.41" width="3.60" height="7.65" fill="#6e99c9"/>
<rect x="101.78" y="349.41" width="3.60" height="7.65" fill="#82abd3"/>
<rect x="105.36" y="349.41" width="3.60" height="7.65" fill="#f7f5f3"/>
<rect x="108.94" y="349.41" width="3.60" height="7.65" fill="#bbd3e8"/>
<rect x="112.52" y="349.41" width="3.60" height="7.65" fill="#afcce4"/>
<rect x="116.10" y="349.41" width="3.60" height="7.65" fill="#f7f0ea"/>
<rect x="119.68" y="349.41" width="3.60" height="7.65" fill="#f7f5f3"/>
<rect x="123.26" y="349.41" width="3.60" height="7.65" fill="#f7f5f3"/>
<rect x="126.84" y="349.41" width="3.60" height="7.65" fill="#f7f5f3"/>
<rect x="130.42" y="349.41" width="3.60" height="7.65" fill="#f7f5f3"/>
<rect x="134.00" y="349.41" width="3.60" height="7.65" fill="#afcce4"/>
<rect x="137.58" y="349.41" width="3.60" height="7.65" fill="#98bcdd"/>
<rect x="141.16" y="349.41" width="3.60" height="7.65" fill="#c6dbec"/>
<rect x="144.74" y="349.41" width="3.60" height="7.65" fill="#c6dbec"/>
<rect x="148.32" y="349.41" width="3.60" height="7.65" fill="#bbd3e8"/>
<rect x="151.90" y="349.41" width="3.60" height="7.65" fill="#dbe8f1"/>
<rect x="155.48" y="349.41" width="3.60" height="7.65" fill="#f9dfce"/>
<rect x="159.06" y="349.41" width="3.60" height="7.65" fill="#d2e3f0"/>
<rect x="24.20" y="357.04" width="3.64" height="7.65" fill="#e99e7a"/>
<rect x="27.82" y="357.04" width="3.64" height="7.65" fill="#ab232f"/>
<rect x="31.44" y="357.04" width="3.64" height="7.65" fill="#f9dfce"/>
<rect x="35.06" y="357.04" width="3.64" height="7.65" fill="#f8eae0"/>
<rect x="38.68" y="357.04" width="3.64" height="7.65" fill="#f8d9c4"/>
<rect x="42.30" y="357.04" width="3.64" height="7.65" fill="#f7f5f3"/>
<rect x="45.92" y="357.04" width="3.64" height="7.65" fill="#f8e5d7"/>
<rect x="49.54" y="357.04" width="3.64" height="7.65" fill="#dbe8f1"/>
<rect x="53.16" y="357.04" width="3.64" height="7.65" fill="#f0b899"/>
<rect x="56.78" y="357.04" width="3.64" height="7.65" fill="#f9dfce"/>
<rect x="60.40" y="357.04" width="3.64" height="7.65" fill="#f6d1b9"/>
<rect x="64.02" y="357.04" width="3.64" height="7.65" fill="#f9dfce"/>
<rect x="67.64" y="357.04" width="3.64" height="7.65" fill="#f2c0a4"/>
<rect x="71.26" y="357.04" width="3.64" height="7.65" fill="#f2c0a4"/>
<rect x="74.88" y="357.04" width="3.64" height="7.65" fill="#f7f0ea"/>
<rect x="78.50" y="357.04" width="3.64" height="7.65" fill="#eef1f2"/>
<rect x="82.12" y="357.04" width="3.64" height="7.65" fill="#dbe8f1"/>
<rect x="85.74" y="357.04" width="3.64" height="7.65" fill="#e5ecf1"/>
<rect x="89.36" y="357.04" width="3.64" height="7.65" fill="#e5ecf1"/>
<rect x="92.98" y="357.04" width="3.64" height="7.65" fill="#dbe8f1"/>
<rect x="98.20" y="357.04" width="3.60" height="7.65" fill="#6490c3"/>
<rect x="101.78" y="357.04" width="3.60" height="7.65" fill="#c6dbec"/>
<rect x="105.36" y="357.04" width="3.60" height="7.65" fill="#f7f5f3"/>
<rect x="108.94" y="357.04" width="3.60" height="7.65" fill="#a3c4e1"/>
<rect x="112.52" y="357.04" width="3.60" height="7.65" fill="#f7f5f3"/>
<rect x="116.10" y="357.04" width="3.60" height="7.65" fill="#eef1f2"/>
<rect x="119.68" y="357.04" width="3.60" height="7.65" fill="#f8d9c4"/>
<rect x="123.26" y="357.04" width="3.60" height="7.65" fill="#f8eae0"/>
<rect x="126.84" y="357.04" width="3.60" height="7.65" fill="#f7f5f3"/>
<rect x="130.42" y="357.04" width="3.60" height="7.65" fill="#e5ecf1"/>
<rect x="134.00" y="357.04" width="3.60" height="7.65" fill="#dbe8f1"/>
<rect x="137.58" y="357.04" width="3.60" height="7.65" fill="#e5ecf1"/>
<rect x="141.16" y="357.04" width="3.60" height="7.65" fill="#e5ecf1"/>
<rect x="144.74" y="357.04" width="3.60" height="7.65" fill="#eef1f2"/>
<rect x="148.32" y="357.04" width="3.60" height="7.65" fill="#6e99c9"/>
<rect x="151.90" y="357.04" width="3.60" height="7.65" fill="#98bcdd"/>
<rect x="155.48" y="357.04" width="3.60" height="7.65" fill="#e5ecf1"/>
<rect x="159.06" y="357.04" width="3.60" height="7.65" fill="#dbe8f1"/>
<rect x="24.20" y="364.67" width="3.64" height="7.65" fill="#e49270"/>
<rect x="27.82" y="364.67" width="3.64" height="7.65" fill="#f7f5f3"/>
<rect x="31.44" y="364.67" width="3.64" height="7.65" fill="#a3172b"/>
<rect x="35.06" y="364.67" width="3.64" height="7.65" fill="#f8d9c4"/>
<rect x="38.68" y="364.67" width="3.64" height="7.65" fill="#f8d9c4"/>
<rect x="42.30" y="364.67" width="3.64" height="7.65" fill="#f8e5d7"/>
<rect x="45.92" y="364.67" width="3.64" height="7.65" fill="#f8eae0"/>
<rect x="49.54" y="364.67" width="3.64" height="7.65" fill="#f8e5d7"/>
<rect x="53.16" y="364.67" width="3.64" height="7.65" fill="#f8e5d7"/>
<rect x="56.78" y="364.67" width="3.64" height="7.65" fill="#f8e5d7"/>
<rect x="60.40" y="364.67" width="3.64" height="7.65" fill="#e5ecf1"/>
<rect x="64.02" y="364.67" width="3.64" height="7.65" fill="#eef1f2"/>
<rect x="67.64" y="364.67" width="3.64" height="7.65" fill="#eca884"/>
<rect x="71.26" y="364.67" width="3.64" height="7.65" fill="#f4c9af"/>
<rect x="74.88" y="364.67" width="3.64" height="7.65" fill="#f6d1b9"/>
<rect x="78.50" y="364.67" width="3.64" height="7.65" fill="#e5ecf1"/>
<rect x="82.12" y="364.67" width="3.64" height="7.65" fill="#e5ecf1"/>
<rect x="85.74" y="364.67" width="3.64" height="7.65" fill="#507eb9"/>
<rect x="89.36" y="364.67" width="3.64" height="7.65" fill="#eef1f2"/>
<rect x="92.98" y="364.67" width="3.64" height="7.65" fill="#eef1f2"/>
<rect x="98.20" y="364.67" width="3.60" height="7.65" fill="#dbe8f1"/>
<rect x="101.78" y="364.67" width="3.60" height="7.65" fill="#e5ecf1"/>
<rect x="105.36" y="364.67" width="3.60" height="7.65" fill="#8cb4d9"/>
<rect x="108.94" y="364.67" width="3.60" height="7.65" fill="#e5ecf1"/>
<rect x="112.52" y="364.67" width="3.60" height="7.65" fill="#dbe8f1"/>
<rect x="116.10" y="364.67" width="3.60" height="7.65" fill="#e5ecf1"/>
<rect x="119.68" y="364.67" width="3.60" height="7.65" fill="#eef1f2"/>
<rect x="123.26" y="364.67" width="3.60" height="7.65" fill="#f7f0ea"/>
<rect x="126.84" y="364.67" width="3.60" height="7.65" fill="#f8eae0"/>
<rect x="130.42" y="364.67" width="3.60" height="7.65" fill="#f7f5f3"/>
<rect x="134.00" y="364.67" width="3.60" height="7.65" fill="#eeb08f"/>
<rect x="137.58" y="364.67" width="3.60" height="7.65" fill="#dbe8f1"/>
<rect x="141.16" y="364.67" width="3.60" height="7.65" fill="#eef1f2"/>
<rect x="144.74" y="364.67" width="3.60" height="7.65" fill="#bbd3e8"/>
<rect x="148.32" y="364.67" width="3.60" height="7.65" fill="#eef1f2"/>
<rect x="151.90" y="364.67" width="3.60" height="7.65" fill="#c6dbec"/>
<rect x="155.48" y="364.67" width="3.60" height="7.65" fill="#c6dbec"/>
<rect x="159.06" y="364.67" width="3.60" height="7.65" fill="#98bcdd"/>
<path d="M24.20 296.0V372.30M27.82 296.0V372.30M31.44 296.0V372.30M35.06 296.0V372.30M38.68 296.0V372.30M42.30 296.0V372.30M45.92 296.0V372.30M49.54 296.0V372.30M53.16 296.0V372.30M56.78 296.0V372.30M60.40 296.0V372.30M64.02 296.0V372.30M67.64 296.0V372.30M71.26 296.0V372.30M74.88 296.0V372.30M78.50 296.0V372.30M82.12 296.0V372.30M85.74 296.0V372.30M89.36 296.0V372.30M92.98 296.0V372.30M98.20 296.0V372.30M101.78 296.0V372.30M105.36 296.0V372.30M108.94 296.0V372.30M112.52 296.0V372.30M116.10 296.0V372.30M119.68 296.0V372.30M123.26 296.0V372.30M126.84 296.0V372.30M130.42 296.0V372.30M134.00 296.0V372.30M137.58 296.0V372.30M141.16 296.0V372.30M144.74 296.0V372.30M148.32 296.0V372.30M151.90 296.0V372.30M155.48 296.0V372.30M159.06 296.0V372.30M162.64 296.0V372.30M24.2 296.00H96.6M98.2 296.00H162.64M24.2 303.63H96.6M98.2 303.63H162.64M24.2 311.26H96.6M98.2 311.26H162.64M24.2 318.89H96.6M98.2 318.89H162.64M24.2 326.52H96.6M98.2 326.52H162.64M24.2 334.15H96.6M98.2 334.15H162.64M24.2 341.78H96.6M98.2 341.78H162.64M24.2 349.41H96.6M98.2 349.41H162.64M24.2 357.04H96.6M98.2 357.04H162.64M24.2 364.67H96.6M98.2 364.67H162.64M24.2 372.30H96.6M98.2 372.30H162.64" stroke="#d8d8d8" stroke-width="0.3" fill="none"/>
<rect x="96.6" y="287" width="1.6" height="86" fill="#fff"/>
<rect x="24.20" y="287.5" width="3.67" height="2.6" fill="#d2141c"/>
<rect x="27.82" y="287.5" width="3.67" height="2.6" fill="#5db041"/>
<rect x="31.44" y="287.5" width="3.67" height="2.6" fill="#d2141c"/>
<rect x="35.06" y="287.5" width="3.67" height="2.6" fill="#3a6fbf"/>
<rect x="38.68" y="287.5" width="3.67" height="2.6" fill="#3a6fbf"/>
<rect x="42.30" y="287.5" width="3.67" height="2.6" fill="#d2141c"/>
<rect x="45.92" y="287.5" width="3.67" height="2.6" fill="#d2141c"/>
<rect x="49.54" y="287.5" width="3.67" height="2.6" fill="#d2141c"/>
<rect x="53.16" y="287.5" width="3.67" height="2.6" fill="#d2141c"/>
<rect x="56.78" y="287.5" width="3.67" height="2.6" fill="#5db041"/>
<rect x="60.40" y="287.5" width="3.67" height="2.6" fill="#3a6fbf"/>
<rect x="64.02" y="287.5" width="3.67" height="2.6" fill="#3a6fbf"/>
<rect x="67.64" y="287.5" width="3.67" height="2.6" fill="#3a6fbf"/>
<rect x="71.26" y="287.5" width="3.67" height="2.6" fill="#5db041"/>
<rect x="74.88" y="287.5" width="3.67" height="2.6" fill="#5db041"/>
<rect x="78.50" y="287.5" width="3.67" height="2.6" fill="#d2141c"/>
<rect x="82.12" y="287.5" width="3.67" height="2.6" fill="#3a6fbf"/>
<rect x="85.74" y="287.5" width="3.67" height="2.6" fill="#3a6fbf"/>
<rect x="89.36" y="287.5" width="3.67" height="2.6" fill="#3a6fbf"/>
<rect x="92.98" y="287.5" width="3.67" height="2.6" fill="#d2141c"/>
<rect x="98.20" y="287.5" width="3.63" height="2.6" fill="#3a6fbf"/>
<rect x="101.78" y="287.5" width="3.63" height="2.6" fill="#3a6fbf"/>
<rect x="105.36" y="287.5" width="3.63" height="2.6" fill="#3a6fbf"/>
<rect x="108.94" y="287.5" width="3.63" height="2.6" fill="#5db041"/>
<rect x="112.52" y="287.5" width="3.63" height="2.6" fill="#3a6fbf"/>
<rect x="116.10" y="287.5" width="3.63" height="2.6" fill="#3a6fbf"/>
<rect x="119.68" y="287.5" width="3.63" height="2.6" fill="#d2141c"/>
<rect x="123.26" y="287.5" width="3.63" height="2.6" fill="#3a6fbf"/>
<rect x="126.84" y="287.5" width="3.63" height="2.6" fill="#3a6fbf"/>
<rect x="130.42" y="287.5" width="3.63" height="2.6" fill="#3a6fbf"/>
<rect x="134.00" y="287.5" width="3.63" height="2.6" fill="#3a6fbf"/>
<rect x="137.58" y="287.5" width="3.63" height="2.6" fill="#3a6fbf"/>
<rect x="141.16" y="287.5" width="3.63" height="2.6" fill="#3a6fbf"/>
<rect x="144.74" y="287.5" width="3.63" height="2.6" fill="#3a6fbf"/>
<rect x="148.32" y="287.5" width="3.63" height="2.6" fill="#3a6fbf"/>
<rect x="151.90" y="287.5" width="3.63" height="2.6" fill="#3a6fbf"/>
<rect x="155.48" y="287.5" width="3.63" height="2.6" fill="#3a6fbf"/>
<rect x="159.06" y="287.5" width="3.63" height="2.6" fill="#3a6fbf"/>
<path d="M27.82 287.5v2.6M31.44 287.5v2.6M35.06 287.5v2.6M38.68 287.5v2.6M42.30 287.5v2.6M45.92 287.5v2.6M49.54 287.5v2.6M53.16 287.5v2.6M56.78 287.5v2.6M60.40 287.5v2.6M64.02 287.5v2.6M67.64 287.5v2.6M71.26 287.5v2.6M74.88 287.5v2.6M78.50 287.5v2.6M82.12 287.5v2.6M85.74 287.5v2.6M89.36 287.5v2.6M92.98 287.5v2.6M98.20 287.5v2.6M101.78 287.5v2.6M105.36 287.5v2.6M108.94 287.5v2.6M112.52 287.5v2.6M116.10 287.5v2.6M119.68 287.5v2.6M123.26 287.5v2.6M126.84 287.5v2.6M130.42 287.5v2.6M134.00 287.5v2.6M137.58 287.5v2.6M141.16 287.5v2.6M144.74 287.5v2.6M148.32 287.5v2.6M151.90 287.5v2.6M155.48 287.5v2.6M159.06 287.5v2.6" stroke="#fff" stroke-width="0.25" opacity="0.7"/>
<rect x="24.20" y="292.0" width="3.67" height="2.6" fill="#d2141c"/>
<rect x="27.82" y="292.0" width="3.67" height="2.6" fill="#3a6fbf"/>
<rect x="31.44" y="292.0" width="3.67" height="2.6" fill="#3a6fbf"/>
<rect x="35.06" y="292.0" width="3.67" height="2.6" fill="#3a6fbf"/>
<rect x="38.68" y="292.0" width="3.67" height="2.6" fill="#3a6fbf"/>
<rect x="42.30" y="292.0" width="3.67" height="2.6" fill="#d2141c"/>
<rect x="45.92" y="292.0" width="3.67" height="2.6" fill="#d2141c"/>
<rect x="49.54" y="292.0" width="3.67" height="2.6" fill="#d2141c"/>
<rect x="53.16" y="292.0" width="3.67" height="2.6" fill="#d2141c"/>
<rect x="56.78" y="292.0" width="3.67" height="2.6" fill="#5db041"/>
<rect x="60.40" y="292.0" width="3.67" height="2.6" fill="#d2141c"/>
<rect x="64.02" y="292.0" width="3.67" height="2.6" fill="#d2141c"/>
<rect x="67.64" y="292.0" width="3.67" height="2.6" fill="#3a6fbf"/>
<rect x="71.26" y="292.0" width="3.67" height="2.6" fill="#d2141c"/>
<rect x="74.88" y="292.0" width="3.67" height="2.6" fill="#3a6fbf"/>
<rect x="78.50" y="292.0" width="3.67" height="2.6" fill="#3a6fbf"/>
<rect x="82.12" y="292.0" width="3.67" height="2.6" fill="#3a6fbf"/>
<rect x="85.74" y="292.0" width="3.67" height="2.6" fill="#d2141c"/>
<rect x="89.36" y="292.0" width="3.67" height="2.6" fill="#5db041"/>
<rect x="92.98" y="292.0" width="3.67" height="2.6" fill="#5db041"/>
<rect x="98.20" y="292.0" width="3.63" height="2.6" fill="#5db041"/>
<rect x="101.78" y="292.0" width="3.63" height="2.6" fill="#5db041"/>
<rect x="105.36" y="292.0" width="3.63" height="2.6" fill="#5db041"/>
<rect x="108.94" y="292.0" width="3.63" height="2.6" fill="#5db041"/>
<rect x="112.52" y="292.0" width="3.63" height="2.6" fill="#5db041"/>
<rect x="116.10" y="292.0" width="3.63" height="2.6" fill="#d2141c"/>
<rect x="119.68" y="292.0" width="3.63" height="2.6" fill="#5db041"/>
<rect x="123.26" y="292.0" width="3.63" height="2.6" fill="#5db041"/>
<rect x="126.84" y="292.0" width="3.63" height="2.6" fill="#5db041"/>
<rect x="130.42" y="292.0" width="3.63" height="2.6" fill="#5db041"/>
<rect x="134.00" y="292.0" width="3.63" height="2.6" fill="#5db041"/>
<rect x="137.58" y="292.0" width="3.63" height="2.6" fill="#5db041"/>
<rect x="141.16" y="292.0" width="3.63" height="2.6" fill="#5db041"/>
<rect x="144.74" y="292.0" width="3.63" height="2.6" fill="#5db041"/>
<rect x="148.32" y="292.0" width="3.63" height="2.6" fill="#5db041"/>
<rect x="151.90" y="292.0" width="3.63" height="2.6" fill="#5db041"/>
<rect x="155.48" y="292.0" width="3.63" height="2.6" fill="#3a6fbf"/>
<rect x="159.06" y="292.0" width="3.63" height="2.6" fill="#5db041"/>
<path d="M27.82 292.0v2.6M31.44 292.0v2.6M35.06 292.0v2.6M38.68 292.0v2.6M42.30 292.0v2.6M45.92 292.0v2.6M49.54 292.0v2.6M53.16 292.0v2.6M56.78 292.0v2.6M60.40 292.0v2.6M64.02 292.0v2.6M67.64 292.0v2.6M71.26 292.0v2.6M74.88 292.0v2.6M78.50 292.0v2.6M82.12 292.0v2.6M85.74 292.0v2.6M89.36 292.0v2.6M92.98 292.0v2.6M98.20 292.0v2.6M101.78 292.0v2.6M105.36 292.0v2.6M108.94 292.0v2.6M112.52 292.0v2.6M116.10 292.0v2.6M119.68 292.0v2.6M123.26 292.0v2.6M126.84 292.0v2.6M130.42 292.0v2.6M134.00 292.0v2.6M137.58 292.0v2.6M141.16 292.0v2.6M144.74 292.0v2.6M148.32 292.0v2.6M151.90 292.0v2.6M155.48 292.0v2.6M159.06 292.0v2.6" stroke="#fff" stroke-width="0.25" opacity="0.7"/>
<text transform="translate(164.00,290.30) scale(0.480)" font-size="10" fill="#000" font-weight="bold" textLength="40.62" lengthAdjust="spacingAndGlyphs">Response</text>
<text transform="translate(164.00,294.90) scale(0.480)" font-size="10" fill="#000" font-weight="bold" textLength="64.58" lengthAdjust="spacingAndGlyphs">Immune_cluster</text>
<text transform="translate(164.20,301.87) scale(0.560)" font-size="10" fill="#222" textLength="46.43" lengthAdjust="spacingAndGlyphs">FCGR3A/B</text>
<text transform="translate(164.20,309.50) scale(0.560)" font-size="10" fill="#222" textLength="26.07" lengthAdjust="spacingAndGlyphs">FPR1</text>
<text transform="translate(164.20,317.12) scale(0.560)" font-size="10" fill="#222" textLength="26.07" lengthAdjust="spacingAndGlyphs">FBP1</text>
<text transform="translate(164.20,324.75) scale(0.560)" font-size="10" fill="#222" textLength="40.18" lengthAdjust="spacingAndGlyphs">NOTCH2</text>
<text transform="translate(164.20,332.38) scale(0.560)" font-size="10" fill="#222" textLength="46.43" lengthAdjust="spacingAndGlyphs">SERPINH1</text>
<text transform="translate(164.20,340.01) scale(0.560)" font-size="10" fill="#222" textLength="26.43" lengthAdjust="spacingAndGlyphs">CD8B</text>
<text transform="translate(164.20,347.64) scale(0.560)" font-size="10" fill="#222" textLength="24.11" lengthAdjust="spacingAndGlyphs">ICOS</text>
<text transform="translate(164.20,355.27) scale(0.560)" font-size="10" fill="#222" textLength="31.25" lengthAdjust="spacingAndGlyphs">PDGFA</text>
<text transform="translate(164.20,362.91) scale(0.560)" font-size="10" fill="#222" textLength="38.39" lengthAdjust="spacingAndGlyphs">CRABP2</text>
<text transform="translate(164.20,370.54) scale(0.560)" font-size="10" fill="#222" textLength="31.25" lengthAdjust="spacingAndGlyphs">THBS1</text>
<path d="M26.01 287.50V280.20H29.63V287.50M33.25 287.50V281.40H36.87V287.50M27.82 280.20V278.70H35.06V281.40M44.11 287.50V284.10H47.73V287.50M40.49 287.50V283.30H45.92V284.10M51.35 287.50V282.50H54.97V287.50M58.59 287.50V282.60H62.21V287.50M60.40 282.60V281.50H65.83V287.50M53.16 282.50V280.50H63.12V281.50M43.20 283.30V279.00H58.14V280.50M31.44 278.70V275.80H50.67V279.00M73.07 287.50V283.50H76.69V287.50M69.45 287.50V282.20H74.88V283.50M80.31 287.50V282.60H83.93V287.50M91.17 287.50V283.00H94.79V287.50M87.55 287.50V281.60H92.98V283.00M82.12 282.60V280.00H90.27V281.60M72.16 282.20V277.80H86.19V280.00M41.06 275.80V275.10H79.18V277.80M103.57 287.50V281.80H107.15V287.50M110.73 287.50V282.80H114.31V287.50M105.36 281.80V280.60H112.52V282.80M99.99 287.50V279.40H108.94V280.60M117.89 287.50V283.00H121.47V287.50M119.68 283.00V281.50H125.05V287.50M128.63 287.50V282.60H132.21V287.50M135.79 287.50V282.20H139.37V287.50M130.42 282.60V280.50H137.58V282.20M122.37 281.50V279.50H134.00V280.50M104.47 279.40V278.20H128.18V279.50M142.95 287.50V282.20H146.53V287.50M144.74 282.20V281.20H150.11V287.50M153.69 287.50V282.50H157.27V287.50M155.48 282.50V280.50H160.85V287.50M147.43 281.20V279.70H158.17V280.50M116.32 278.20V277.50H152.80V279.70M60.12 275.10V269.40H134.56V277.50" fill="none" stroke="#8a8a8a" stroke-width="0.5"/>
<path d="M24.20 307.44H17.60V315.07H24.20M24.20 299.81H16.10V311.26H17.60M16.10 305.54H12.40V322.70H24.20M12.40 314.12H10.20V330.33H24.20M24.20 337.96H16.10V345.59H24.20M24.20 353.22H15.00V360.86H24.20M15.00 357.04H12.50V368.49H24.20M16.10 341.78H9.90V362.76H12.50M10.20 322.23H6.90V352.27H9.90" fill="none" stroke="#8a8a8a" stroke-width="0.5"/>
<defs><linearGradient id="cbB" x1="0" y1="0" x2="0" y2="1"><stop offset="0" stop-color="#6e0a22"/><stop offset="0.2" stop-color="#c0433c"/><stop offset="0.36" stop-color="#f1b093"/><stop offset="0.5" stop-color="#f7f6f6"/><stop offset="0.64" stop-color="#a9cce3"/><stop offset="0.8" stop-color="#4a8ac1"/><stop offset="1" stop-color="#1f4e93"/></linearGradient></defs>
<rect x="199.3" y="287.6" width="3.3" height="49.3" fill="url(#cbB)"/>
<text transform="translate(204.60,296.10) scale(0.440)" font-size="10" fill="#444">2</text>
<text transform="translate(204.60,304.20) scale(0.440)" font-size="10" fill="#444">1</text>
<text transform="translate(204.60,313.30) scale(0.440)" font-size="10" fill="#444">0</text>
<text transform="translate(204.60,321.60) scale(0.440)" font-size="10" fill="#444">−1</text>
<text transform="translate(204.60,330.20) scale(0.440)" font-size="10" fill="#444">−2</text>
<text transform="translate(214.60,290.00) scale(0.480)" font-size="10" fill="#000" font-weight="bold" textLength="40.62" lengthAdjust="spacingAndGlyphs">Response</text>
<rect x="214.6" y="291.50" width="4.9" height="4.85" fill="#d2141c"/>
<text transform="translate(221.30,295.30) scale(0.520)" font-size="10" fill="#3a3a3a" textLength="70.58" lengthAdjust="spacingAndGlyphs">Complete response</text>
<rect x="214.6" y="296.35" width="4.9" height="4.85" fill="#3a6fbf"/>
<text transform="translate(221.30,300.15) scale(0.520)" font-size="10" fill="#3a3a3a" textLength="46.54" lengthAdjust="spacingAndGlyphs">No response</text>
<rect x="214.6" y="301.20" width="4.9" height="4.85" fill="#5db041"/>
<text transform="translate(221.30,305.00) scale(0.520)" font-size="10" fill="#3a3a3a" textLength="57.69" lengthAdjust="spacingAndGlyphs">Partial response</text>
<text transform="translate(214.60,311.40) scale(0.480)" font-size="10" fill="#000" font-weight="bold" textLength="64.58" lengthAdjust="spacingAndGlyphs">Immune_cluster</text>
<rect x="214.6" y="312.40" width="4.9" height="4.8" fill="#d2141c"/>
<text transform="translate(221.30,316.20) scale(0.520)" font-size="10" fill="#3a3a3a" textLength="17.31" lengthAdjust="spacingAndGlyphs">High</text>
<rect x="214.6" y="317.20" width="4.9" height="4.8" fill="#3a6fbf"/>
<text transform="translate(221.30,321.00) scale(0.520)" font-size="10" fill="#3a3a3a" textLength="47.12" lengthAdjust="spacingAndGlyphs">Intermediate</text>
<rect x="214.6" y="322.00" width="4.9" height="4.8" fill="#5db041"/>
<text transform="translate(221.30,325.80) scale(0.520)" font-size="10" fill="#3a3a3a" textLength="14.62" lengthAdjust="spacingAndGlyphs">Low</text>
<text x="278.6" y="218.6" font-size="11.0" fill="#000" font-weight="bold">C</text>
<rect x="315.6" y="224.90" width="19.2" height="3.32" fill="#c8524c"/>
<rect x="315.6" y="227.62" width="19.2" height="3.32" fill="#b94c46"/>
<rect x="315.6" y="230.35" width="19.2" height="3.32" fill="#ac4742"/>
<rect x="315.6" y="233.07" width="19.2" height="3.32" fill="#a2433e"/>
<rect x="315.6" y="235.80" width="19.2" height="3.32" fill="#9b403b"/>
<rect x="315.6" y="238.52" width="19.2" height="3.32" fill="#933c38"/>
<rect x="315.6" y="241.25" width="19.2" height="3.32" fill="#8e3a36"/>
<rect x="315.6" y="243.97" width="19.2" height="3.32" fill="#8a3834"/>
<rect x="315.6" y="246.70" width="19.2" height="3.32" fill="#843632"/>
<rect x="315.6" y="249.42" width="19.2" height="3.32" fill="#803531"/>
<rect x="315.6" y="252.14" width="19.2" height="3.32" fill="#7c332f"/>
<rect x="315.6" y="254.87" width="19.2" height="3.32" fill="#77312d"/>
<rect x="315.6" y="257.59" width="19.2" height="3.32" fill="#722f2b"/>
<rect x="315.6" y="260.32" width="19.2" height="3.32" fill="#6d2d29"/>
<rect x="315.6" y="263.04" width="19.2" height="3.32" fill="#682b28"/>
<rect x="315.6" y="265.77" width="19.2" height="3.32" fill="#632926"/>
<rect x="315.6" y="268.49" width="19.2" height="3.32" fill="#5e2724"/>
<rect x="315.6" y="271.22" width="19.2" height="3.32" fill="#592422"/>
<rect x="315.6" y="273.94" width="19.2" height="3.32" fill="#542220"/>
<rect x="315.6" y="276.67" width="19.2" height="3.32" fill="#4f201e"/>
<rect x="315.6" y="279.39" width="19.2" height="3.32" fill="#4a1e1c"/>
<rect x="315.6" y="282.11" width="19.2" height="3.32" fill="#451c1a"/>
<rect x="315.6" y="284.84" width="19.2" height="3.32" fill="#401a18"/>
<rect x="315.6" y="287.56" width="19.2" height="3.32" fill="#3b1816"/>
<rect x="315.6" y="290.29" width="19.2" height="3.32" fill="#371715"/>
<rect x="315.6" y="293.01" width="19.2" height="3.32" fill="#331513"/>
<rect x="315.6" y="295.74" width="19.2" height="3.32" fill="#2f1312"/>
<rect x="315.6" y="298.46" width="19.2" height="3.32" fill="#2a1110"/>
<rect x="315.6" y="301.19" width="19.2" height="3.32" fill="#250f0e"/>
<rect x="315.6" y="303.91" width="19.2" height="3.32" fill="#200d0c"/>
<rect x="315.6" y="306.63" width="19.2" height="3.32" fill="#190a09"/>
<rect x="315.6" y="309.36" width="19.2" height="3.32" fill="#140808"/>
<rect x="315.6" y="312.08" width="19.2" height="3.32" fill="#0a0404"/>
<rect x="315.6" y="314.81" width="19.2" height="3.32" fill="#172910"/>
<rect x="315.6" y="317.53" width="19.2" height="3.32" fill="#1a2d12"/>
<rect x="315.6" y="320.26" width="19.2" height="3.32" fill="#1c3114"/>
<rect x="315.6" y="322.98" width="19.2" height="3.32" fill="#1e3415"/>
<rect x="315.6" y="325.71" width="19.2" height="3.32" fill="#1f3716"/>
<rect x="315.6" y="328.43" width="19.2" height="3.32" fill="#213a17"/>
<rect x="315.6" y="331.16" width="19.2" height="3.32" fill="#3b6829"/>
<rect x="315.6" y="333.88" width="19.2" height="3.32" fill="#42742e"/>
<rect x="315.6" y="336.60" width="19.2" height="3.32" fill="#498033"/>
<rect x="315.6" y="339.33" width="19.2" height="3.32" fill="#4f8b37"/>
<rect x="315.6" y="342.05" width="19.2" height="3.32" fill="#579a3d"/>
<rect x="315.6" y="344.78" width="19.2" height="3.32" fill="#5ca240"/>
<rect x="315.6" y="347.50" width="19.2" height="3.32" fill="#63ae45"/>
<rect x="315.6" y="350.23" width="19.2" height="3.32" fill="#68b748"/>
<rect x="315.6" y="352.95" width="19.2" height="3.32" fill="#7ad755"/>
<rect x="315.6" y="355.68" width="19.2" height="2.72" fill="#7ddc57"/>
<rect x="315.6" y="224.9" width="19.2" height="133.5" fill="none" stroke="#222" stroke-width="0.5"/>
<defs><linearGradient id="cbC" x1="0" y1="0" x2="0" y2="1"><stop offset="0" stop-color="#d0554f"/><stop offset="0.51" stop-color="#000"/><stop offset="1" stop-color="#84e85c"/></linearGradient></defs>
<rect x="340.1" y="224.9" width="5.8" height="133.5" fill="url(#cbC)" stroke="#222" stroke-width="0.5"/>
<text transform="translate(348.00,359.90) scale(0.500)" font-size="10" fill="#333">0</text>
<text transform="translate(348.00,343.61) scale(0.500)" font-size="10" fill="#333">0.1</text>
<text transform="translate(348.00,327.32) scale(0.500)" font-size="10" fill="#333">0.2</text>
<text transform="translate(348.00,311.03) scale(0.500)" font-size="10" fill="#333">0.3</text>
<text transform="translate(348.00,294.74) scale(0.500)" font-size="10" fill="#333">0.4</text>
<text transform="translate(348.00,278.45) scale(0.500)" font-size="10" fill="#333">0.5</text>
<text transform="translate(348.00,262.16) scale(0.500)" font-size="10" fill="#333">0.6</text>
<text transform="translate(348.00,245.87) scale(0.500)" font-size="10" fill="#333">0.7</text>
<text transform="translate(348.00,229.58) scale(0.500)" font-size="10" fill="#333">0.8</text>
<path d="M340.1 358.10h0.9M345.9 358.10h-0.9M340.1 341.81h0.9M345.9 341.81h-0.9M340.1 325.52h0.9M345.9 325.52h-0.9M340.1 309.23h0.9M345.9 309.23h-0.9M340.1 292.94h0.9M345.9 292.94h-0.9M340.1 276.65h0.9M345.9 276.65h-0.9M340.1 260.36h0.9M345.9 260.36h-0.9M340.1 244.07h0.9M345.9 244.07h-0.9M340.1 227.78h0.9M345.9 227.78h-0.9" stroke="#000" stroke-width="0.45"/>
<text transform="translate(314.40,227.31) scale(0.300)" font-size="10" fill="#333" text-anchor="end">Neutrophils</text>
<text transform="translate(314.40,230.04) scale(0.300)" font-size="10" fill="#333" text-anchor="end">Myeloid cells</text>
<text transform="translate(314.40,232.76) scale(0.300)" font-size="10" fill="#333" text-anchor="end">Inflammatory chemokines</text>
<text transform="translate(314.40,235.49) scale(0.300)" font-size="10" fill="#333" text-anchor="end">TIS</text>
<text transform="translate(314.40,238.21) scale(0.300)" font-size="10" fill="#333" text-anchor="end">Macrophages</text>
<text transform="translate(314.40,240.93) scale(0.300)" font-size="10" fill="#333" text-anchor="end">CD56dim NK cells</text>
<text transform="translate(314.40,243.66) scale(0.300)" font-size="10" fill="#333" text-anchor="end">IDO1</text>
<text transform="translate(314.40,246.38) scale(0.300)" font-size="10" fill="#333" text-anchor="end">MAGEs</text>
<text transform="translate(314.40,249.11) scale(0.300)" font-size="10" fill="#333" text-anchor="end">IL10</text>
<text transform="translate(314.40,251.83) scale(0.300)" font-size="10" fill="#333" text-anchor="end">NK cells</text>
<text transform="translate(314.40,254.56) scale(0.300)" font-size="10" fill="#333" text-anchor="end">PD-L1</text>
<text transform="translate(314.40,257.28) scale(0.300)" font-size="10" fill="#333" text-anchor="end">PD-L2</text>
<text transform="translate(314.40,260.01) scale(0.300)" font-size="10" fill="#333" text-anchor="end">CD274</text>
<text transform="translate(314.40,262.73) scale(0.300)" font-size="10" fill="#333" text-anchor="end">ARG1</text>
<text transform="translate(314.40,265.46) scale(0.300)" font-size="10" fill="#333" text-anchor="end">Treg</text>
<text transform="translate(314.40,268.18) scale(0.300)" font-size="10" fill="#333" text-anchor="end">Hypoxia</text>
<text transform="translate(314.40,270.90) scale(0.300)" font-size="10" fill="#333" text-anchor="end">Lymphoid cells</text>
<text transform="translate(314.40,273.63) scale(0.300)" font-size="10" fill="#333" text-anchor="end">TGF-Beta</text>
<text transform="translate(314.40,276.35) scale(0.300)" font-size="10" fill="#333" text-anchor="end">B7-H3</text>
<text transform="translate(314.40,279.08) scale(0.300)" font-size="10" fill="#333" text-anchor="end">IFN downstream</text>
<text transform="translate(314.40,281.80) scale(0.300)" font-size="10" fill="#333" text-anchor="end">CTLA4</text>
<text transform="translate(314.40,284.53) scale(0.300)" font-size="10" fill="#333" text-anchor="end">B cells</text>
<text transform="translate(314.40,287.25) scale(0.300)" font-size="10" fill="#333" text-anchor="end">Th1 cells</text>
<text transform="translate(314.40,289.98) scale(0.300)" font-size="10" fill="#333" text-anchor="end">CD45</text>
<text transform="translate(314.40,292.70) scale(0.300)" font-size="10" fill="#333" text-anchor="end">NOS2</text>
<text transform="translate(314.40,295.42) scale(0.300)" font-size="10" fill="#333" text-anchor="end">CD8 T cells</text>
<text transform="translate(314.40,298.15) scale(0.300)" font-size="10" fill="#333" text-anchor="end">MHC2</text>
<text transform="translate(314.40,300.87) scale(0.300)" font-size="10" fill="#333" text-anchor="end">TIGIT</text>
<text transform="translate(314.40,303.60) scale(0.300)" font-size="10" fill="#333" text-anchor="end">Apoptosis</text>
<text transform="translate(314.40,306.32) scale(0.300)" font-size="10" fill="#333" text-anchor="end">Endothelial cells</text>
<text transform="translate(314.40,309.05) scale(0.300)" font-size="10" fill="#333" text-anchor="end">Myeloid inflammation</text>
<text transform="translate(314.40,311.77) scale(0.300)" font-size="10" fill="#333" text-anchor="end">Cytotoxicity</text>
<text transform="translate(314.40,314.50) scale(0.300)" font-size="10" fill="#333" text-anchor="end">JAKSTAT loss</text>
<text transform="translate(314.40,317.22) scale(0.300)" font-size="10" fill="#333" text-anchor="end">B7-H3</text>
<text transform="translate(314.40,319.94) scale(0.300)" font-size="10" fill="#333" text-anchor="end">MAGE</text>
<text transform="translate(314.40,322.67) scale(0.300)" font-size="10" fill="#333" text-anchor="end">MMR loss</text>
<text transform="translate(314.40,325.39) scale(0.300)" font-size="10" fill="#333" text-anchor="end">Cytotoxic cells</text>
<text transform="translate(314.40,328.12) scale(0.300)" font-size="10" fill="#333" text-anchor="end">MHC1</text>
<text transform="translate(314.40,330.84) scale(0.300)" font-size="10" fill="#333" text-anchor="end">CD4</text>
<text transform="translate(314.40,333.57) scale(0.300)" font-size="10" fill="#333" text-anchor="end">Exhausted CD8</text>
<text transform="translate(314.40,336.29) scale(0.300)" font-size="10" fill="#333" text-anchor="end">Proliferation</text>
<text transform="translate(314.40,339.02) scale(0.300)" font-size="10" fill="#333" text-anchor="end">MHC2</text>
<text transform="translate(314.40,341.74) scale(0.300)" font-size="10" fill="#333" text-anchor="end">Glycolytic activity</text>
<text transform="translate(314.40,344.47) scale(0.300)" font-size="10" fill="#333" text-anchor="end">APM loss</text>
<text transform="translate(314.40,347.19) scale(0.300)" font-size="10" fill="#333" text-anchor="end">Immunoproteasome</text>
<text transform="translate(314.40,349.91) scale(0.300)" font-size="10" fill="#333" text-anchor="end">Mast cells</text>
<text transform="translate(314.40,352.64) scale(0.300)" font-size="10" fill="#333" text-anchor="end">Stroma</text>
<text transform="translate(314.40,355.36) scale(0.300)" font-size="10" fill="#333" text-anchor="end">Th2</text>
<text transform="translate(314.40,358.09) scale(0.300)" font-size="10" fill="#333" text-anchor="end">CD68</text>
<text transform="translate(325.20,366.10) scale(0.560)" font-size="10" fill="#222" text-anchor="middle" textLength="66.96" lengthAdjust="spacingAndGlyphs">Correlation with</text>
<text transform="translate(325.20,371.90) scale(0.560)" font-size="10" fill="#222" text-anchor="middle" textLength="57.14" lengthAdjust="spacingAndGlyphs">10-gene score</text>
<text x="382.0" y="218.7" font-size="11.0" fill="#000" font-weight="bold">E</text>
<path d="M406.00 330.60 L509.60 227.40" fill="none" stroke="#222" stroke-width="0.7" stroke-linejoin="miter"/>
<path d="M406.0 227.4H509.6V330.6" fill="none" stroke="#111" stroke-width="0.8"/>
<path d="M406.00 330.60 L417.40 291.38 L486.50 234.42 L509.60 227.40" fill="none" stroke="#24418a" stroke-width="1.35" stroke-linejoin="miter"/>
<path d="M406.00 330.60 L406.00 276.94 L417.40 276.94 L417.40 263.00 L428.79 263.00 L428.79 241.85 L452.10 241.85 L452.10 238.75 L475.41 238.75 L475.41 227.40 L509.60 227.40" fill="none" stroke="#62b346" stroke-width="1.15" stroke-linejoin="miter"/>
<path d="M406.00 330.60 L406.00 266.62 L417.40 266.62 L417.40 259.39 L428.79 259.39 L428.79 241.85 L440.19 241.85 L440.19 231.01 L452.10 231.01 L452.10 227.40 L509.60 227.40" fill="none" stroke="#d4148f" stroke-width="1.15" stroke-linejoin="miter"/>
<path d="M406.0 227.4V266.62M406.0 330.6H509.6" fill="none" stroke="#111" stroke-width="0.85"/>
<path d="M406.0 266.62V330.6" fill="none" stroke="#7a1058" stroke-width="0.9"/>
<text transform="translate(400.00,332.40) scale(0.500)" font-size="10" fill="#444" text-anchor="end">0.0</text>
<text transform="translate(406.00,341.40) scale(0.500)" font-size="10" fill="#444" text-anchor="middle">0.0</text>
<text transform="translate(400.00,311.76) scale(0.500)" font-size="10" fill="#444" text-anchor="end">0.2</text>
<text transform="translate(426.72,341.40) scale(0.500)" font-size="10" fill="#444" text-anchor="middle">0.2</text>
<text transform="translate(400.00,291.12) scale(0.500)" font-size="10" fill="#444" text-anchor="end">0.4</text>
<text transform="translate(447.44,341.40) scale(0.500)" font-size="10" fill="#444" text-anchor="middle">0.4</text>
<text transform="translate(400.00,270.48) scale(0.500)" font-size="10" fill="#444" text-anchor="end">0.6</text>
<text transform="translate(468.16,341.40) scale(0.500)" font-size="10" fill="#444" text-anchor="middle">0.6</text>
<text transform="translate(400.00,249.84) scale(0.500)" font-size="10" fill="#444" text-anchor="end">0.8</text>
<text transform="translate(488.88,341.40) scale(0.500)" font-size="10" fill="#444" text-anchor="middle">0.8</text>
<text transform="translate(400.00,229.20) scale(0.500)" font-size="10" fill="#444" text-anchor="end">1.0</text>
<text transform="translate(509.60,341.40) scale(0.500)" font-size="10" fill="#444" text-anchor="middle">1.0</text>
<path d="M406.0 330.60h-3M406.00 330.6v3M406.0 309.96h-3M426.72 330.6v3M406.0 289.32h-3M447.44 330.6v3M406.0 268.68h-3M468.16 330.6v3M406.0 248.04h-3M488.88 330.6v3M406.0 227.40h-3M509.60 330.6v3" stroke="#111" stroke-width="0.7"/>
<text x="0" y="0" font-size="10" fill="#222" text-anchor="middle" transform="translate(388.0,278.5) rotate(-90) scale(0.66)" textLength="40.9" lengthAdjust="spacingAndGlyphs">Sensitivity</text>
<text transform="translate(458.00,351.60) scale(0.660)" font-size="10" fill="#222" text-anchor="middle" textLength="50.00" lengthAdjust="spacingAndGlyphs">1 - specificity</text>
<text transform="translate(457.10,308.80) scale(0.560)" font-size="10" fill="#d4148f" textLength="64.29" lengthAdjust="spacingAndGlyphs">AUROC=0.904</text>
<text transform="translate(457.10,318.00) scale(0.560)" font-size="10" fill="#62b346" textLength="64.29" lengthAdjust="spacingAndGlyphs">AUROC=0.854</text>
<text transform="translate(457.10,327.00) scale(0.560)" font-size="10" fill="#3a5aa0" textLength="64.29" lengthAdjust="spacingAndGlyphs">AUROC=0.672</text>
<text transform="translate(457.60,363.80) scale(0.490)" font-size="10" fill="#333" text-anchor="middle" textLength="75.31" lengthAdjust="spacingAndGlyphs">Source of the Curve</text>
<path d="M412.6 371.1h6.6" stroke="#24418a" stroke-width="1.1"/>
<text transform="translate(422.00,372.80) scale(0.490)" font-size="10" fill="#333" textLength="20.41" lengthAdjust="spacingAndGlyphs">ELN risk</text>
<path d="M462.9 371.1h6.6" stroke="#d4148f" stroke-width="1.1"/>
<text transform="translate(472.40,369.70) scale(0.490)" font-size="10" fill="#333" textLength="61.84" lengthAdjust="spacingAndGlyphs">ELN risk and 10-</text>
<text transform="translate(472.40,375.40) scale(0.490)" font-size="10" fill="#333" textLength="55.92" lengthAdjust="spacingAndGlyphs">gene signature</text>
<path d="M412.6 381.5h6.6" stroke="#62b346" stroke-width="1.1"/>
<text transform="translate(422.00,383.20) scale(0.490)" font-size="10" fill="#333" textLength="69.39" lengthAdjust="spacingAndGlyphs">10-gene signature</text>
<path d="M462.9 381.5h6.6" stroke="#555" stroke-width="0.8"/>
<text transform="translate(472.40,383.20) scale(0.490)" font-size="10" fill="#333" textLength="54.08" lengthAdjust="spacingAndGlyphs">Reference line</text>
<text x="278.2" y="16.6" font-size="11.0" fill="#000" font-weight="bold">D</text>
<path d="M350.9 29.6L365.5 29.3M350.8 30.1L337.0 39.3M361.4 47.5L381.5 45.0M337.3 39.4L342.6 51.4M342.6 51.5L339.8 70.0M342.6 51.4L354.2 78.2M381.5 44.8L425.4 44.9M381.5 44.8L424.8 60.8M339.6 70.0L315.6 104.9M339.6 70.0L355.0 125.0M340.1 70.2L323.8 117.8M354.2 78.3L355.2 125.0M385.2 101.1L416.6 82.8M384.9 101.0L356.3 105.1M331.2 95.2L356.4 104.1M331.2 95.8L323.5 117.7M323.5 116.9L355.2 124.3M294.0 112.2L354.9 125.2M294.2 111.5L323.4 117.1M355.7 104.6L354.5 125.0M345.7 116.9L327.5 154.6M327.9 154.8L317.0 175.7M431.4 33.7L424.1 60.6M431.6 34.5L453.1 52.6M432.6 33.3L472.2 64.7M432.1 33.9L451.5 69.4M433.1 33.6L448.4 85.6M432.1 33.9L416.2 82.2M425.3 45.4L453.5 52.5M425.1 45.6L471.4 66.0M426.4 45.1L417.2 82.4M424.7 60.3L466.1 50.1M425.0 60.1L451.7 68.7M424.5 61.5L469.6 79.9M425.2 60.5L447.8 85.6M453.5 51.5L466.1 50.1M453.2 52.6L471.3 65.9M453.6 52.0L469.9 79.2M466.0 50.6L469.7 79.2M466.2 50.6L447.4 85.9M466.3 50.8L416.3 82.4M472.0 65.7L447.7 86.3M471.6 64.8L416.1 81.7M451.0 69.3L446.9 85.8M451.2 68.5L415.9 81.3M469.9 79.2L447.4 85.9M447.1 86.6L459.4 91.1M447.3 86.4L416.1 82.7M423.9 107.9L425.1 132.9M423.5 107.9L421.9 171.7M445.1 133.3L453.9 150.7M411.9 142.4L453.9 150.7M411.7 142.4L411.1 160.1M411.2 142.6L421.4 171.9M411.2 160.3L436.7 174.1M422.1 171.7L436.8 173.9" stroke="#a040b0" stroke-width="0.42" fill="none" opacity="0.9"/>
<path d="M350.9 30.1L365.5 29.8M351.1 30.3L354.2 78.3M318.8 48.6L342.4 51.3M319.0 48.6L354.2 78.1M342.2 51.5L339.4 70.0M342.4 51.5L381.5 44.8M381.4 44.6L432.0 33.7M381.5 44.8L416.2 82.2M340.0 70.3L316.0 105.2M339.1 70.1L354.5 125.1M354.4 77.7L385.2 99.9M353.8 78.1L330.8 95.5M384.7 100.0L356.1 104.1M384.5 100.1L354.7 124.6M384.8 100.3L331.0 95.5M331.1 95.9L315.7 105.1M330.3 95.5L322.6 117.4M315.6 104.9L345.9 117.0M315.6 104.4L356.2 104.1M323.3 118.3L345.9 117.7M294.1 111.5L345.9 116.5M345.3 116.5L355.6 104.1M346.2 116.6L355.3 124.6M356.7 104.6L355.5 125.0M354.5 125.0L357.0 161.1M345.2 116.7L327.0 154.4M327.5 154.6L316.6 175.5M372.8 178.3L394.5 176.6M432.1 33.9L466.2 50.6M433.0 33.4L452.4 68.9M425.4 44.9L453.6 52.0M424.8 60.8L466.2 50.6M424.9 60.6L451.6 69.2M424.1 60.5L415.5 81.9M453.7 51.8L471.8 65.1M452.9 51.9L450.8 69.3M453.6 52.0L447.4 85.9M453.6 52.0L459.7 90.4M453.1 51.4L415.7 81.6M466.2 50.6L451.5 69.4M466.2 50.6L459.7 90.4M471.0 65.2L469.2 79.1M471.2 65.1L459.2 90.2M451.6 69.2L470.0 79.0M452.0 69.5L447.9 86.0M451.3 68.9L416.0 81.7M469.8 78.7L447.3 85.4M469.9 78.7L416.2 81.7M447.3 86.1L459.6 90.6M459.7 90.2L416.2 82.0M424.4 107.9L425.6 132.9M424.1 107.6L445.5 133.0M424.3 107.5L454.5 150.3M423.0 107.7L410.6 159.9M423.7 107.9L436.8 173.9M424.9 132.9L411.9 142.4M424.7 133.0L432.6 146.3M425.0 132.7L454.0 150.5M424.9 132.9L411.3 160.1M425.3 132.6L449.8 164.8M425.1 132.9L422.3 171.7M424.9 132.9L436.8 173.9M445.2 133.8L412.0 142.9M444.7 133.0L432.4 145.9M445.7 134.1L411.9 160.9M411.9 142.4L449.4 165.1M412.6 142.2L422.8 171.5M412.3 142.1L437.2 173.6M432.4 145.6L410.9 159.5M433.0 146.0L449.6 164.9M453.9 150.7L449.4 165.1M453.8 150.5L422.0 171.5M410.9 160.8L436.4 174.6M449.7 165.5L437.1 174.3" stroke="#80cc60" stroke-width="0.42" fill="none" opacity="0.9"/>
<path d="M350.9 30.5L365.5 30.2M365.3 30.2L381.3 45.0M361.4 47.1L381.5 44.6M337.2 39.7L318.9 49.0M336.9 39.6L342.2 51.6M336.9 39.6L353.8 78.4M319.0 48.6L339.8 69.8M318.6 49.0L353.8 78.5M341.7 51.4L338.9 69.9M342.2 51.6L353.8 78.4M342.5 52.0L381.6 45.3M381.3 44.6L353.8 78.1M339.2 69.7L315.2 104.6M353.8 78.3L356.0 104.6M353.9 78.5L384.7 100.7M354.2 78.5L331.2 95.9M354.5 78.4L346.4 117.1M385.1 100.9L355.3 125.4M384.7 100.3L345.8 116.8M384.8 100.7L331.0 95.9M331.4 96.3L316.0 105.5M330.8 95.8L345.7 117.1M331.7 95.9L324.0 117.8M315.6 104.9L294.1 112.0M315.8 104.4L346.1 116.5M315.8 104.5L355.2 124.6M315.6 105.4L356.2 105.1M323.3 117.8L345.9 117.2M323.1 118.3L354.8 125.7M293.9 112.7L354.8 125.7M294.0 112.5L323.2 118.1M345.7 116.8L356.0 104.4M356.2 104.6L355.0 125.0M355.2 125.2L327.9 154.9M355.0 125.0L357.5 161.1M346.1 117.1L327.9 154.8M372.8 177.9L394.5 176.2M431.9 34.3L466.0 51.0M431.2 34.4L450.6 69.9M432.6 33.8L447.9 85.8M432.6 34.1L416.7 82.4M424.7 44.9L424.1 60.8M425.4 44.9L466.2 50.6M425.6 44.7L451.7 69.2M425.2 45.1L469.7 79.4M425.0 45.1L447.0 86.1M425.0 61.5L453.8 52.7M424.9 60.6L470.0 79.0M453.8 52.0L451.7 69.4M454.0 51.7L470.3 78.9M471.8 66.0L451.6 70.1M471.5 65.3L469.7 79.2M471.8 65.8L416.3 82.7M447.4 85.9L416.2 82.2M459.8 89.7L416.3 81.5M423.9 108.0L411.5 160.2M424.2 107.7L449.9 164.9M423.0 107.9L421.4 171.7M424.9 133.4L445.1 133.8M425.5 132.5L433.4 145.8M424.9 132.9L449.4 165.1M425.4 132.8L437.3 173.8M445.1 133.3L411.9 142.4M412.7 141.8L437.6 173.3M432.7 146.7L453.8 151.2M432.9 146.4L411.4 160.3M433.3 146.4L422.6 171.9M432.3 146.3L436.3 174.0M453.8 150.2L411.2 159.6M454.4 150.8L449.9 165.2M454.3 151.3L422.5 172.3M453.9 150.7L436.8 173.9M411.4 159.4L449.5 164.4M411.7 159.8L422.5 171.4M449.1 164.7L436.5 173.5" stroke="#5cc4e0" stroke-width="0.42" fill="none" opacity="0.9"/>
<path d="M350.9 31.0L365.5 30.7M351.1 30.2L361.6 47.2M362.1 47.5L354.7 78.5M318.6 49.0L339.4 70.2M342.3 51.0L381.4 44.3M381.6 45.0L339.7 70.2M338.9 69.8L330.3 95.5M353.6 78.9L384.4 101.1M353.9 78.1L315.5 104.7M384.9 100.7L346.0 117.2M315.8 105.4L294.3 112.5M294.1 112.0L345.9 117.0M346.5 117.5L356.8 105.1M355.5 125.0L358.0 161.1M328.4 155.0L317.5 175.9M458.2 110.2L480.4 107.7M431.7 33.6L425.0 44.6M431.9 34.1L453.4 52.2M431.7 34.1L451.1 69.6M432.1 33.9L469.9 79.2M431.1 34.2L446.4 86.2M431.7 34.1L459.3 90.6M425.2 44.9L424.6 60.8M425.5 44.4L453.7 51.5M425.5 44.4L466.3 50.1M425.5 44.7L471.8 65.1M425.9 44.4L452.0 68.9M424.6 59.8L466.0 49.6M424.8 60.8L471.7 65.3M424.7 61.0L451.4 69.6M424.7 61.0L469.8 79.4M424.8 60.8L447.4 85.9M424.5 61.2L459.4 90.8M453.1 51.9L446.9 85.8M465.8 50.3L451.1 69.1M465.8 50.4L447.0 85.7M465.8 50.0L415.8 81.6M472.4 65.4L470.6 79.3M471.4 64.9L447.1 85.5M472.2 65.5L460.2 90.6M451.8 70.3L416.5 83.1M447.5 85.4L416.3 81.7M423.3 108.2L444.7 133.6M423.7 107.9L411.9 142.4M423.2 108.0L432.3 146.3M423.1 108.3L453.3 151.1M423.2 108.1L448.9 165.3M424.3 133.3L432.2 146.6M424.5 133.2L449.0 165.4M445.1 133.3L411.3 160.1M444.4 133.4L448.7 165.2M445.5 133.6L422.5 172.0M411.8 142.9L453.8 151.2M411.2 142.4L410.6 160.1M411.6 142.8L449.1 165.5M411.5 142.7L436.4 174.2M432.8 146.2L453.9 150.7M432.2 146.7L448.8 165.6M432.3 146.0L421.6 171.5M452.9 150.4L448.4 164.8M411.3 159.9L449.4 164.9M411.3 160.1L422.1 171.7M411.4 159.9L436.9 173.7M449.4 165.1L422.1 171.7" stroke="#d070d0" stroke-width="0.42" fill="none" opacity="0.9"/>
<path d="M350.7 30.4L361.2 47.4M351.0 30.5L337.2 39.7M365.7 29.8L381.7 44.6M365.7 30.2L342.6 51.7M361.2 47.2L353.8 78.2M361.2 47.1L339.4 69.8M337.0 39.3L318.7 48.6M337.3 39.4L354.2 78.2M381.6 45.0L432.2 34.1M381.7 44.3L425.0 60.3M353.5 77.7L330.5 95.1M354.0 78.3L345.9 117.0M384.4 99.9L415.8 81.6M331.2 95.6L346.1 116.9M330.8 95.9L354.8 125.2M315.4 104.4L293.9 111.5M316.0 104.6L323.7 117.3M323.3 117.4L345.9 116.8M323.4 117.4L355.1 124.8M346.1 117.2L356.4 104.8M345.9 117.0L355.0 125.0M355.2 124.9L375.6 156.4M346.6 117.3L328.4 155.0M357.6 161.6L375.5 157.0M432.3 33.7L471.9 65.1M431.7 34.2L469.5 79.5M431.2 34.3L458.8 90.8M425.8 44.6L460.1 90.1M424.4 44.7L415.2 82.0M424.7 60.6L453.5 51.8M424.9 61.3L466.3 51.1M424.8 61.3L471.7 65.8M425.0 60.9L416.4 82.3M454.1 52.6L416.7 82.8M466.2 50.6L471.7 65.3M465.5 50.7L469.2 79.3M466.7 50.7L460.2 90.5M466.1 50.4L416.1 82.0M471.6 64.6L451.4 68.7M471.7 65.3L459.7 90.4M471.7 65.3L416.2 82.2M451.5 69.4L459.7 90.4M470.1 79.4L459.9 90.6M459.6 91.1L416.1 82.9M423.0 107.9L424.2 132.9M424.9 132.9L445.1 133.3M424.5 133.5L453.5 151.3M424.7 132.9L421.9 171.7M445.4 134.3L412.2 143.4M445.1 133.3L432.8 146.2M444.7 133.5L453.5 150.9M444.8 132.9L411.0 159.7M445.1 133.3L436.8 173.9M411.8 142.9L432.7 146.7M412.1 141.4L454.1 149.7M412.2 142.0L449.7 164.7M411.7 142.5L421.9 171.8M432.8 146.2L436.8 173.9M454.0 150.9L422.2 171.9M454.3 151.0L437.2 174.2M411.2 160.8L449.3 165.8M449.3 164.6L422.0 171.2M422.0 172.7L436.7 174.9" stroke="#444444" stroke-width="0.42" fill="none" opacity="0.9"/>
<path d="M351.1 30.4L339.8 70.1M365.3 29.9L361.2 47.2M360.7 47.1L353.3 78.1M343.1 51.6L340.3 70.1M381.7 45.0L354.2 78.5M381.5 44.3L425.4 44.4M381.3 45.3L424.6 61.3M381.9 44.5L416.6 81.9M339.8 70.1L331.2 95.8M339.6 70.0L323.3 117.6M353.5 78.2L345.4 116.9M354.1 78.5L315.7 105.1M384.7 100.3L416.1 82.0M384.8 100.5L355.0 125.0M330.6 95.1L315.2 104.3M331.2 95.5L355.2 124.8M315.2 105.2L322.9 117.9M315.6 104.9L355.0 125.0M315.6 104.9L356.2 104.6M323.3 116.9L345.9 116.3M294.3 111.3L355.2 124.3M357.4 160.6L375.3 156.0M432.5 34.2L425.8 45.2M432.8 34.1L425.5 61.0M432.6 33.3L454.1 51.4M432.3 33.5L466.4 50.2M431.6 34.5L471.2 65.9M432.5 33.7L451.9 69.2M432.5 33.6L470.3 78.9M433.0 33.5L460.6 90.0M431.6 33.7L415.7 82.0M426.1 44.9L425.5 60.8M425.6 43.9L453.8 51.0M425.7 44.2L472.0 64.6M424.9 45.4L451.0 69.9M425.9 44.3L470.4 78.6M425.8 44.7L447.8 85.7M425.4 44.9L459.7 90.4M424.9 44.8L415.7 82.1M424.6 60.1L453.4 51.3M425.0 61.8L466.4 51.6M424.8 60.3L471.7 64.8M424.6 61.5L451.3 70.1M425.1 60.1L470.2 78.5M424.8 60.8L459.7 90.4M425.5 61.1L416.9 82.5M453.7 52.5L466.3 51.1M454.0 51.4L472.1 64.7M454.3 52.1L452.2 69.5M454.5 51.5L470.8 78.7M454.1 52.1L447.9 86.0M453.1 52.1L459.2 90.5M453.8 52.2L416.4 82.4M465.7 50.8L471.2 65.5M466.9 50.5L470.6 79.1M466.6 50.8L447.8 86.1M465.7 50.5L459.2 90.3M466.6 51.2L416.6 82.8M471.7 65.5L451.5 69.6M472.6 65.7L460.6 90.8M451.9 68.7L470.3 78.5M451.5 69.4L447.4 85.9M451.0 69.6L459.2 90.6M470.0 79.7L447.5 86.4M470.5 79.7L460.3 90.9M469.9 79.2L416.2 82.2M447.7 85.2L460.0 89.7M423.5 107.9L424.7 132.9M422.9 108.5L444.3 133.9M424.2 108.1L412.4 142.6M423.7 107.9L432.8 146.2M423.9 107.8L454.1 150.6M424.4 108.1L412.0 160.3M423.7 107.9L449.4 165.1M424.4 107.9L422.8 171.7M424.2 107.8L437.3 173.8M424.9 132.4L445.1 132.8M425.2 133.3L412.2 142.8M425.1 132.8L433.0 146.1M425.3 132.3L454.3 150.1M424.5 132.7L410.9 159.9M425.7 132.3L450.2 164.5M425.6 133.0L422.8 171.8M445.0 132.8L411.8 141.9M445.5 133.6L433.2 146.5M445.5 133.1L454.3 150.5M445.4 133.7L411.6 160.5M444.9 133.3L449.2 165.1M444.7 133.0L421.7 171.4M445.6 133.4L437.3 174.0M412.0 141.9L432.9 145.7M411.7 143.4L453.7 151.7M412.1 142.4L411.5 160.1M411.4 143.3L448.9 166.0M411.9 142.4L436.8 173.9M432.9 145.7L454.0 150.2M433.2 146.8L411.7 160.7M432.6 146.4L449.2 165.3M432.8 146.2L422.1 171.7M454.0 151.2L411.4 160.6M454.9 151.0L450.4 165.4M453.5 150.1L421.7 171.1M453.5 150.4L436.4 173.6M411.3 160.3L449.4 165.3M411.7 159.4L437.2 173.2M449.5 165.6L422.2 172.2M422.2 170.7L436.9 172.9" stroke="#b845c0" stroke-width="0.42" fill="none" opacity="0.9"/>
<path d="M350.7 30.2L339.4 69.9M365.3 29.8L342.2 51.3M361.6 47.4L354.2 78.4M336.9 39.5L339.4 70.0M381.1 45.1L415.8 82.5M339.4 69.9L330.8 95.6M340.1 69.9L355.5 124.9M354.1 78.1L384.9 100.3M354.5 78.9L331.5 96.3M384.9 100.7L416.3 82.4M331.0 95.7L356.2 104.6M315.6 104.9L323.3 117.6M294.1 112.5L345.9 117.5M345.6 117.4L354.7 125.4M354.8 124.8L327.5 154.5M354.8 125.1L375.2 156.6M357.5 161.1L375.4 156.5M327.0 154.4L316.1 175.3M458.2 110.6L480.4 108.1M432.1 33.9L425.4 44.9M431.9 33.8L424.6 60.7M432.1 33.9L447.4 85.9M432.1 33.9L459.7 90.4M425.3 45.1L471.6 65.5M424.9 45.5L469.4 79.8M425.4 44.9L447.4 85.9M425.9 45.0L416.7 82.3M424.9 61.0L453.7 52.2M453.4 52.0L451.3 69.4M453.2 52.3L469.5 79.5M454.1 51.9L460.2 90.3M466.7 50.4L472.2 65.1M466.6 50.9L451.9 69.7M466.4 50.6L470.1 79.2M471.7 65.3L447.4 85.9M470.8 64.9L458.8 90.0M471.4 64.3L415.9 81.2M451.1 70.1L469.5 79.9M452.0 69.2L460.2 90.2M451.7 69.9L416.4 82.7M469.7 79.0L459.5 90.2M469.9 79.7L416.2 82.7M447.5 85.7L459.8 90.2M459.7 90.6L416.2 82.4M423.7 107.9L445.1 133.3M423.2 107.7L411.4 142.2M423.9 107.9L422.3 171.7M423.2 108.0L436.3 174.0M424.8 133.1L453.8 150.9M424.1 133.5L448.6 165.7M424.4 133.0L436.3 174.0M444.5 132.5L410.7 159.3M445.8 133.2L450.1 165.0M411.9 142.4L432.8 146.2M412.0 141.9L454.0 150.2M412.6 142.4L412.0 160.1M412.4 141.5L449.9 164.2M432.7 146.0L411.2 159.9M431.9 145.8L421.2 171.3M453.4 150.6L448.9 165.0M422.2 171.2L436.9 173.4" stroke="#6cc050" stroke-width="0.42" fill="none" opacity="0.9"/>
<path d="M350.7 30.3L353.8 78.3M365.7 30.1L361.6 47.4M361.6 47.5L339.8 70.2M337.3 39.5L339.8 70.0M318.8 49.0L342.4 51.7M381.4 44.6L339.5 69.8M381.5 45.3L425.4 45.4M340.3 70.2L331.7 95.9M339.1 69.8L322.8 117.4M354.2 78.3L356.4 104.6M353.8 78.3L354.8 125.0M384.8 100.5L356.2 104.6M330.9 95.5L315.5 104.7M330.8 96.2L356.0 105.1M330.8 95.6L323.1 117.5M315.4 105.4L345.7 117.5M315.4 105.3L354.8 125.4M323.2 117.8L354.9 125.2M294.2 111.8L355.1 124.8M294.1 112.0L323.3 117.6M432.3 34.0L425.0 60.9M432.3 33.7L453.8 51.8M431.9 34.1L471.5 65.5M431.6 34.0L446.9 86.0M432.5 33.7L460.1 90.2M425.6 44.9L425.0 60.8M425.2 45.9L453.4 53.0M425.3 45.4L466.1 51.1M425.2 45.1L451.3 69.6M425.6 44.7L470.1 79.0M425.0 45.2L459.3 90.7M425.4 44.9L416.2 82.2M424.4 61.1L447.0 86.2M425.1 60.4L460.0 90.0M424.6 60.7L416.0 82.1M453.6 52.0L466.2 50.6M453.5 52.2L471.6 65.5M452.7 52.5L469.0 79.7M453.4 51.8L416.0 82.0M471.7 65.1L451.5 69.2M471.9 65.3L470.1 79.2M472.0 66.3L416.5 83.2M451.4 69.6L469.8 79.4M451.5 69.4L416.2 82.2M469.3 78.7L459.1 89.9M424.5 107.3L445.9 132.7M424.2 107.8L433.3 146.1M423.5 108.0L453.7 150.8M423.5 107.8L411.1 160.0M424.6 132.5L411.6 142.0M425.3 133.1L411.7 160.3M424.2 132.8L421.4 171.6M444.8 132.3L411.6 141.4M445.3 133.3L449.6 165.1M445.1 133.3L422.1 171.7M444.6 133.2L436.3 173.8M412.1 142.3L422.3 171.6M411.1 143.0L436.0 174.5M433.4 145.7L450.0 164.6M433.7 146.6L423.0 172.1M433.3 146.1L437.3 173.8M453.9 150.7L411.3 160.1M410.9 160.4L421.7 172.0M449.4 165.1L436.8 173.9M422.0 172.2L436.7 174.4" stroke="#cfd040" stroke-width="0.42" fill="none" opacity="0.9"/>
<defs><radialGradient id="gPDGFA" cx="0.45" cy="0.38" r="0.62"><stop offset="0" stop-color="#d8ebce"/><stop offset="0.55" stop-color="#9dcd84"/><stop offset="1" stop-color="#617f52"/></radialGradient><radialGradient id="gPDGFRA" cx="0.45" cy="0.38" r="0.62"><stop offset="0" stop-color="#f0f2e1"/><stop offset="0.55" stop-color="#d9dfb3"/><stop offset="1" stop-color="#868a6f"/></radialGradient><radialGradient id="gKDR" cx="0.45" cy="0.38" r="0.62"><stop offset="0" stop-color="#f9f9f9"/><stop offset="0.55" stop-color="#f1f1f1"/><stop offset="1" stop-color="#959595"/></radialGradient><radialGradient id="gNRP1" cx="0.45" cy="0.38" r="0.62"><stop offset="0" stop-color="#f9f9f9"/><stop offset="0.55" stop-color="#efefef"/><stop offset="1" stop-color="#949494"/></radialGradient><radialGradient id="gFLT1" cx="0.45" cy="0.38" r="0.62"><stop offset="0" stop-color="#fafaf4"/><stop offset="0.55" stop-color="#f1f1e5"/><stop offset="1" stop-color="#96968e"/></radialGradient><radialGradient id="gPDGFRB" cx="0.45" cy="0.38" r="0.62"><stop offset="0" stop-color="#e1eed7"/><stop offset="0.55" stop-color="#b3d49a"/><stop offset="1" stop-color="#6f835f"/></radialGradient><radialGradient id="gPLCG1" cx="0.45" cy="0.38" r="0.62"><stop offset="0" stop-color="#f9f9fa"/><stop offset="0.55" stop-color="#efeff2"/><stop offset="1" stop-color="#949496"/></radialGradient><radialGradient id="gFLT4" cx="0.45" cy="0.38" r="0.62"><stop offset="0" stop-color="#f9f9f9"/><stop offset="0.55" stop-color="#efefef"/><stop offset="1" stop-color="#949494"/></radialGradient><radialGradient id="gVEGFA" cx="0.45" cy="0.38" r="0.62"><stop offset="0" stop-color="#f3f3df"/><stop offset="0.55" stop-color="#e1e1ae"/><stop offset="1" stop-color="#8c8c6c"/></radialGradient><radialGradient id="gIGF1" cx="0.45" cy="0.38" r="0.62"><stop offset="0" stop-color="#e1f0d9"/><stop offset="0.55" stop-color="#b5da9f"/><stop offset="1" stop-color="#708763"/></radialGradient><radialGradient id="gTEAL1" cx="0.45" cy="0.38" r="0.62"><stop offset="0" stop-color="#dcefe6"/><stop offset="0.55" stop-color="#a7d7bf"/><stop offset="1" stop-color="#688577"/></radialGradient><radialGradient id="gSP" cx="0.45" cy="0.38" r="0.62"><stop offset="0" stop-color="#f9f9f9"/><stop offset="0.55" stop-color="#efefef"/><stop offset="1" stop-color="#949494"/></radialGradient><radialGradient id="gW1" cx="0.45" cy="0.38" r="0.62"><stop offset="0" stop-color="#f9f9f9"/><stop offset="0.55" stop-color="#efefef"/><stop offset="1" stop-color="#949494"/></radialGradient><radialGradient id="gTAN1" cx="0.45" cy="0.38" r="0.62"><stop offset="0" stop-color="#f3ebe1"/><stop offset="0.55" stop-color="#e1cdb5"/><stop offset="1" stop-color="#8c7f70"/></radialGradient><radialGradient id="gTIMP1" cx="0.45" cy="0.38" r="0.62"><stop offset="0" stop-color="#e1f2e4"/><stop offset="0.55" stop-color="#b3debc"/><stop offset="1" stop-color="#6f8a74"/></radialGradient><radialGradient id="gTGFB1" cx="0.45" cy="0.38" r="0.62"><stop offset="0" stop-color="#ddeed5"/><stop offset="0.55" stop-color="#abd496"/><stop offset="1" stop-color="#6a835d"/></radialGradient><radialGradient id="gMMP9" cx="0.45" cy="0.38" r="0.62"><stop offset="0" stop-color="#f7f7f9"/><stop offset="0.55" stop-color="#ebebf1"/><stop offset="1" stop-color="#929295"/></radialGradient><radialGradient id="gCD47" cx="0.45" cy="0.38" r="0.62"><stop offset="0" stop-color="#f2eadd"/><stop offset="0.55" stop-color="#dec9ab"/><stop offset="1" stop-color="#8a7d6a"/></radialGradient><radialGradient id="gTGFBR1" cx="0.45" cy="0.38" r="0.62"><stop offset="0" stop-color="#f9f9fb"/><stop offset="0.55" stop-color="#efeff6"/><stop offset="1" stop-color="#949498"/></radialGradient><radialGradient id="gTGFBR2" cx="0.45" cy="0.38" r="0.62"><stop offset="0" stop-color="#f3f9fb"/><stop offset="0.55" stop-color="#e1f1f6"/><stop offset="1" stop-color="#8c9598"/></radialGradient><radialGradient id="gSIRPA" cx="0.45" cy="0.38" r="0.62"><stop offset="0" stop-color="#f9f9f9"/><stop offset="0.55" stop-color="#efefef"/><stop offset="1" stop-color="#949494"/></radialGradient><radialGradient id="gEPAS" cx="0.45" cy="0.38" r="0.62"><stop offset="0" stop-color="#d2ddf2"/><stop offset="0.55" stop-color="#8ea9de"/><stop offset="1" stop-color="#58698a"/></radialGradient><radialGradient id="gIKB" cx="0.45" cy="0.38" r="0.62"><stop offset="0" stop-color="#ebf2d8"/><stop offset="0.55" stop-color="#cdde9d"/><stop offset="1" stop-color="#7f8a61"/></radialGradient><radialGradient id="gCD3D" cx="0.45" cy="0.38" r="0.62"><stop offset="0" stop-color="#eff2dd"/><stop offset="0.55" stop-color="#d7deab"/><stop offset="1" stop-color="#858a6a"/></radialGradient><radialGradient id="gTB" cx="0.45" cy="0.38" r="0.62"><stop offset="0" stop-color="#d9ecf1"/><stop offset="0.55" stop-color="#a1cfdc"/><stop offset="1" stop-color="#648088"/></radialGradient><radialGradient id="gHLA1" cx="0.45" cy="0.38" r="0.62"><stop offset="0" stop-color="#f9f9f9"/><stop offset="0.55" stop-color="#efefef"/><stop offset="1" stop-color="#949494"/></radialGradient><radialGradient id="gHLAB" cx="0.45" cy="0.38" r="0.62"><stop offset="0" stop-color="#f9f9f9"/><stop offset="0.55" stop-color="#efefef"/><stop offset="1" stop-color="#949494"/></radialGradient><radialGradient id="gHLAA" cx="0.45" cy="0.38" r="0.62"><stop offset="0" stop-color="#f9f9f9"/><stop offset="0.55" stop-color="#efefef"/><stop offset="1" stop-color="#949494"/></radialGradient><radialGradient id="gHLAG" cx="0.45" cy="0.38" r="0.62"><stop offset="0" stop-color="#f6f9fb"/><stop offset="0.55" stop-color="#e8f1f4"/><stop offset="1" stop-color="#909597"/></radialGradient><radialGradient id="gB2M" cx="0.45" cy="0.38" r="0.62"><stop offset="0" stop-color="#f9f9f9"/><stop offset="0.55" stop-color="#efefef"/><stop offset="1" stop-color="#949494"/></radialGradient><radialGradient id="gCD8B" cx="0.45" cy="0.38" r="0.62"><stop offset="0" stop-color="#ecf4df"/><stop offset="0.55" stop-color="#d0e5ae"/><stop offset="1" stop-color="#818e6c"/></radialGradient><radialGradient id="gTAN2" cx="0.45" cy="0.38" r="0.62"><stop offset="0" stop-color="#f2eae1"/><stop offset="0.55" stop-color="#dec9b5"/><stop offset="1" stop-color="#8a7d70"/></radialGradient><radialGradient id="gHLAC" cx="0.45" cy="0.38" r="0.62"><stop offset="0" stop-color="#f9f9f9"/><stop offset="0.55" stop-color="#efefef"/><stop offset="1" stop-color="#949494"/></radialGradient><radialGradient id="gCD8A" cx="0.45" cy="0.38" r="0.62"><stop offset="0" stop-color="#e1f2e6"/><stop offset="0.55" stop-color="#b5debf"/><stop offset="1" stop-color="#708a77"/></radialGradient><radialGradient id="gLFNG" cx="0.45" cy="0.38" r="0.62"><stop offset="0" stop-color="#e0f3ec"/><stop offset="0.55" stop-color="#b2e1d0"/><stop offset="1" stop-color="#6e8c81"/></radialGradient><radialGradient id="gSERP" cx="0.45" cy="0.38" r="0.62"><stop offset="0" stop-color="#cde7e6"/><stop offset="0.55" stop-color="#82c3bf"/><stop offset="1" stop-color="#517977"/></radialGradient><radialGradient id="gCOL" cx="0.45" cy="0.38" r="0.62"><stop offset="0" stop-color="#f6f4e1"/><stop offset="0.55" stop-color="#eae3b3"/><stop offset="1" stop-color="#918d6f"/></radialGradient><radialGradient id="gNOTCH1" cx="0.45" cy="0.38" r="0.62"><stop offset="0" stop-color="#f9f9f9"/><stop offset="0.55" stop-color="#efefef"/><stop offset="1" stop-color="#949494"/></radialGradient><radialGradient id="gNOTCH3" cx="0.45" cy="0.38" r="0.62"><stop offset="0" stop-color="#f7f6fa"/><stop offset="0.55" stop-color="#ebe8f2"/><stop offset="1" stop-color="#929096"/></radialGradient><radialGradient id="gRED" cx="0.45" cy="0.38" r="0.62"><stop offset="0" stop-color="#ebc4c4"/><stop offset="0.55" stop-color="#cd6a6a"/><stop offset="1" stop-color="#7f4242"/></radialGradient><radialGradient id="gW3" cx="0.45" cy="0.38" r="0.62"><stop offset="0" stop-color="#f9f9f9"/><stop offset="0.55" stop-color="#efefef"/><stop offset="1" stop-color="#949494"/></radialGradient><radialGradient id="gMAML2" cx="0.45" cy="0.38" r="0.62"><stop offset="0" stop-color="#f2e1e1"/><stop offset="0.55" stop-color="#deb5b5"/><stop offset="1" stop-color="#8a7070"/></radialGradient><radialGradient id="gPINK" cx="0.45" cy="0.38" r="0.62"><stop offset="0" stop-color="#f0e2e2"/><stop offset="0.55" stop-color="#dab7b7"/><stop offset="1" stop-color="#877171"/></radialGradient><radialGradient id="gHES" cx="0.45" cy="0.38" r="0.62"><stop offset="0" stop-color="#e6f3e3"/><stop offset="0.55" stop-color="#bfe1b8"/><stop offset="1" stop-color="#778c72"/></radialGradient><radialGradient id="gPUR" cx="0.45" cy="0.38" r="0.62"><stop offset="0" stop-color="#dbdbf4"/><stop offset="0.55" stop-color="#a4a4e5"/><stop offset="1" stop-color="#66668e"/></radialGradient><radialGradient id="gYEL" cx="0.45" cy="0.38" r="0.62"><stop offset="0" stop-color="#f6f2e4"/><stop offset="0.55" stop-color="#eae0bc"/><stop offset="1" stop-color="#918b74"/></radialGradient></defs>
<circle cx="350.9" cy="30.3" r="4.55" fill="url(#gPDGFA)" stroke="#666" stroke-width="0.45"/>
<ellipse cx="350.9" cy="27.80" rx="2.4" ry="1.2" fill="#fff" opacity="0.5"/>
<circle cx="365.5" cy="30.0" r="4.55" fill="url(#gPDGFRA)" stroke="#666" stroke-width="0.45"/>
<ellipse cx="365.5" cy="27.50" rx="2.4" ry="1.2" fill="#fff" opacity="0.5"/>
<circle cx="337.1" cy="39.5" r="4.55" fill="url(#gKDR)" stroke="#666" stroke-width="0.45"/>
<ellipse cx="337.1" cy="37.00" rx="2.4" ry="1.2" fill="#fff" opacity="0.5"/>
<circle cx="318.8" cy="48.8" r="4.55" fill="url(#gNRP1)" stroke="#666" stroke-width="0.45"/>
<ellipse cx="318.8" cy="46.30" rx="2.4" ry="1.2" fill="#fff" opacity="0.5"/>
<circle cx="342.4" cy="51.5" r="4.55" fill="url(#gFLT1)" stroke="#666" stroke-width="0.45"/>
<ellipse cx="342.4" cy="49.00" rx="2.4" ry="1.2" fill="#fff" opacity="0.5"/>
<circle cx="361.4" cy="47.3" r="4.55" fill="url(#gPDGFRB)" stroke="#666" stroke-width="0.45"/>
<ellipse cx="361.4" cy="44.80" rx="2.4" ry="1.2" fill="#fff" opacity="0.5"/>
<circle cx="381.5" cy="44.8" r="4.55" fill="url(#gPLCG1)" stroke="#666" stroke-width="0.45"/>
<ellipse cx="381.5" cy="42.30" rx="2.4" ry="1.2" fill="#fff" opacity="0.5"/>
<circle cx="339.6" cy="70.0" r="4.55" fill="url(#gFLT4)" stroke="#666" stroke-width="0.45"/>
<ellipse cx="339.6" cy="67.50" rx="2.4" ry="1.2" fill="#fff" opacity="0.5"/>
<circle cx="354.0" cy="78.3" r="4.55" fill="url(#gVEGFA)" stroke="#666" stroke-width="0.45"/>
<ellipse cx="354.0" cy="75.80" rx="2.4" ry="1.2" fill="#fff" opacity="0.5"/>
<circle cx="331.0" cy="95.7" r="4.55" fill="url(#gIGF1)" stroke="#666" stroke-width="0.45"/>
<ellipse cx="331.0" cy="93.20" rx="2.4" ry="1.2" fill="#fff" opacity="0.5"/>
<circle cx="315.6" cy="104.9" r="4.55" fill="url(#gTEAL1)" stroke="#666" stroke-width="0.45"/>
<ellipse cx="315.6" cy="102.40" rx="2.4" ry="1.2" fill="#fff" opacity="0.5"/>
<circle cx="294.1" cy="112.0" r="4.55" fill="url(#gSP)" stroke="#666" stroke-width="0.45"/>
<ellipse cx="294.1" cy="109.50" rx="2.4" ry="1.2" fill="#fff" opacity="0.5"/>
<circle cx="323.3" cy="117.6" r="4.55" fill="url(#gW1)" stroke="#666" stroke-width="0.45"/>
<ellipse cx="323.3" cy="115.10" rx="2.4" ry="1.2" fill="#fff" opacity="0.5"/>
<circle cx="345.9" cy="117.0" r="4.55" fill="url(#gTAN1)" stroke="#666" stroke-width="0.45"/>
<ellipse cx="345.9" cy="114.50" rx="2.4" ry="1.2" fill="#fff" opacity="0.5"/>
<circle cx="356.2" cy="104.6" r="4.55" fill="url(#gTIMP1)" stroke="#666" stroke-width="0.45"/>
<ellipse cx="356.2" cy="102.10" rx="2.4" ry="1.2" fill="#fff" opacity="0.5"/>
<circle cx="355.0" cy="125.0" r="4.55" fill="url(#gTGFB1)" stroke="#666" stroke-width="0.45"/>
<ellipse cx="355.0" cy="122.50" rx="2.4" ry="1.2" fill="#fff" opacity="0.5"/>
<circle cx="384.8" cy="100.5" r="4.55" fill="url(#gMMP9)" stroke="#666" stroke-width="0.45"/>
<ellipse cx="384.8" cy="98.00" rx="2.4" ry="1.2" fill="#fff" opacity="0.5"/>
<circle cx="327.7" cy="154.7" r="4.55" fill="url(#gCD47)" stroke="#666" stroke-width="0.45"/>
<ellipse cx="327.7" cy="152.20" rx="2.4" ry="1.2" fill="#fff" opacity="0.5"/>
<circle cx="357.5" cy="161.1" r="4.55" fill="url(#gTGFBR1)" stroke="#666" stroke-width="0.45"/>
<ellipse cx="357.5" cy="158.60" rx="2.4" ry="1.2" fill="#fff" opacity="0.5"/>
<circle cx="375.4" cy="156.5" r="4.55" fill="url(#gTGFBR2)" stroke="#666" stroke-width="0.45"/>
<ellipse cx="375.4" cy="154.00" rx="2.4" ry="1.2" fill="#fff" opacity="0.5"/>
<circle cx="316.8" cy="175.6" r="4.55" fill="url(#gSIRPA)" stroke="#666" stroke-width="0.45"/>
<ellipse cx="316.8" cy="173.10" rx="2.4" ry="1.2" fill="#fff" opacity="0.5"/>
<circle cx="372.8" cy="178.1" r="4.55" fill="url(#gEPAS)" stroke="#666" stroke-width="0.45"/>
<ellipse cx="372.8" cy="175.60" rx="2.4" ry="1.2" fill="#fff" opacity="0.5"/>
<circle cx="394.5" cy="176.4" r="4.55" fill="url(#gIKB)" stroke="#666" stroke-width="0.45"/>
<ellipse cx="394.5" cy="173.90" rx="2.4" ry="1.2" fill="#fff" opacity="0.5"/>
<circle cx="432.1" cy="33.9" r="4.55" fill="url(#gCD3D)" stroke="#666" stroke-width="0.45"/>
<ellipse cx="432.1" cy="31.40" rx="2.4" ry="1.2" fill="#fff" opacity="0.5"/>
<circle cx="425.4" cy="44.9" r="4.55" fill="url(#gTB)" stroke="#666" stroke-width="0.45"/>
<ellipse cx="425.4" cy="42.40" rx="2.4" ry="1.2" fill="#fff" opacity="0.5"/>
<circle cx="424.8" cy="60.8" r="4.55" fill="url(#gHLA1)" stroke="#666" stroke-width="0.45"/>
<ellipse cx="424.8" cy="58.30" rx="2.4" ry="1.2" fill="#fff" opacity="0.5"/>
<circle cx="453.6" cy="52.0" r="4.55" fill="url(#gHLAB)" stroke="#666" stroke-width="0.45"/>
<ellipse cx="453.6" cy="49.50" rx="2.4" ry="1.2" fill="#fff" opacity="0.5"/>
<circle cx="466.2" cy="50.6" r="4.55" fill="url(#gHLAA)" stroke="#666" stroke-width="0.45"/>
<ellipse cx="466.2" cy="48.10" rx="2.4" ry="1.2" fill="#fff" opacity="0.5"/>
<circle cx="471.7" cy="65.3" r="4.55" fill="url(#gHLAG)" stroke="#666" stroke-width="0.45"/>
<ellipse cx="471.7" cy="62.80" rx="2.4" ry="1.2" fill="#fff" opacity="0.5"/>
<circle cx="451.5" cy="69.4" r="4.55" fill="url(#gB2M)" stroke="#666" stroke-width="0.45"/>
<ellipse cx="451.5" cy="66.90" rx="2.4" ry="1.2" fill="#fff" opacity="0.5"/>
<circle cx="469.9" cy="79.2" r="4.55" fill="url(#gCD8B)" stroke="#666" stroke-width="0.45"/>
<ellipse cx="469.9" cy="76.70" rx="2.4" ry="1.2" fill="#fff" opacity="0.5"/>
<circle cx="447.4" cy="85.9" r="4.55" fill="url(#gTAN2)" stroke="#666" stroke-width="0.45"/>
<ellipse cx="447.4" cy="83.40" rx="2.4" ry="1.2" fill="#fff" opacity="0.5"/>
<circle cx="459.7" cy="90.4" r="4.55" fill="url(#gHLAC)" stroke="#666" stroke-width="0.45"/>
<ellipse cx="459.7" cy="87.90" rx="2.4" ry="1.2" fill="#fff" opacity="0.5"/>
<circle cx="416.2" cy="82.2" r="4.55" fill="url(#gCD8A)" stroke="#666" stroke-width="0.45"/>
<ellipse cx="416.2" cy="79.70" rx="2.4" ry="1.2" fill="#fff" opacity="0.5"/>
<circle cx="423.7" cy="107.9" r="4.55" fill="url(#gLFNG)" stroke="#666" stroke-width="0.45"/>
<ellipse cx="423.7" cy="105.40" rx="2.4" ry="1.2" fill="#fff" opacity="0.5"/>
<circle cx="458.2" cy="110.4" r="4.55" fill="url(#gSERP)" stroke="#666" stroke-width="0.45"/>
<ellipse cx="458.2" cy="107.90" rx="2.4" ry="1.2" fill="#fff" opacity="0.5"/>
<circle cx="480.4" cy="107.9" r="4.55" fill="url(#gCOL)" stroke="#666" stroke-width="0.45"/>
<ellipse cx="480.4" cy="105.40" rx="2.4" ry="1.2" fill="#fff" opacity="0.5"/>
<circle cx="424.9" cy="132.9" r="4.55" fill="url(#gNOTCH1)" stroke="#666" stroke-width="0.45"/>
<ellipse cx="424.9" cy="130.40" rx="2.4" ry="1.2" fill="#fff" opacity="0.5"/>
<circle cx="445.1" cy="133.3" r="4.55" fill="url(#gNOTCH3)" stroke="#666" stroke-width="0.45"/>
<ellipse cx="445.1" cy="130.80" rx="2.4" ry="1.2" fill="#fff" opacity="0.5"/>
<circle cx="411.9" cy="142.4" r="4.55" fill="url(#gRED)" stroke="#666" stroke-width="0.45"/>
<ellipse cx="411.9" cy="139.90" rx="2.4" ry="1.2" fill="#fff" opacity="0.5"/>
<circle cx="432.8" cy="146.2" r="4.55" fill="url(#gW3)" stroke="#666" stroke-width="0.45"/>
<ellipse cx="432.8" cy="143.70" rx="2.4" ry="1.2" fill="#fff" opacity="0.5"/>
<circle cx="453.9" cy="150.7" r="4.55" fill="url(#gMAML2)" stroke="#666" stroke-width="0.45"/>
<ellipse cx="453.9" cy="148.20" rx="2.4" ry="1.2" fill="#fff" opacity="0.5"/>
<circle cx="411.3" cy="160.1" r="4.55" fill="url(#gPINK)" stroke="#666" stroke-width="0.45"/>
<ellipse cx="411.3" cy="157.60" rx="2.4" ry="1.2" fill="#fff" opacity="0.5"/>
<circle cx="449.4" cy="165.1" r="4.55" fill="url(#gHES)" stroke="#666" stroke-width="0.45"/>
<ellipse cx="449.4" cy="162.60" rx="2.4" ry="1.2" fill="#fff" opacity="0.5"/>
<circle cx="422.1" cy="171.7" r="4.55" fill="url(#gPUR)" stroke="#666" stroke-width="0.45"/>
<ellipse cx="422.1" cy="169.20" rx="2.4" ry="1.2" fill="#fff" opacity="0.5"/>
<circle cx="436.8" cy="173.9" r="4.55" fill="url(#gYEL)" stroke="#666" stroke-width="0.45"/>
<ellipse cx="436.8" cy="171.40" rx="2.4" ry="1.2" fill="#fff" opacity="0.5"/>
<text transform="translate(355.50,26.40) scale(0.320)" font-size="10" fill="#1a1a1a">PDGFA</text>
<text transform="translate(370.10,26.10) scale(0.320)" font-size="10" fill="#1a1a1a">PDGFRA</text>
<text transform="translate(341.70,35.60) scale(0.320)" font-size="10" fill="#1a1a1a">KDR</text>
<text transform="translate(323.40,44.90) scale(0.320)" font-size="10" fill="#1a1a1a">NRP1</text>
<text transform="translate(347.00,47.60) scale(0.320)" font-size="10" fill="#1a1a1a">FLT1</text>
<text transform="translate(366.00,43.40) scale(0.320)" font-size="10" fill="#1a1a1a">PDGFRB</text>
<text transform="translate(386.10,40.90) scale(0.320)" font-size="10" fill="#1a1a1a">PLCG1</text>
<text transform="translate(344.20,66.10) scale(0.320)" font-size="10" fill="#1a1a1a">FLT4</text>
<text transform="translate(358.60,74.40) scale(0.320)" font-size="10" fill="#1a1a1a">VEGFA</text>
<text transform="translate(335.60,91.80) scale(0.320)" font-size="10" fill="#1a1a1a">IGF1</text>
<text transform="translate(320.20,101.00) scale(0.320)" font-size="10" fill="#1a1a1a">CTGF</text>
<text transform="translate(298.70,108.10) scale(0.320)" font-size="10" fill="#1a1a1a">SPARC</text>
<text transform="translate(327.90,113.70) scale(0.320)" font-size="10" fill="#1a1a1a">COL1</text>
<text transform="translate(350.50,113.10) scale(0.320)" font-size="10" fill="#1a1a1a">THBS1</text>
<text transform="translate(360.80,100.70) scale(0.320)" font-size="10" fill="#1a1a1a">TIMP1</text>
<text transform="translate(359.60,121.10) scale(0.320)" font-size="10" fill="#1a1a1a">TGFB1</text>
<text transform="translate(389.40,96.60) scale(0.320)" font-size="10" fill="#1a1a1a">MMP9</text>
<text transform="translate(332.30,150.80) scale(0.320)" font-size="10" fill="#1a1a1a">CD47</text>
<text transform="translate(362.10,157.20) scale(0.320)" font-size="10" fill="#1a1a1a">TGFBR1</text>
<text transform="translate(380.00,152.60) scale(0.320)" font-size="10" fill="#1a1a1a">TGFBR2</text>
<text transform="translate(321.40,171.70) scale(0.320)" font-size="10" fill="#1a1a1a">SIRPA</text>
<text transform="translate(377.40,174.20) scale(0.320)" font-size="10" fill="#1a1a1a">EPAS1</text>
<text transform="translate(399.10,172.50) scale(0.320)" font-size="10" fill="#1a1a1a">IKBKG</text>
<text transform="translate(436.70,30.00) scale(0.320)" font-size="10" fill="#1a1a1a">CD3D</text>
<text transform="translate(430.00,41.00) scale(0.320)" font-size="10" fill="#1a1a1a">CD3E</text>
<text transform="translate(429.40,56.90) scale(0.320)" font-size="10" fill="#1a1a1a">HLA-E</text>
<text transform="translate(458.20,48.10) scale(0.320)" font-size="10" fill="#1a1a1a">HLA-B</text>
<text transform="translate(470.80,46.70) scale(0.320)" font-size="10" fill="#1a1a1a">HLA-A</text>
<text transform="translate(476.30,61.40) scale(0.320)" font-size="10" fill="#1a1a1a">HLA-G</text>
<text transform="translate(456.10,65.50) scale(0.320)" font-size="10" fill="#1a1a1a">B2M</text>
<text transform="translate(474.50,75.30) scale(0.320)" font-size="10" fill="#1a1a1a">CD8B</text>
<text transform="translate(452.00,82.00) scale(0.320)" font-size="10" fill="#1a1a1a">CD8A</text>
<text transform="translate(464.30,86.50) scale(0.320)" font-size="10" fill="#1a1a1a">HLA-C</text>
<text transform="translate(420.80,78.30) scale(0.320)" font-size="10" fill="#1a1a1a">CD2</text>
<text transform="translate(428.30,104.00) scale(0.320)" font-size="10" fill="#1a1a1a">LFNG</text>
<text transform="translate(462.80,106.50) scale(0.320)" font-size="10" fill="#1a1a1a">SERPINH1</text>
<text transform="translate(485.00,104.00) scale(0.320)" font-size="10" fill="#1a1a1a">COL4A1</text>
<text transform="translate(429.50,129.00) scale(0.320)" font-size="10" fill="#1a1a1a">NOTCH1</text>
<text transform="translate(449.70,129.40) scale(0.320)" font-size="10" fill="#1a1a1a">NOTCH3</text>
<text transform="translate(416.50,138.50) scale(0.320)" font-size="10" fill="#1a1a1a">NOTCH2</text>
<text transform="translate(437.40,142.30) scale(0.320)" font-size="10" fill="#1a1a1a">JAG1</text>
<text transform="translate(458.50,146.80) scale(0.320)" font-size="10" fill="#1a1a1a">MAML2</text>
<text transform="translate(415.90,156.20) scale(0.320)" font-size="10" fill="#1a1a1a">RBPJ</text>
<text transform="translate(454.00,161.20) scale(0.320)" font-size="10" fill="#1a1a1a">HES5</text>
<text transform="translate(426.70,167.80) scale(0.320)" font-size="10" fill="#1a1a1a">MAML3</text>
<text transform="translate(441.40,170.00) scale(0.320)" font-size="10" fill="#1a1a1a">HEY1</text>
</svg>
<div class="frame"></div>
</body></html>
